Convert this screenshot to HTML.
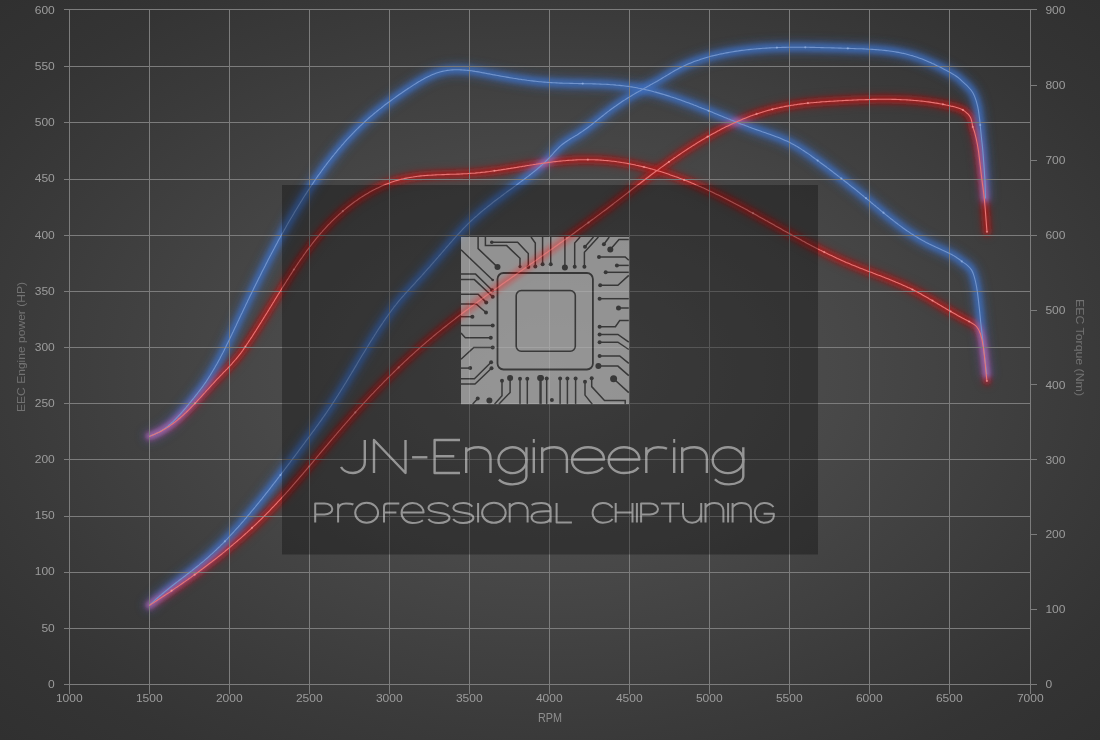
<!DOCTYPE html><html><head><meta charset="utf-8"><title>Dyno chart</title><style>
html,body{margin:0;padding:0;width:1100px;height:740px;overflow:hidden;background:#303030;}
#bg{position:absolute;left:0;top:0;width:1100px;height:740px;background:radial-gradient(ellipse farthest-corner at 50% 50%,#565656 0%,#484848 38%,#3a3a3a 70%,#343434 85%,#303030 100%);}
svg{position:absolute;left:0;top:0;}
text{font-family:"Liberation Sans",sans-serif;}
</style></head><body><div id="bg"></div>
<svg width="1100" height="740" viewBox="0 0 1100 740">
<defs>
<filter id="gbo" x="-20%" y="-20%" width="140%" height="140%"><feGaussianBlur stdDeviation="4.2"/></filter>
<filter id="gro" x="-20%" y="-20%" width="140%" height="140%"><feGaussianBlur stdDeviation="4"/></filter>
<filter id="gbi" x="-20%" y="-20%" width="140%" height="140%"><feGaussianBlur stdDeviation="2"/></filter>
<filter id="gri" x="-20%" y="-20%" width="140%" height="140%"><feGaussianBlur stdDeviation="2"/></filter>
</defs>
<g fill="none" stroke-linejoin="round" stroke-linecap="round" style="isolation:isolate">
<g>
<path d="M149.5,436.2 L151.2,435.6 L152.9,434.9 L154.6,434.2 L156.2,433.5 L157.7,432.7 L159.3,431.9 L160.8,431.0 L162.3,430.1 L163.7,429.1 L165.1,428.2 L166.5,427.1 L167.9,426.1 L169.2,425.0 L170.5,423.9 L171.8,422.7 L173.1,421.6 L174.3,420.4 L175.5,419.2 L176.7,417.9 L177.9,416.7 L179.1,415.4 L180.3,414.1 L181.4,412.8 L182.6,411.5 L183.7,410.2 L184.9,408.8 L186.0,407.5 L187.1,406.1 L188.2,404.8 L189.3,403.4 L190.5,402.1 L191.6,400.7 L192.7,399.3 L193.8,398.0 L194.9,396.6 L196.0,395.2 L197.1,393.9 L198.1,392.5 L199.2,391.1 L200.3,389.7 L201.3,388.3 L202.4,386.9 L203.4,385.5 L204.4,384.0 L205.4,382.6 L206.4,381.2 L207.3,379.7 L208.3,378.2 L209.2,376.8 L210.2,375.3 L211.1,373.8 L212.0,372.3 L212.9,370.8 L213.8,369.3 L214.7,367.8 L215.5,366.3 L216.4,364.8 L217.3,363.3 L218.1,361.7 L218.9,360.2 L219.8,358.7 L220.6,357.1 L221.4,355.6 L222.2,354.0 L223.0,352.5 L223.8,350.9 L224.6,349.3 L225.4,347.8 L226.1,346.2 L226.9,344.6 L227.7,343.1 L228.4,341.5 L229.2,339.9 L230.0,338.3 L230.7,336.7 L231.5,335.2 L232.2,333.6 L233.0,332.0 L233.7,330.4 L234.5,328.8 L235.2,327.2 L236.0,325.7 L236.7,324.1 L237.5,322.5 L238.2,320.9 L239.0,319.3 L239.7,317.7 L240.5,316.1 L241.2,314.6 L242.0,313.0 L242.7,311.4 L243.5,309.8 L244.2,308.2 L245.0,306.7 L245.7,305.1 L246.5,303.5 L247.3,301.9 L248.0,300.3 L248.8,298.8 L249.5,297.2 L250.3,295.6 L251.1,294.0 L251.8,292.5 L252.6,290.9 L253.4,289.3 L254.1,287.8 L254.9,286.2 L255.7,284.6 L256.5,283.0 L257.2,281.5 L258.0,279.9 L258.8,278.3 L259.6,276.8 L260.4,275.2 L261.1,273.7 L261.9,272.1 L262.7,270.5 L263.5,269.0 L264.3,267.4 L265.1,265.9 L265.9,264.3 L266.7,262.7 L267.5,261.2 L268.3,259.6 L269.1,258.1 L269.9,256.5 L270.7,255.0 L271.5,253.4 L272.3,251.9 L273.1,250.4 L274.0,248.8 L274.8,247.3 L275.6,245.7 L276.4,244.2 L277.3,242.7 L278.1,241.1 L278.9,239.6 L279.8,238.0 L280.6,236.5 L281.5,235.0 L282.3,233.5 L283.2,231.9 L284.0,230.4 L284.9,228.9 L285.7,227.4 L286.6,225.8 L287.5,224.3 L288.3,222.8 L289.2,221.3 L290.1,219.8 L291.0,218.3 L291.9,216.8 L292.8,215.2 L293.7,213.7 L294.5,212.2 L295.4,210.7 L296.4,209.2 L297.3,207.7 L298.2,206.2 L299.1,204.7 L300.0,203.3 L300.9,201.8 L301.9,200.3 L302.8,198.8 L303.7,197.3 L304.7,195.8 L305.6,194.4 L306.6,192.9 L307.5,191.4 L308.5,189.9 L309.4,188.5 L310.4,187.0 L311.4,185.5 L312.4,184.1 L313.4,182.6 L314.3,181.2 L315.3,179.7 L316.3,178.3 L317.3,176.9 L318.3,175.4 L319.4,174.0 L320.4,172.6 L321.4,171.2 L322.4,169.7 L323.5,168.3 L324.5,166.9 L325.6,165.5 L326.6,164.1 L327.7,162.7 L328.7,161.3 L329.8,160.0 L330.9,158.6 L332.0,157.2 L333.1,155.8 L334.2,154.5 L335.3,153.1 L336.4,151.8 L337.5,150.4 L338.6,149.1 L339.7,147.8 L340.9,146.5 L342.0,145.1 L343.2,143.8 L344.3,142.5 L345.5,141.2 L346.6,139.9 L347.8,138.7 L349.0,137.4 L350.2,136.1 L351.4,134.9 L352.6,133.6 L353.8,132.4 L355.0,131.1 L356.2,129.9 L357.5,128.7 L358.7,127.5 L360.0,126.2 L361.2,125.1 L362.5,123.9 L363.8,122.7 L365.0,121.5 L366.3,120.3 L367.6,119.2 L368.9,118.0 L370.2,116.9 L371.6,115.8 L372.9,114.6 L374.2,113.5 L375.6,112.4 L376.9,111.3 L378.3,110.2 L379.6,109.1 L381.0,108.1 L382.4,107.0 L383.7,105.9 L385.1,104.8 L386.5,103.8 L387.9,102.7 L389.3,101.7 L390.7,100.7 L392.2,99.6 L393.6,98.6 L395.0,97.6 L396.5,96.5 L397.9,95.5 L399.3,94.5 L400.8,93.5 L402.3,92.5 L403.7,91.5 L405.2,90.5 L406.7,89.5 L408.1,88.5 L409.6,87.6 L411.1,86.6 L412.6,85.6 L414.1,84.6 L415.6,83.7 L417.1,82.7 L418.6,81.8 L420.2,80.9 L421.7,80.0 L423.2,79.2 L424.8,78.3 L426.3,77.5 L427.9,76.7 L429.5,76.0 L431.0,75.3 L432.6,74.6 L434.2,73.9 L435.8,73.3 L437.4,72.8 L439.1,72.3 L440.7,71.8 L442.3,71.4 L444.0,71.0 L445.7,70.7 L447.3,70.4 L449.0,70.2 L450.7,70.0 L452.4,69.9 L454.1,69.8 L455.8,69.8 L457.6,69.8 L459.3,69.8 L461.0,69.9 L462.8,70.0 L464.5,70.1 L466.3,70.2 L468.0,70.4 L469.8,70.6 L471.5,70.8 L473.3,71.1 L475.1,71.4 L476.8,71.6 L478.6,71.9 L480.4,72.2 L482.1,72.6 L483.9,72.9 L485.7,73.2 L487.4,73.6 L489.2,73.9 L490.9,74.2 L492.7,74.6 L494.4,74.9 L496.2,75.2 L497.9,75.5 L499.7,75.9 L501.4,76.2 L503.1,76.5 L504.9,76.8 L506.6,77.1 L508.3,77.4 L510.0,77.7 L511.8,78.0 L513.5,78.3 L515.2,78.5 L516.9,78.8 L518.6,79.1 L520.3,79.3 L522.1,79.6 L523.8,79.8 L525.5,80.0 L527.2,80.3 L528.9,80.5 L530.6,80.7 L532.3,80.9 L534.0,81.1 L535.8,81.3 L537.5,81.5 L539.2,81.7 L540.9,81.8 L542.6,82.0 L544.4,82.1 L546.1,82.3 L547.8,82.4 L549.5,82.5 L551.3,82.6 L553.0,82.7 L554.7,82.8 L556.5,82.9 L558.2,83.0 L560.0,83.1 L561.7,83.1 L563.4,83.2 L565.2,83.2 L566.9,83.3 L568.7,83.3 L570.4,83.4 L572.2,83.4 L574.0,83.5 L575.7,83.5 L577.5,83.5 L579.2,83.6 L581.0,83.6 L582.7,83.6 L584.5,83.7 L586.3,83.7 L588.0,83.7 L589.8,83.8 L591.5,83.8 L593.3,83.9 L595.0,83.9 L596.8,84.0 L598.6,84.0 L600.3,84.1 L602.1,84.2 L603.8,84.3 L605.6,84.3 L607.3,84.4 L609.1,84.5 L610.8,84.7 L612.6,84.8 L614.3,84.9 L616.1,85.1 L617.8,85.2 L619.6,85.4 L621.3,85.6 L623.1,85.8 L624.8,86.0 L626.5,86.2 L628.3,86.4 L630.0,86.7 L631.7,86.9 L633.4,87.2 L635.2,87.5 L636.9,87.8 L638.6,88.2 L640.3,88.5 L642.0,88.9 L643.7,89.2 L645.4,89.6 L647.1,90.0 L648.8,90.4 L650.5,90.8 L652.2,91.2 L653.9,91.7 L655.6,92.1 L657.3,92.6 L659.0,93.1 L660.7,93.6 L662.4,94.1 L664.0,94.6 L665.7,95.1 L667.4,95.6 L669.1,96.1 L670.7,96.7 L672.4,97.2 L674.1,97.8 L675.7,98.3 L677.4,98.9 L679.1,99.5 L680.7,100.1 L682.4,100.7 L684.0,101.3 L685.7,101.9 L687.3,102.5 L689.0,103.1 L690.6,103.7 L692.3,104.3 L693.9,105.0 L695.5,105.6 L697.2,106.2 L698.8,106.9 L700.4,107.5 L702.1,108.2 L703.7,108.8 L705.3,109.5 L706.9,110.1 L708.6,110.8 L710.2,111.4 L711.8,112.1 L713.4,112.8 L715.0,113.4 L716.6,114.1 L718.2,114.7 L719.9,115.4 L721.5,116.1 L723.1,116.7 L724.7,117.4 L726.3,118.0 L727.9,118.7 L729.5,119.3 L731.1,120.0 L732.7,120.6 L734.3,121.3 L736.0,121.9 L737.6,122.6 L739.2,123.2 L740.8,123.9 L742.4,124.5 L744.1,125.1 L745.7,125.7 L747.3,126.3 L749.0,127.0 L750.6,127.6 L752.2,128.2 L753.9,128.8 L755.5,129.4 L757.2,129.9 L758.9,130.5 L760.5,131.1 L762.2,131.7 L763.8,132.2 L765.5,132.8 L767.2,133.4 L768.8,134.0 L770.5,134.6 L772.2,135.2 L773.8,135.8 L775.4,136.4 L777.1,137.0 L778.7,137.6 L780.3,138.3 L782.0,139.0 L783.6,139.7 L785.2,140.4 L786.8,141.1 L788.3,141.8 L789.9,142.6 L791.4,143.4 L793.0,144.2 L794.5,145.1 L796.0,145.9 L797.5,146.8 L799.0,147.7 L800.5,148.6 L801.9,149.6 L803.4,150.5 L804.8,151.5 L806.3,152.5 L807.7,153.4 L809.2,154.4 L810.6,155.4 L812.0,156.5 L813.4,157.5 L814.8,158.5 L816.3,159.5 L817.7,160.6 L819.1,161.6 L820.5,162.7 L821.9,163.7 L823.3,164.7 L824.7,165.8 L826.1,166.8 L827.5,167.9 L828.9,168.9 L830.3,170.0 L831.7,171.0 L833.1,172.1 L834.5,173.2 L835.9,174.2 L837.2,175.3 L838.6,176.4 L840.0,177.4 L841.4,178.5 L842.8,179.6 L844.2,180.7 L845.5,181.7 L846.9,182.8 L848.3,183.9 L849.6,185.0 L851.0,186.1 L852.4,187.2 L853.8,188.3 L855.1,189.3 L856.5,190.4 L857.8,191.5 L859.2,192.6 L860.6,193.8 L861.9,194.9 L863.3,196.0 L864.6,197.1 L866.0,198.2 L867.3,199.3 L868.7,200.4 L870.0,201.5 L871.3,202.7 L872.7,203.8 L874.0,204.9 L875.4,206.0 L876.7,207.1 L878.1,208.2 L879.4,209.4 L880.7,210.5 L882.1,211.6 L883.4,212.7 L884.8,213.8 L886.1,214.9 L887.5,216.0 L888.9,217.1 L890.2,218.2 L891.6,219.3 L893.0,220.3 L894.3,221.4 L895.7,222.5 L897.1,223.5 L898.5,224.6 L899.9,225.6 L901.3,226.6 L902.7,227.7 L904.1,228.7 L905.5,229.7 L906.9,230.7 L908.4,231.6 L909.8,232.6 L911.2,233.6 L912.7,234.5 L914.2,235.5 L915.6,236.4 L917.1,237.3 L918.6,238.2 L920.1,239.1 L921.6,239.9 L923.1,240.8 L924.7,241.6 L926.2,242.5 L927.8,243.3 L929.3,244.1 L930.9,244.8 L932.5,245.6 L934.1,246.3 L935.7,247.1 L937.3,247.8 L938.9,248.5 L940.6,249.2 L942.2,250.0 L943.8,250.7 L945.4,251.4 L947.0,252.2 L948.6,253.0 L950.1,253.8 L951.7,254.6 L953.2,255.4 L954.7,256.3 L956.2,257.2 L957.6,258.2 L959.1,259.2 L960.5,260.3 L961.8,261.4 C964.0,263.0 965.3,263.6 967.4,265.4 C969.2,267.0 970.2,267.9 971.5,269.9 C972.8,272.0 973.1,273.3 973.9,275.6 C974.7,278.1 975.0,279.4 975.6,282.0 C976.4,285.7 976.8,287.6 977.3,291.4 C978.3,298.8 978.7,302.6 979.5,310.0 C980.2,316.0 980.3,319.0 981.0,325.0 C981.7,331.0 982.1,334.0 982.8,340.0 C983.6,346.9 983.9,350.4 984.7,357.3 C985.5,364.0 985.9,367.3 986.7,374.0" stroke="#3868c0" stroke-width="13" stroke-opacity="0.42" filter="url(#gbo)"/>
<path d="M149.6,605.2 L150.9,604.0 L152.1,602.8 L153.4,601.6 L154.7,600.4 L156.0,599.2 L157.4,598.0 L158.7,596.9 L160.0,595.7 L161.4,594.6 L162.7,593.5 L164.1,592.3 L165.4,591.2 L166.8,590.1 L168.2,589.0 L169.6,587.9 L171.0,586.8 L172.3,585.7 L173.7,584.6 L175.1,583.5 L176.5,582.4 L177.9,581.4 L179.3,580.3 L180.7,579.2 L182.1,578.1 L183.6,577.0 L185.0,576.0 L186.4,574.9 L187.8,573.8 L189.2,572.7 L190.6,571.6 L192.0,570.6 L193.3,569.5 L194.7,568.4 L196.1,567.3 L197.5,566.2 L198.9,565.1 L200.2,563.9 L201.6,562.8 L203.0,561.7 L204.3,560.6 L205.6,559.4 L207.0,558.3 L208.3,557.1 L209.6,555.9 L210.9,554.7 L212.2,553.6 L213.5,552.4 L214.8,551.2 L216.1,550.0 L217.4,548.7 L218.6,547.5 L219.9,546.3 L221.1,545.0 L222.4,543.8 L223.6,542.6 L224.9,541.3 L226.1,540.0 L227.3,538.8 L228.5,537.5 L229.7,536.2 L230.9,534.9 L232.1,533.6 L233.3,532.3 L234.5,531.0 L235.7,529.7 L236.9,528.4 L238.1,527.1 L239.2,525.8 L240.4,524.5 L241.5,523.1 L242.7,521.8 L243.9,520.5 L245.0,519.1 L246.2,517.8 L247.3,516.4 L248.4,515.1 L249.6,513.8 L250.7,512.4 L251.8,511.0 L253.0,509.7 L254.1,508.3 L255.2,507.0 L256.3,505.6 L257.5,504.2 L258.6,502.9 L259.7,501.5 L260.8,500.1 L261.9,498.8 L263.0,497.4 L264.1,496.0 L265.2,494.6 L266.3,493.2 L267.4,491.9 L268.5,490.5 L269.6,489.1 L270.7,487.7 L271.7,486.3 L272.8,484.9 L273.9,483.5 L275.0,482.1 L276.1,480.7 L277.1,479.3 L278.2,477.9 L279.3,476.5 L280.4,475.1 L281.4,473.7 L282.5,472.3 L283.6,470.9 L284.6,469.5 L285.7,468.1 L286.8,466.7 L287.8,465.3 L288.9,463.9 L290.0,462.5 L291.0,461.0 L292.1,459.6 L293.1,458.2 L294.2,456.8 L295.3,455.4 L296.3,454.0 L297.4,452.6 L298.4,451.2 L299.5,449.7 L300.5,448.3 L301.6,446.9 L302.6,445.5 L303.7,444.1 L304.7,442.7 L305.8,441.2 L306.8,439.8 L307.9,438.4 L308.9,437.0 L310.0,435.6 L311.0,434.2 L312.1,432.7 L313.1,431.3 L314.2,429.9 L315.2,428.5 L316.2,427.0 L317.3,425.6 L318.3,424.2 L319.3,422.8 L320.4,421.3 L321.4,419.9 L322.4,418.4 L323.4,417.0 L324.4,415.6 L325.4,414.1 L326.4,412.7 L327.4,411.2 L328.4,409.8 L329.4,408.3 L330.4,406.8 L331.4,405.4 L332.3,403.9 L333.3,402.4 L334.3,401.0 L335.2,399.5 L336.2,398.0 L337.1,396.5 L338.1,395.0 L339.0,393.5 L340.0,392.0 L340.9,390.5 L341.8,389.0 L342.8,387.5 L343.7,386.0 L344.6,384.5 L345.6,383.0 L346.5,381.5 L347.4,380.0 L348.3,378.5 L349.2,377.0 L350.1,375.5 L351.0,374.0 L351.9,372.4 L352.9,370.9 L353.8,369.4 L354.7,367.9 L355.6,366.4 L356.5,364.9 L357.4,363.3 L358.3,361.8 L359.2,360.3 L360.1,358.8 L361.0,357.3 L361.9,355.8 L362.8,354.3 L363.8,352.7 L364.7,351.2 L365.6,349.7 L366.5,348.2 L367.4,346.7 L368.4,345.2 L369.3,343.7 L370.2,342.2 L371.1,340.7 L372.1,339.2 L373.0,337.7 L374.0,336.2 L374.9,334.7 L375.9,333.3 L376.8,331.8 L377.8,330.3 L378.7,328.8 L379.7,327.4 L380.7,325.9 L381.7,324.4 L382.7,323.0 L383.6,321.5 L384.6,320.1 L385.6,318.6 L386.7,317.2 L387.7,315.7 L388.7,314.3 L389.7,312.9 L390.8,311.5 L391.8,310.0 L392.9,308.6 L393.9,307.2 L395.0,305.8 L396.1,304.5 L397.2,303.1 L398.3,301.7 L399.4,300.4 L400.6,299.0 L401.7,297.7 L402.9,296.3 L404.1,295.0 L405.2,293.7 L406.4,292.4 L407.6,291.1 L408.8,289.8 L410.0,288.5 L411.2,287.2 L412.4,285.9 L413.6,284.6 L414.8,283.3 L415.9,282.0 L417.1,280.7 L418.3,279.4 L419.5,278.1 L420.7,276.8 L421.9,275.5 L423.1,274.1 L424.2,272.8 L425.4,271.5 L426.6,270.2 L427.7,268.9 L428.9,267.6 L430.1,266.3 L431.2,264.9 L432.4,263.6 L433.5,262.3 L434.7,261.0 L435.9,259.7 L437.0,258.3 L438.2,257.0 L439.3,255.7 L440.5,254.3 L441.6,253.0 L442.8,251.7 L443.9,250.3 L445.1,249.0 L446.2,247.7 L447.4,246.3 L448.6,245.0 L449.7,243.6 L450.9,242.3 L452.1,241.0 L453.2,239.7 L454.4,238.3 L455.6,237.0 L456.8,235.7 L458.0,234.4 L459.2,233.1 L460.4,231.8 L461.6,230.5 L462.8,229.2 L464.0,227.9 L465.3,226.7 L466.5,225.4 L467.7,224.2 L469.0,222.9 L470.3,221.7 L471.5,220.5 L472.8,219.3 L474.1,218.1 L475.4,217.0 L476.8,215.8 L478.1,214.6 L479.4,213.5 L480.7,212.3 L482.1,211.2 L483.4,210.1 L484.8,209.0 L486.2,207.9 L487.5,206.8 L488.9,205.7 L490.3,204.6 L491.7,203.5 L493.0,202.4 L494.4,201.3 L495.8,200.3 L497.2,199.2 L498.6,198.1 L500.1,197.1 L501.5,196.0 L502.9,195.0 L504.3,193.9 L505.7,192.9 L507.1,191.8 L508.5,190.8 L510.0,189.7 L511.4,188.7 L512.8,187.7 L514.2,186.6 L515.7,185.6 L517.1,184.5 L518.5,183.5 L519.9,182.4 L521.3,181.4 L522.7,180.3 L524.2,179.3 L525.6,178.2 L527.0,177.1 L528.4,176.1 L529.8,175.0 L531.2,173.9 L532.6,172.8 L533.9,171.7 L535.3,170.6 L536.7,169.5 L538.0,168.3 L539.4,167.2 L540.7,166.0 L542.0,164.9 L543.3,163.7 L544.6,162.5 L545.9,161.2 L547.1,160.0 L548.4,158.7 L549.6,157.5 L550.8,156.2 L552.0,154.9 L553.2,153.5 L554.3,152.2 L555.5,150.9 L556.7,149.6 L558.0,148.4 L559.2,147.1 L560.5,145.9 L561.8,144.8 L563.2,143.7 L564.6,142.7 L566.0,141.7 L567.5,140.7 L569.0,139.8 L570.5,138.8 L572.0,137.9 L573.5,137.0 L575.0,136.1 L576.6,135.2 L578.1,134.3 L579.5,133.3 L581.0,132.3 L582.5,131.4 L583.9,130.3 L585.4,129.3 L586.8,128.3 L588.2,127.2 L589.6,126.1 L591.0,125.1 L592.4,124.0 L593.8,122.9 L595.2,121.8 L596.6,120.7 L597.9,119.6 L599.3,118.5 L600.7,117.4 L602.1,116.3 L603.5,115.2 L604.8,114.1 L606.2,113.0 L607.6,111.9 L609.0,110.9 L610.4,109.8 L611.8,108.8 L613.2,107.8 L614.6,106.7 L616.1,105.7 L617.5,104.7 L618.9,103.8 L620.4,102.8 L621.8,101.8 L623.3,100.8 L624.8,99.9 L626.2,99.0 L627.7,98.0 L629.2,97.1 L630.7,96.2 L632.2,95.3 L633.7,94.4 L635.2,93.5 L636.8,92.6 L638.3,91.8 L639.8,90.9 L641.4,90.0 L642.9,89.2 L644.4,88.3 L646.0,87.4 L647.5,86.6 L649.1,85.7 L650.6,84.8 L652.1,84.0 L653.7,83.1 L655.2,82.2 L656.7,81.4 L658.3,80.5 L659.8,79.6 L661.3,78.7 L662.8,77.8 L664.3,76.9 L665.8,76.0 L667.3,75.1 L668.8,74.2 L670.3,73.3 L671.8,72.4 L673.3,71.5 L674.9,70.6 L676.4,69.8 L678.0,68.9 L679.5,68.1 L681.1,67.3 L682.7,66.5 L684.3,65.8 L685.9,65.0 L687.5,64.3 L689.2,63.6 L690.8,62.9 L692.4,62.3 L694.1,61.6 L695.7,61.0 L697.4,60.4 L699.0,59.9 L700.7,59.3 L702.4,58.8 L704.1,58.2 L705.7,57.7 L707.4,57.2 L709.1,56.8 L710.8,56.3 L712.5,55.9 L714.2,55.5 L715.9,55.1 L717.6,54.7 L719.3,54.3 L721.1,53.9 L722.8,53.6 L724.5,53.2 L726.2,52.9 L728.0,52.6 L729.7,52.3 L731.4,52.0 L733.1,51.7 L734.9,51.4 L736.6,51.1 L738.4,50.9 L740.1,50.6 L741.8,50.4 L743.6,50.2 L745.3,50.0 L747.1,49.8 L748.8,49.6 L750.6,49.4 L752.3,49.2 L754.1,49.0 L755.8,48.9 L757.6,48.7 L759.3,48.6 L761.1,48.5 L762.8,48.3 L764.6,48.2 L766.4,48.1 L768.1,48.0 L769.9,47.9 L771.7,47.8 L773.4,47.7 L775.2,47.7 L776.9,47.6 L778.7,47.5 L780.5,47.5 L782.3,47.4 L784.0,47.4 L785.8,47.4 L787.6,47.3 L789.3,47.3 L791.1,47.3 L792.9,47.3 L794.6,47.3 L796.4,47.3 L798.2,47.3 L800.0,47.3 L801.7,47.3 L803.5,47.3 L805.3,47.3 L807.1,47.3 L808.8,47.3 L810.6,47.4 L812.4,47.4 L814.2,47.4 L815.9,47.5 L817.7,47.5 L819.5,47.5 L821.2,47.6 L823.0,47.6 L824.8,47.7 L826.6,47.7 L828.3,47.8 L830.1,47.8 L831.9,47.9 L833.6,47.9 L835.4,48.0 L837.2,48.0 L838.9,48.1 L840.7,48.1 L842.5,48.2 L844.2,48.3 L846.0,48.3 L847.8,48.4 L849.5,48.4 L851.3,48.5 L853.1,48.5 L854.8,48.6 L856.6,48.7 L858.3,48.7 L860.1,48.8 L861.8,48.8 L863.6,48.9 L865.3,49.0 L867.1,49.1 L868.8,49.2 L870.6,49.3 L872.3,49.4 L874.1,49.5 L875.8,49.6 L877.6,49.7 L879.3,49.9 L881.1,50.0 L882.8,50.2 L884.5,50.4 L886.3,50.6 L888.0,50.8 L889.7,51.0 L891.5,51.2 L893.2,51.5 L894.9,51.8 L896.6,52.1 L898.4,52.4 L900.1,52.7 L901.8,53.1 L903.5,53.4 L905.2,53.8 L906.9,54.2 L908.6,54.7 L910.4,55.2 L912.1,55.6 L913.8,56.2 L915.5,56.7 L917.2,57.3 L918.9,57.9 L920.6,58.5 L922.2,59.1 L923.9,59.8 L925.6,60.5 L927.3,61.2 L928.9,61.9 L930.6,62.6 L932.2,63.4 L933.9,64.1 L935.5,64.9 L937.1,65.7 L938.8,66.5 L940.4,67.3 L941.9,68.1 L943.5,68.9 L945.1,69.8 L946.6,70.6 L948.2,71.4 L949.7,72.3 L951.2,73.1 L952.7,74.0 L954.2,74.9 L955.6,75.8 L957.0,76.8 L958.4,77.8 L959.7,78.9 L961.0,80.1 L962.3,81.4 C966.1,84.5 967.9,86.2 971.0,90.0 C972.9,92.3 973.6,93.8 974.7,96.6 C976.2,100.3 976.7,102.2 977.6,106.1 C978.7,110.9 978.8,113.5 979.5,118.4 C979.9,121.0 979.9,122.4 980.2,125.0 C980.7,129.9 980.9,132.4 981.4,137.3 C981.9,142.6 982.4,145.2 982.8,150.5 C983.8,162.1 984.2,168.0 984.9,179.6 C985.3,187.0 985.3,190.6 985.5,198.0" stroke="#3868c0" stroke-width="13" stroke-opacity="0.42" filter="url(#gbo)"/>
<path d="M149.5,436.2 L151.2,435.6 L152.9,434.9 L154.6,434.2 L156.2,433.5 L157.7,432.7 L159.3,431.9 L160.8,431.0 L162.3,430.1 L163.7,429.1 L165.1,428.2 L166.5,427.1 L167.9,426.1 L169.2,425.0 L170.5,423.9 L171.8,422.7 L173.1,421.6 L174.3,420.4 L175.5,419.2 L176.7,417.9 L177.9,416.7 L179.1,415.4 L180.3,414.1 L181.4,412.8 L182.6,411.5 L183.7,410.2 L184.9,408.8 L186.0,407.5 L187.1,406.1 L188.2,404.8 L189.3,403.4 L190.5,402.1 L191.6,400.7 L192.7,399.3 L193.8,398.0 L194.9,396.6 L196.0,395.2 L197.1,393.9 L198.1,392.5 L199.2,391.1 L200.3,389.7 L201.3,388.3 L202.4,386.9 L203.4,385.5 L204.4,384.0 L205.4,382.6 L206.4,381.2 L207.3,379.7 L208.3,378.2 L209.2,376.8 L210.2,375.3 L211.1,373.8 L212.0,372.3 L212.9,370.8 L213.8,369.3 L214.7,367.8 L215.5,366.3 L216.4,364.8 L217.3,363.3 L218.1,361.7 L218.9,360.2 L219.8,358.7 L220.6,357.1 L221.4,355.6 L222.2,354.0 L223.0,352.5 L223.8,350.9 L224.6,349.3 L225.4,347.8 L226.1,346.2 L226.9,344.6 L227.7,343.1 L228.4,341.5 L229.2,339.9 L230.0,338.3 L230.7,336.7 L231.5,335.2 L232.2,333.6 L233.0,332.0 L233.7,330.4 L234.5,328.8 L235.2,327.2 L236.0,325.7 L236.7,324.1 L237.5,322.5 L238.2,320.9 L239.0,319.3 L239.7,317.7 L240.5,316.1 L241.2,314.6 L242.0,313.0 L242.7,311.4 L243.5,309.8 L244.2,308.2 L245.0,306.7 L245.7,305.1 L246.5,303.5 L247.3,301.9 L248.0,300.3 L248.8,298.8 L249.5,297.2 L250.3,295.6 L251.1,294.0 L251.8,292.5 L252.6,290.9 L253.4,289.3 L254.1,287.8 L254.9,286.2 L255.7,284.6 L256.5,283.0 L257.2,281.5 L258.0,279.9 L258.8,278.3 L259.6,276.8 L260.4,275.2 L261.1,273.7 L261.9,272.1 L262.7,270.5 L263.5,269.0 L264.3,267.4 L265.1,265.9 L265.9,264.3 L266.7,262.7 L267.5,261.2 L268.3,259.6 L269.1,258.1 L269.9,256.5 L270.7,255.0 L271.5,253.4 L272.3,251.9 L273.1,250.4 L274.0,248.8 L274.8,247.3 L275.6,245.7 L276.4,244.2 L277.3,242.7 L278.1,241.1 L278.9,239.6 L279.8,238.0 L280.6,236.5 L281.5,235.0 L282.3,233.5 L283.2,231.9 L284.0,230.4 L284.9,228.9 L285.7,227.4 L286.6,225.8 L287.5,224.3 L288.3,222.8 L289.2,221.3 L290.1,219.8 L291.0,218.3 L291.9,216.8 L292.8,215.2 L293.7,213.7 L294.5,212.2 L295.4,210.7 L296.4,209.2 L297.3,207.7 L298.2,206.2 L299.1,204.7 L300.0,203.3 L300.9,201.8 L301.9,200.3 L302.8,198.8 L303.7,197.3 L304.7,195.8 L305.6,194.4 L306.6,192.9 L307.5,191.4 L308.5,189.9 L309.4,188.5 L310.4,187.0 L311.4,185.5 L312.4,184.1 L313.4,182.6 L314.3,181.2 L315.3,179.7 L316.3,178.3 L317.3,176.9 L318.3,175.4 L319.4,174.0 L320.4,172.6 L321.4,171.2 L322.4,169.7 L323.5,168.3 L324.5,166.9 L325.6,165.5 L326.6,164.1 L327.7,162.7 L328.7,161.3 L329.8,160.0 L330.9,158.6 L332.0,157.2 L333.1,155.8 L334.2,154.5 L335.3,153.1 L336.4,151.8 L337.5,150.4 L338.6,149.1 L339.7,147.8 L340.9,146.5 L342.0,145.1 L343.2,143.8 L344.3,142.5 L345.5,141.2 L346.6,139.9 L347.8,138.7 L349.0,137.4 L350.2,136.1 L351.4,134.9 L352.6,133.6 L353.8,132.4 L355.0,131.1 L356.2,129.9 L357.5,128.7 L358.7,127.5 L360.0,126.2 L361.2,125.1 L362.5,123.9 L363.8,122.7 L365.0,121.5 L366.3,120.3 L367.6,119.2 L368.9,118.0 L370.2,116.9 L371.6,115.8 L372.9,114.6 L374.2,113.5 L375.6,112.4 L376.9,111.3 L378.3,110.2 L379.6,109.1 L381.0,108.1 L382.4,107.0 L383.7,105.9 L385.1,104.8 L386.5,103.8 L387.9,102.7 L389.3,101.7 L390.7,100.7 L392.2,99.6 L393.6,98.6 L395.0,97.6 L396.5,96.5 L397.9,95.5 L399.3,94.5 L400.8,93.5 L402.3,92.5 L403.7,91.5 L405.2,90.5 L406.7,89.5 L408.1,88.5 L409.6,87.6 L411.1,86.6 L412.6,85.6 L414.1,84.6 L415.6,83.7 L417.1,82.7 L418.6,81.8 L420.2,80.9 L421.7,80.0 L423.2,79.2 L424.8,78.3 L426.3,77.5 L427.9,76.7 L429.5,76.0 L431.0,75.3 L432.6,74.6 L434.2,73.9 L435.8,73.3 L437.4,72.8 L439.1,72.3 L440.7,71.8 L442.3,71.4 L444.0,71.0 L445.7,70.7 L447.3,70.4 L449.0,70.2 L450.7,70.0 L452.4,69.9 L454.1,69.8 L455.8,69.8 L457.6,69.8 L459.3,69.8 L461.0,69.9 L462.8,70.0 L464.5,70.1 L466.3,70.2 L468.0,70.4 L469.8,70.6 L471.5,70.8 L473.3,71.1 L475.1,71.4 L476.8,71.6 L478.6,71.9 L480.4,72.2 L482.1,72.6 L483.9,72.9 L485.7,73.2 L487.4,73.6 L489.2,73.9 L490.9,74.2 L492.7,74.6 L494.4,74.9 L496.2,75.2 L497.9,75.5 L499.7,75.9 L501.4,76.2 L503.1,76.5 L504.9,76.8 L506.6,77.1 L508.3,77.4 L510.0,77.7 L511.8,78.0 L513.5,78.3 L515.2,78.5 L516.9,78.8 L518.6,79.1 L520.3,79.3 L522.1,79.6 L523.8,79.8 L525.5,80.0 L527.2,80.3 L528.9,80.5 L530.6,80.7 L532.3,80.9 L534.0,81.1 L535.8,81.3 L537.5,81.5 L539.2,81.7 L540.9,81.8 L542.6,82.0 L544.4,82.1 L546.1,82.3 L547.8,82.4 L549.5,82.5 L551.3,82.6 L553.0,82.7 L554.7,82.8 L556.5,82.9 L558.2,83.0 L560.0,83.1 L561.7,83.1 L563.4,83.2 L565.2,83.2 L566.9,83.3 L568.7,83.3 L570.4,83.4 L572.2,83.4 L574.0,83.5 L575.7,83.5 L577.5,83.5 L579.2,83.6 L581.0,83.6 L582.7,83.6 L584.5,83.7 L586.3,83.7 L588.0,83.7 L589.8,83.8 L591.5,83.8 L593.3,83.9 L595.0,83.9 L596.8,84.0 L598.6,84.0 L600.3,84.1 L602.1,84.2 L603.8,84.3 L605.6,84.3 L607.3,84.4 L609.1,84.5 L610.8,84.7 L612.6,84.8 L614.3,84.9 L616.1,85.1 L617.8,85.2 L619.6,85.4 L621.3,85.6 L623.1,85.8 L624.8,86.0 L626.5,86.2 L628.3,86.4 L630.0,86.7 L631.7,86.9 L633.4,87.2 L635.2,87.5 L636.9,87.8 L638.6,88.2 L640.3,88.5 L642.0,88.9 L643.7,89.2 L645.4,89.6 L647.1,90.0 L648.8,90.4 L650.5,90.8 L652.2,91.2 L653.9,91.7 L655.6,92.1 L657.3,92.6 L659.0,93.1 L660.7,93.6 L662.4,94.1 L664.0,94.6 L665.7,95.1 L667.4,95.6 L669.1,96.1 L670.7,96.7 L672.4,97.2 L674.1,97.8 L675.7,98.3 L677.4,98.9 L679.1,99.5 L680.7,100.1 L682.4,100.7 L684.0,101.3 L685.7,101.9 L687.3,102.5 L689.0,103.1 L690.6,103.7 L692.3,104.3 L693.9,105.0 L695.5,105.6 L697.2,106.2 L698.8,106.9 L700.4,107.5 L702.1,108.2 L703.7,108.8 L705.3,109.5 L706.9,110.1 L708.6,110.8 L710.2,111.4 L711.8,112.1 L713.4,112.8 L715.0,113.4 L716.6,114.1 L718.2,114.7 L719.9,115.4 L721.5,116.1 L723.1,116.7 L724.7,117.4 L726.3,118.0 L727.9,118.7 L729.5,119.3 L731.1,120.0 L732.7,120.6 L734.3,121.3 L736.0,121.9 L737.6,122.6 L739.2,123.2 L740.8,123.9 L742.4,124.5 L744.1,125.1 L745.7,125.7 L747.3,126.3 L749.0,127.0 L750.6,127.6 L752.2,128.2 L753.9,128.8 L755.5,129.4 L757.2,129.9 L758.9,130.5 L760.5,131.1 L762.2,131.7 L763.8,132.2 L765.5,132.8 L767.2,133.4 L768.8,134.0 L770.5,134.6 L772.2,135.2 L773.8,135.8 L775.4,136.4 L777.1,137.0 L778.7,137.6 L780.3,138.3 L782.0,139.0 L783.6,139.7 L785.2,140.4 L786.8,141.1 L788.3,141.8 L789.9,142.6 L791.4,143.4 L793.0,144.2 L794.5,145.1 L796.0,145.9 L797.5,146.8 L799.0,147.7 L800.5,148.6 L801.9,149.6 L803.4,150.5 L804.8,151.5 L806.3,152.5 L807.7,153.4 L809.2,154.4 L810.6,155.4 L812.0,156.5 L813.4,157.5 L814.8,158.5 L816.3,159.5 L817.7,160.6 L819.1,161.6 L820.5,162.7 L821.9,163.7 L823.3,164.7 L824.7,165.8 L826.1,166.8 L827.5,167.9 L828.9,168.9 L830.3,170.0 L831.7,171.0 L833.1,172.1 L834.5,173.2 L835.9,174.2 L837.2,175.3 L838.6,176.4 L840.0,177.4 L841.4,178.5 L842.8,179.6 L844.2,180.7 L845.5,181.7 L846.9,182.8 L848.3,183.9 L849.6,185.0 L851.0,186.1 L852.4,187.2 L853.8,188.3 L855.1,189.3 L856.5,190.4 L857.8,191.5 L859.2,192.6 L860.6,193.8 L861.9,194.9 L863.3,196.0 L864.6,197.1 L866.0,198.2 L867.3,199.3 L868.7,200.4 L870.0,201.5 L871.3,202.7 L872.7,203.8 L874.0,204.9 L875.4,206.0 L876.7,207.1 L878.1,208.2 L879.4,209.4 L880.7,210.5 L882.1,211.6 L883.4,212.7 L884.8,213.8 L886.1,214.9 L887.5,216.0 L888.9,217.1 L890.2,218.2 L891.6,219.3 L893.0,220.3 L894.3,221.4 L895.7,222.5 L897.1,223.5 L898.5,224.6 L899.9,225.6 L901.3,226.6 L902.7,227.7 L904.1,228.7 L905.5,229.7 L906.9,230.7 L908.4,231.6 L909.8,232.6 L911.2,233.6 L912.7,234.5 L914.2,235.5 L915.6,236.4 L917.1,237.3 L918.6,238.2 L920.1,239.1 L921.6,239.9 L923.1,240.8 L924.7,241.6 L926.2,242.5 L927.8,243.3 L929.3,244.1 L930.9,244.8 L932.5,245.6 L934.1,246.3 L935.7,247.1 L937.3,247.8 L938.9,248.5 L940.6,249.2 L942.2,250.0 L943.8,250.7 L945.4,251.4 L947.0,252.2 L948.6,253.0 L950.1,253.8 L951.7,254.6 L953.2,255.4 L954.7,256.3 L956.2,257.2 L957.6,258.2 L959.1,259.2 L960.5,260.3 L961.8,261.4 C964.0,263.0 965.3,263.6 967.4,265.4 C969.2,267.0 970.2,267.9 971.5,269.9 C972.8,272.0 973.1,273.3 973.9,275.6 C974.7,278.1 975.0,279.4 975.6,282.0 C976.4,285.7 976.8,287.6 977.3,291.4 C978.3,298.8 978.7,302.6 979.5,310.0 C980.2,316.0 980.3,319.0 981.0,325.0 C981.7,331.0 982.1,334.0 982.8,340.0 C983.6,346.9 983.9,350.4 984.7,357.3 C985.5,364.0 985.9,367.3 986.7,374.0" stroke="#406fbc" stroke-width="8" stroke-opacity="0.72" filter="url(#gbi)"/>
<path d="M149.6,605.2 L150.9,604.0 L152.1,602.8 L153.4,601.6 L154.7,600.4 L156.0,599.2 L157.4,598.0 L158.7,596.9 L160.0,595.7 L161.4,594.6 L162.7,593.5 L164.1,592.3 L165.4,591.2 L166.8,590.1 L168.2,589.0 L169.6,587.9 L171.0,586.8 L172.3,585.7 L173.7,584.6 L175.1,583.5 L176.5,582.4 L177.9,581.4 L179.3,580.3 L180.7,579.2 L182.1,578.1 L183.6,577.0 L185.0,576.0 L186.4,574.9 L187.8,573.8 L189.2,572.7 L190.6,571.6 L192.0,570.6 L193.3,569.5 L194.7,568.4 L196.1,567.3 L197.5,566.2 L198.9,565.1 L200.2,563.9 L201.6,562.8 L203.0,561.7 L204.3,560.6 L205.6,559.4 L207.0,558.3 L208.3,557.1 L209.6,555.9 L210.9,554.7 L212.2,553.6 L213.5,552.4 L214.8,551.2 L216.1,550.0 L217.4,548.7 L218.6,547.5 L219.9,546.3 L221.1,545.0 L222.4,543.8 L223.6,542.6 L224.9,541.3 L226.1,540.0 L227.3,538.8 L228.5,537.5 L229.7,536.2 L230.9,534.9 L232.1,533.6 L233.3,532.3 L234.5,531.0 L235.7,529.7 L236.9,528.4 L238.1,527.1 L239.2,525.8 L240.4,524.5 L241.5,523.1 L242.7,521.8 L243.9,520.5 L245.0,519.1 L246.2,517.8 L247.3,516.4 L248.4,515.1 L249.6,513.8 L250.7,512.4 L251.8,511.0 L253.0,509.7 L254.1,508.3 L255.2,507.0 L256.3,505.6 L257.5,504.2 L258.6,502.9 L259.7,501.5 L260.8,500.1 L261.9,498.8 L263.0,497.4 L264.1,496.0 L265.2,494.6 L266.3,493.2 L267.4,491.9 L268.5,490.5 L269.6,489.1 L270.7,487.7 L271.7,486.3 L272.8,484.9 L273.9,483.5 L275.0,482.1 L276.1,480.7 L277.1,479.3 L278.2,477.9 L279.3,476.5 L280.4,475.1 L281.4,473.7 L282.5,472.3 L283.6,470.9 L284.6,469.5 L285.7,468.1 L286.8,466.7 L287.8,465.3 L288.9,463.9 L290.0,462.5 L291.0,461.0 L292.1,459.6 L293.1,458.2 L294.2,456.8 L295.3,455.4 L296.3,454.0 L297.4,452.6 L298.4,451.2 L299.5,449.7 L300.5,448.3 L301.6,446.9 L302.6,445.5 L303.7,444.1 L304.7,442.7 L305.8,441.2 L306.8,439.8 L307.9,438.4 L308.9,437.0 L310.0,435.6 L311.0,434.2 L312.1,432.7 L313.1,431.3 L314.2,429.9 L315.2,428.5 L316.2,427.0 L317.3,425.6 L318.3,424.2 L319.3,422.8 L320.4,421.3 L321.4,419.9 L322.4,418.4 L323.4,417.0 L324.4,415.6 L325.4,414.1 L326.4,412.7 L327.4,411.2 L328.4,409.8 L329.4,408.3 L330.4,406.8 L331.4,405.4 L332.3,403.9 L333.3,402.4 L334.3,401.0 L335.2,399.5 L336.2,398.0 L337.1,396.5 L338.1,395.0 L339.0,393.5 L340.0,392.0 L340.9,390.5 L341.8,389.0 L342.8,387.5 L343.7,386.0 L344.6,384.5 L345.6,383.0 L346.5,381.5 L347.4,380.0 L348.3,378.5 L349.2,377.0 L350.1,375.5 L351.0,374.0 L351.9,372.4 L352.9,370.9 L353.8,369.4 L354.7,367.9 L355.6,366.4 L356.5,364.9 L357.4,363.3 L358.3,361.8 L359.2,360.3 L360.1,358.8 L361.0,357.3 L361.9,355.8 L362.8,354.3 L363.8,352.7 L364.7,351.2 L365.6,349.7 L366.5,348.2 L367.4,346.7 L368.4,345.2 L369.3,343.7 L370.2,342.2 L371.1,340.7 L372.1,339.2 L373.0,337.7 L374.0,336.2 L374.9,334.7 L375.9,333.3 L376.8,331.8 L377.8,330.3 L378.7,328.8 L379.7,327.4 L380.7,325.9 L381.7,324.4 L382.7,323.0 L383.6,321.5 L384.6,320.1 L385.6,318.6 L386.7,317.2 L387.7,315.7 L388.7,314.3 L389.7,312.9 L390.8,311.5 L391.8,310.0 L392.9,308.6 L393.9,307.2 L395.0,305.8 L396.1,304.5 L397.2,303.1 L398.3,301.7 L399.4,300.4 L400.6,299.0 L401.7,297.7 L402.9,296.3 L404.1,295.0 L405.2,293.7 L406.4,292.4 L407.6,291.1 L408.8,289.8 L410.0,288.5 L411.2,287.2 L412.4,285.9 L413.6,284.6 L414.8,283.3 L415.9,282.0 L417.1,280.7 L418.3,279.4 L419.5,278.1 L420.7,276.8 L421.9,275.5 L423.1,274.1 L424.2,272.8 L425.4,271.5 L426.6,270.2 L427.7,268.9 L428.9,267.6 L430.1,266.3 L431.2,264.9 L432.4,263.6 L433.5,262.3 L434.7,261.0 L435.9,259.7 L437.0,258.3 L438.2,257.0 L439.3,255.7 L440.5,254.3 L441.6,253.0 L442.8,251.7 L443.9,250.3 L445.1,249.0 L446.2,247.7 L447.4,246.3 L448.6,245.0 L449.7,243.6 L450.9,242.3 L452.1,241.0 L453.2,239.7 L454.4,238.3 L455.6,237.0 L456.8,235.7 L458.0,234.4 L459.2,233.1 L460.4,231.8 L461.6,230.5 L462.8,229.2 L464.0,227.9 L465.3,226.7 L466.5,225.4 L467.7,224.2 L469.0,222.9 L470.3,221.7 L471.5,220.5 L472.8,219.3 L474.1,218.1 L475.4,217.0 L476.8,215.8 L478.1,214.6 L479.4,213.5 L480.7,212.3 L482.1,211.2 L483.4,210.1 L484.8,209.0 L486.2,207.9 L487.5,206.8 L488.9,205.7 L490.3,204.6 L491.7,203.5 L493.0,202.4 L494.4,201.3 L495.8,200.3 L497.2,199.2 L498.6,198.1 L500.1,197.1 L501.5,196.0 L502.9,195.0 L504.3,193.9 L505.7,192.9 L507.1,191.8 L508.5,190.8 L510.0,189.7 L511.4,188.7 L512.8,187.7 L514.2,186.6 L515.7,185.6 L517.1,184.5 L518.5,183.5 L519.9,182.4 L521.3,181.4 L522.7,180.3 L524.2,179.3 L525.6,178.2 L527.0,177.1 L528.4,176.1 L529.8,175.0 L531.2,173.9 L532.6,172.8 L533.9,171.7 L535.3,170.6 L536.7,169.5 L538.0,168.3 L539.4,167.2 L540.7,166.0 L542.0,164.9 L543.3,163.7 L544.6,162.5 L545.9,161.2 L547.1,160.0 L548.4,158.7 L549.6,157.5 L550.8,156.2 L552.0,154.9 L553.2,153.5 L554.3,152.2 L555.5,150.9 L556.7,149.6 L558.0,148.4 L559.2,147.1 L560.5,145.9 L561.8,144.8 L563.2,143.7 L564.6,142.7 L566.0,141.7 L567.5,140.7 L569.0,139.8 L570.5,138.8 L572.0,137.9 L573.5,137.0 L575.0,136.1 L576.6,135.2 L578.1,134.3 L579.5,133.3 L581.0,132.3 L582.5,131.4 L583.9,130.3 L585.4,129.3 L586.8,128.3 L588.2,127.2 L589.6,126.1 L591.0,125.1 L592.4,124.0 L593.8,122.9 L595.2,121.8 L596.6,120.7 L597.9,119.6 L599.3,118.5 L600.7,117.4 L602.1,116.3 L603.5,115.2 L604.8,114.1 L606.2,113.0 L607.6,111.9 L609.0,110.9 L610.4,109.8 L611.8,108.8 L613.2,107.8 L614.6,106.7 L616.1,105.7 L617.5,104.7 L618.9,103.8 L620.4,102.8 L621.8,101.8 L623.3,100.8 L624.8,99.9 L626.2,99.0 L627.7,98.0 L629.2,97.1 L630.7,96.2 L632.2,95.3 L633.7,94.4 L635.2,93.5 L636.8,92.6 L638.3,91.8 L639.8,90.9 L641.4,90.0 L642.9,89.2 L644.4,88.3 L646.0,87.4 L647.5,86.6 L649.1,85.7 L650.6,84.8 L652.1,84.0 L653.7,83.1 L655.2,82.2 L656.7,81.4 L658.3,80.5 L659.8,79.6 L661.3,78.7 L662.8,77.8 L664.3,76.9 L665.8,76.0 L667.3,75.1 L668.8,74.2 L670.3,73.3 L671.8,72.4 L673.3,71.5 L674.9,70.6 L676.4,69.8 L678.0,68.9 L679.5,68.1 L681.1,67.3 L682.7,66.5 L684.3,65.8 L685.9,65.0 L687.5,64.3 L689.2,63.6 L690.8,62.9 L692.4,62.3 L694.1,61.6 L695.7,61.0 L697.4,60.4 L699.0,59.9 L700.7,59.3 L702.4,58.8 L704.1,58.2 L705.7,57.7 L707.4,57.2 L709.1,56.8 L710.8,56.3 L712.5,55.9 L714.2,55.5 L715.9,55.1 L717.6,54.7 L719.3,54.3 L721.1,53.9 L722.8,53.6 L724.5,53.2 L726.2,52.9 L728.0,52.6 L729.7,52.3 L731.4,52.0 L733.1,51.7 L734.9,51.4 L736.6,51.1 L738.4,50.9 L740.1,50.6 L741.8,50.4 L743.6,50.2 L745.3,50.0 L747.1,49.8 L748.8,49.6 L750.6,49.4 L752.3,49.2 L754.1,49.0 L755.8,48.9 L757.6,48.7 L759.3,48.6 L761.1,48.5 L762.8,48.3 L764.6,48.2 L766.4,48.1 L768.1,48.0 L769.9,47.9 L771.7,47.8 L773.4,47.7 L775.2,47.7 L776.9,47.6 L778.7,47.5 L780.5,47.5 L782.3,47.4 L784.0,47.4 L785.8,47.4 L787.6,47.3 L789.3,47.3 L791.1,47.3 L792.9,47.3 L794.6,47.3 L796.4,47.3 L798.2,47.3 L800.0,47.3 L801.7,47.3 L803.5,47.3 L805.3,47.3 L807.1,47.3 L808.8,47.3 L810.6,47.4 L812.4,47.4 L814.2,47.4 L815.9,47.5 L817.7,47.5 L819.5,47.5 L821.2,47.6 L823.0,47.6 L824.8,47.7 L826.6,47.7 L828.3,47.8 L830.1,47.8 L831.9,47.9 L833.6,47.9 L835.4,48.0 L837.2,48.0 L838.9,48.1 L840.7,48.1 L842.5,48.2 L844.2,48.3 L846.0,48.3 L847.8,48.4 L849.5,48.4 L851.3,48.5 L853.1,48.5 L854.8,48.6 L856.6,48.7 L858.3,48.7 L860.1,48.8 L861.8,48.8 L863.6,48.9 L865.3,49.0 L867.1,49.1 L868.8,49.2 L870.6,49.3 L872.3,49.4 L874.1,49.5 L875.8,49.6 L877.6,49.7 L879.3,49.9 L881.1,50.0 L882.8,50.2 L884.5,50.4 L886.3,50.6 L888.0,50.8 L889.7,51.0 L891.5,51.2 L893.2,51.5 L894.9,51.8 L896.6,52.1 L898.4,52.4 L900.1,52.7 L901.8,53.1 L903.5,53.4 L905.2,53.8 L906.9,54.2 L908.6,54.7 L910.4,55.2 L912.1,55.6 L913.8,56.2 L915.5,56.7 L917.2,57.3 L918.9,57.9 L920.6,58.5 L922.2,59.1 L923.9,59.8 L925.6,60.5 L927.3,61.2 L928.9,61.9 L930.6,62.6 L932.2,63.4 L933.9,64.1 L935.5,64.9 L937.1,65.7 L938.8,66.5 L940.4,67.3 L941.9,68.1 L943.5,68.9 L945.1,69.8 L946.6,70.6 L948.2,71.4 L949.7,72.3 L951.2,73.1 L952.7,74.0 L954.2,74.9 L955.6,75.8 L957.0,76.8 L958.4,77.8 L959.7,78.9 L961.0,80.1 L962.3,81.4 C966.1,84.5 967.9,86.2 971.0,90.0 C972.9,92.3 973.6,93.8 974.7,96.6 C976.2,100.3 976.7,102.2 977.6,106.1 C978.7,110.9 978.8,113.5 979.5,118.4 C979.9,121.0 979.9,122.4 980.2,125.0 C980.7,129.9 980.9,132.4 981.4,137.3 C981.9,142.6 982.4,145.2 982.8,150.5 C983.8,162.1 984.2,168.0 984.9,179.6 C985.3,187.0 985.3,190.6 985.5,198.0" stroke="#406fbc" stroke-width="8" stroke-opacity="0.72" filter="url(#gbi)"/>
</g>
<g style="mix-blend-mode:lighten">
<path d="M149.5,436.2 L151.1,435.7 L152.6,435.1 L154.1,434.4 L155.6,433.8 L157.1,433.1 L158.6,432.4 L160.0,431.7 L161.5,430.9 L162.9,430.1 L164.3,429.3 L165.6,428.5 L167.0,427.6 L168.3,426.7 L169.7,425.9 L171.0,424.9 L172.3,424.0 L173.6,423.0 L174.9,422.1 L176.1,421.1 L177.4,420.1 L178.6,419.0 L179.9,418.0 L181.1,416.9 L182.3,415.9 L183.5,414.8 L184.7,413.7 L185.9,412.6 L187.0,411.5 L188.2,410.3 L189.4,409.2 L190.5,408.0 L191.6,406.9 L192.8,405.7 L193.9,404.5 L195.0,403.3 L196.2,402.1 L197.3,400.9 L198.4,399.7 L199.5,398.5 L200.6,397.3 L201.7,396.1 L202.8,394.9 L203.9,393.7 L205.0,392.5 L206.1,391.2 L207.2,390.0 L208.3,388.8 L209.4,387.6 L210.5,386.4 L211.6,385.2 L212.7,384.0 L213.8,382.8 L214.9,381.6 L216.0,380.4 L217.1,379.2 L218.2,378.1 L219.4,376.9 L220.5,375.7 L221.6,374.6 L222.7,373.4 L223.8,372.2 L225.0,371.1 L226.1,369.9 L227.2,368.8 L228.3,367.6 L229.4,366.4 L230.5,365.3 L231.6,364.1 L232.6,362.9 L233.7,361.7 L234.7,360.5 L235.8,359.3 L236.8,358.1 L237.8,356.9 L238.8,355.6 L239.8,354.3 L240.8,353.1 L241.7,351.8 L242.7,350.5 L243.6,349.1 L244.5,347.8 L245.4,346.5 L246.3,345.2 L247.2,343.8 L248.1,342.5 L249.0,341.1 L249.9,339.8 L250.8,338.4 L251.7,337.1 L252.6,335.7 L253.4,334.4 L254.3,333.0 L255.2,331.6 L256.1,330.3 L256.9,328.9 L257.8,327.5 L258.7,326.1 L259.5,324.8 L260.4,323.4 L261.3,322.0 L262.1,320.6 L263.0,319.2 L263.8,317.9 L264.7,316.5 L265.5,315.1 L266.4,313.7 L267.3,312.3 L268.1,310.9 L269.0,309.5 L269.8,308.1 L270.7,306.8 L271.5,305.4 L272.4,304.0 L273.2,302.6 L274.1,301.2 L274.9,299.8 L275.8,298.4 L276.6,297.0 L277.5,295.6 L278.3,294.2 L279.2,292.9 L280.0,291.5 L280.9,290.1 L281.7,288.7 L282.6,287.3 L283.5,285.9 L284.3,284.6 L285.2,283.2 L286.1,281.8 L286.9,280.4 L287.8,279.1 L288.7,277.7 L289.5,276.3 L290.4,275.0 L291.3,273.6 L292.2,272.2 L293.0,270.9 L293.9,269.5 L294.8,268.2 L295.7,266.8 L296.6,265.5 L297.5,264.1 L298.4,262.8 L299.3,261.5 L300.2,260.1 L301.1,258.8 L302.1,257.5 L303.0,256.2 L303.9,254.8 L304.9,253.5 L305.8,252.2 L306.7,250.9 L307.7,249.6 L308.7,248.3 L309.6,247.0 L310.6,245.8 L311.6,244.5 L312.6,243.2 L313.6,241.9 L314.6,240.7 L315.6,239.4 L316.6,238.1 L317.7,236.9 L318.7,235.7 L319.8,234.4 L320.8,233.2 L321.9,232.0 L323.0,230.7 L324.1,229.5 L325.2,228.3 L326.3,227.1 L327.4,225.9 L328.5,224.7 L329.7,223.6 L330.8,222.4 L332.0,221.2 L333.1,220.1 L334.3,218.9 L335.5,217.8 L336.7,216.7 L337.9,215.6 L339.1,214.4 L340.3,213.4 L341.6,212.3 L342.8,211.2 L344.0,210.1 L345.3,209.1 L346.6,208.0 L347.8,207.0 L349.1,206.0 L350.4,205.0 L351.7,204.0 L353.0,203.0 L354.3,202.0 L355.6,201.1 L357.0,200.2 L358.3,199.2 L359.6,198.3 L361.0,197.4 L362.4,196.5 L363.7,195.7 L365.1,194.8 L366.5,194.0 L367.9,193.2 L369.3,192.3 L370.7,191.6 L372.1,190.8 L373.5,190.0 L375.0,189.3 L376.4,188.6 L377.8,187.9 L379.3,187.2 L380.7,186.5 L382.2,185.8 L383.7,185.2 L385.2,184.6 L386.6,184.0 L388.1,183.4 L389.6,182.9 L391.2,182.3 L392.7,181.8 L394.2,181.3 L395.7,180.8 L397.3,180.4 L398.8,179.9 L400.3,179.5 L401.9,179.1 L403.5,178.8 L405.0,178.4 L406.6,178.1 L408.2,177.8 L409.8,177.5 L411.4,177.2 L412.9,177.0 L414.5,176.7 L416.2,176.5 L417.8,176.3 L419.4,176.1 L421.0,175.9 L422.6,175.8 L424.2,175.6 L425.9,175.5 L427.5,175.4 L429.1,175.3 L430.8,175.2 L432.4,175.1 L434.1,175.0 L435.7,174.9 L437.3,174.8 L439.0,174.7 L440.6,174.7 L442.3,174.6 L443.9,174.6 L445.6,174.5 L447.2,174.4 L448.9,174.4 L450.5,174.3 L452.2,174.3 L453.8,174.2 L455.5,174.2 L457.1,174.1 L458.8,174.1 L460.4,174.0 L462.1,173.9 L463.7,173.8 L465.3,173.7 L467.0,173.7 L468.6,173.5 L470.2,173.4 L471.9,173.3 L473.5,173.2 L475.1,173.1 L476.7,172.9 L478.4,172.7 L480.0,172.6 L481.6,172.4 L483.2,172.2 L484.8,172.1 L486.4,171.9 L488.0,171.7 L489.6,171.5 L491.2,171.2 L492.8,171.0 L494.4,170.8 L496.0,170.6 L497.6,170.4 L499.2,170.1 L500.8,169.9 L502.4,169.6 L504.0,169.4 L505.6,169.2 L507.1,168.9 L508.7,168.6 L510.3,168.4 L511.9,168.1 L513.5,167.9 L515.1,167.6 L516.7,167.4 L518.3,167.1 L519.9,166.8 L521.5,166.6 L523.1,166.3 L524.6,166.1 L526.2,165.8 L527.8,165.5 L529.4,165.3 L531.0,165.0 L532.6,164.8 L534.2,164.5 L535.8,164.3 L537.5,164.0 L539.1,163.8 L540.7,163.6 L542.3,163.3 L543.9,163.1 L545.5,162.9 L547.1,162.7 L548.7,162.4 L550.4,162.2 L552.0,162.0 L553.6,161.8 L555.2,161.6 L556.8,161.5 L558.5,161.3 L560.1,161.1 L561.7,161.0 L563.3,160.8 L565.0,160.7 L566.6,160.5 L568.2,160.4 L569.9,160.3 L571.5,160.2 L573.1,160.1 L574.7,160.0 L576.4,159.9 L578.0,159.8 L579.6,159.8 L581.3,159.7 L582.9,159.7 L584.5,159.7 L586.1,159.7 L587.8,159.7 L589.4,159.7 L591.0,159.7 L592.7,159.7 L594.3,159.8 L595.9,159.9 L597.5,159.9 L599.2,160.0 L600.8,160.1 L602.4,160.2 L604.0,160.4 L605.7,160.5 L607.3,160.6 L608.9,160.8 L610.5,161.0 L612.1,161.2 L613.7,161.3 L615.4,161.5 L617.0,161.8 L618.6,162.0 L620.2,162.2 L621.8,162.5 L623.4,162.7 L625.0,163.0 L626.6,163.3 L628.2,163.6 L629.8,163.9 L631.4,164.2 L633.0,164.5 L634.6,164.8 L636.1,165.2 L637.7,165.5 L639.3,165.9 L640.9,166.2 L642.5,166.6 L644.0,167.0 L645.6,167.4 L647.2,167.8 L648.7,168.2 L650.3,168.6 L651.9,169.0 L653.4,169.5 L655.0,169.9 L656.5,170.4 L658.1,170.9 L659.6,171.3 L661.2,171.8 L662.7,172.3 L664.3,172.8 L665.8,173.3 L667.4,173.8 L668.9,174.3 L670.4,174.9 L672.0,175.4 L673.5,175.9 L675.0,176.5 L676.6,177.0 L678.1,177.6 L679.6,178.2 L681.1,178.7 L682.6,179.3 L684.1,179.9 L685.7,180.5 L687.2,181.1 L688.7,181.7 L690.2,182.3 L691.7,183.0 L693.2,183.6 L694.7,184.2 L696.2,184.9 L697.7,185.5 L699.2,186.2 L700.7,186.8 L702.2,187.5 L703.6,188.1 L705.1,188.8 L706.6,189.5 L708.1,190.2 L709.6,190.9 L711.0,191.6 L712.5,192.3 L714.0,193.0 L715.4,193.7 L716.9,194.4 L718.4,195.1 L719.8,195.8 L721.3,196.5 L722.8,197.3 L724.2,198.0 L725.7,198.7 L727.1,199.5 L728.6,200.2 L730.0,200.9 L731.5,201.7 L732.9,202.4 L734.3,203.2 L735.8,204.0 L737.2,204.7 L738.7,205.5 L740.1,206.2 L741.5,207.0 L743.0,207.8 L744.4,208.6 L745.8,209.3 L747.3,210.1 L748.7,210.9 L750.1,211.7 L751.5,212.5 L753.0,213.2 L754.4,214.0 L755.8,214.8 L757.2,215.6 L758.6,216.4 L760.1,217.2 L761.5,218.0 L762.9,218.8 L764.3,219.6 L765.7,220.4 L767.2,221.1 L768.6,221.9 L770.0,222.7 L771.4,223.5 L772.8,224.3 L774.2,225.1 L775.6,225.9 L777.1,226.7 L778.5,227.5 L779.9,228.3 L781.3,229.1 L782.7,229.9 L784.1,230.7 L785.6,231.5 L787.0,232.3 L788.4,233.1 L789.8,233.8 L791.2,234.6 L792.7,235.4 L794.1,236.2 L795.5,237.0 L796.9,237.8 L798.3,238.5 L799.8,239.3 L801.2,240.1 L802.6,240.9 L804.0,241.6 L805.5,242.4 L806.9,243.2 L808.3,243.9 L809.8,244.7 L811.2,245.4 L812.6,246.2 L814.1,246.9 L815.5,247.7 L816.9,248.4 L818.4,249.2 L819.8,249.9 L821.3,250.6 L822.7,251.4 L824.2,252.1 L825.6,252.8 L827.1,253.5 L828.5,254.2 L830.0,254.9 L831.5,255.6 L832.9,256.3 L834.4,257.0 L835.9,257.7 L837.3,258.4 L838.8,259.1 L840.3,259.7 L841.8,260.4 L843.2,261.1 L844.7,261.7 L846.2,262.4 L847.7,263.0 L849.2,263.6 L850.7,264.3 L852.2,264.9 L853.7,265.5 L855.2,266.1 L856.7,266.7 L858.2,267.3 L859.7,267.9 L861.2,268.5 L862.8,269.1 L864.3,269.7 L865.8,270.3 L867.3,270.9 L868.8,271.5 L870.4,272.1 L871.9,272.6 L873.4,273.2 L874.9,273.8 L876.4,274.4 L878.0,275.0 L879.5,275.5 L881.0,276.1 L882.5,276.7 L884.1,277.3 L885.6,277.9 L887.1,278.5 L888.6,279.1 L890.1,279.7 L891.6,280.3 L893.1,280.9 L894.6,281.5 L896.1,282.2 L897.6,282.8 L899.1,283.4 L900.6,284.1 L902.1,284.7 L903.6,285.4 L905.1,286.1 L906.6,286.7 L908.0,287.4 L909.5,288.1 L911.0,288.8 L912.4,289.6 L913.9,290.3 L915.3,291.0 L916.8,291.8 L918.2,292.5 L919.6,293.3 L921.1,294.1 L922.5,294.9 L923.9,295.7 L925.3,296.5 L926.7,297.3 L928.1,298.1 L929.5,298.9 L931.0,299.7 L932.4,300.6 L933.8,301.4 L935.2,302.2 L936.6,303.1 L938.0,303.9 L939.4,304.7 L940.8,305.6 L942.2,306.4 L943.6,307.2 L945.0,308.1 L946.4,308.9 L947.8,309.7 L949.2,310.6 L950.6,311.4 L952.0,312.2 L953.4,313.0 L954.8,313.8 L956.2,314.6 L957.6,315.4 L959.1,316.2 L960.5,317.0 L961.9,317.8 L963.3,318.5 L964.8,319.3 L966.2,320.0 L967.7,320.8 L969.1,321.5 C972.2,323.3 974.2,323.9 976.5,326.5 C978.7,328.9 979.4,330.8 980.5,334.0 C982.2,339.0 982.6,341.7 983.3,347.0 C985.1,360.5 985.5,367.4 986.9,381.0" stroke="#c01212" stroke-width="9" stroke-opacity="0.35" filter="url(#gro)"/>
<path d="M149.6,605.2 L151.0,604.3 L152.4,603.4 L153.8,602.5 L155.1,601.6 L156.5,600.7 L157.9,599.8 L159.3,598.9 L160.7,598.0 L162.0,597.1 L163.4,596.2 L164.8,595.3 L166.1,594.4 L167.5,593.5 L168.9,592.6 L170.3,591.7 L171.6,590.7 L173.0,589.8 L174.3,588.9 L175.7,587.9 L177.1,587.0 L178.4,586.1 L179.8,585.1 L181.1,584.2 L182.5,583.3 L183.8,582.3 L185.2,581.4 L186.5,580.4 L187.9,579.5 L189.2,578.5 L190.6,577.6 L191.9,576.6 L193.2,575.6 L194.6,574.7 L195.9,573.7 L197.3,572.7 L198.6,571.7 L199.9,570.8 L201.2,569.8 L202.6,568.8 L203.9,567.8 L205.2,566.8 L206.5,565.8 L207.8,564.8 L209.1,563.8 L210.4,562.8 L211.8,561.8 L213.1,560.8 L214.4,559.8 L215.7,558.8 L217.0,557.8 L218.2,556.7 L219.5,555.7 L220.8,554.7 L222.1,553.7 L223.4,552.6 L224.7,551.6 L225.9,550.5 L227.2,549.5 L228.5,548.4 L229.8,547.4 L231.0,546.3 L232.3,545.3 L233.5,544.2 L234.8,543.1 L236.0,542.1 L237.3,541.0 L238.5,539.9 L239.8,538.8 L241.0,537.8 L242.3,536.7 L243.5,535.6 L244.7,534.5 L245.9,533.4 L247.2,532.3 L248.4,531.2 L249.6,530.1 L250.8,529.0 L252.0,527.8 L253.2,526.7 L254.4,525.6 L255.6,524.5 L256.8,523.3 L258.0,522.2 L259.2,521.0 L260.4,519.9 L261.5,518.8 L262.7,517.6 L263.9,516.4 L265.0,515.3 L266.2,514.1 L267.4,512.9 L268.5,511.8 L269.7,510.6 L270.8,509.4 L271.9,508.2 L273.1,507.0 L274.2,505.8 L275.3,504.7 L276.5,503.5 L277.6,502.2 L278.7,501.0 L279.8,499.8 L281.0,498.6 L282.1,497.4 L283.2,496.2 L284.3,495.0 L285.4,493.8 L286.5,492.5 L287.6,491.3 L288.7,490.1 L289.8,488.8 L290.9,487.6 L292.0,486.4 L293.0,485.1 L294.1,483.9 L295.2,482.6 L296.3,481.4 L297.4,480.2 L298.5,478.9 L299.5,477.7 L300.6,476.4 L301.7,475.1 L302.8,473.9 L303.8,472.6 L304.9,471.4 L306.0,470.1 L307.0,468.9 L308.1,467.6 L309.2,466.3 L310.2,465.1 L311.3,463.8 L312.4,462.6 L313.4,461.3 L314.5,460.0 L315.6,458.8 L316.6,457.5 L317.7,456.2 L318.7,455.0 L319.8,453.7 L320.9,452.4 L321.9,451.2 L323.0,449.9 L324.1,448.6 L325.1,447.4 L326.2,446.1 L327.3,444.9 L328.3,443.6 L329.4,442.3 L330.4,441.1 L331.5,439.8 L332.6,438.5 L333.7,437.3 L334.7,436.0 L335.8,434.8 L336.9,433.5 L337.9,432.3 L339.0,431.0 L340.1,429.8 L341.2,428.5 L342.2,427.3 L343.3,426.0 L344.4,424.8 L345.5,423.5 L346.6,422.3 L347.7,421.0 L348.8,419.8 L349.8,418.6 L350.9,417.3 L352.0,416.1 L353.1,414.9 L354.2,413.6 L355.3,412.4 L356.4,411.2 L357.5,410.0 L358.6,408.7 L359.7,407.5 L360.9,406.3 L362.0,405.1 L363.1,403.9 L364.2,402.7 L365.3,401.5 L366.4,400.3 L367.6,399.0 L368.7,397.8 L369.8,396.6 L370.9,395.4 L372.1,394.2 L373.2,393.1 L374.3,391.9 L375.5,390.7 L376.6,389.5 L377.7,388.3 L378.9,387.1 L380.0,385.9 L381.2,384.8 L382.3,383.6 L383.5,382.4 L384.6,381.2 L385.8,380.1 L386.9,378.9 L388.1,377.7 L389.3,376.6 L390.4,375.4 L391.6,374.3 L392.8,373.1 L393.9,372.0 L395.1,370.8 L396.3,369.7 L397.5,368.5 L398.7,367.4 L399.9,366.2 L401.0,365.1 L402.2,364.0 L403.4,362.8 L404.6,361.7 L405.8,360.6 L407.0,359.5 L408.2,358.3 L409.4,357.2 L410.6,356.1 L411.9,355.0 L413.1,353.9 L414.3,352.8 L415.5,351.7 L416.7,350.6 L418.0,349.5 L419.2,348.4 L420.4,347.3 L421.7,346.2 L422.9,345.1 L424.1,344.1 L425.4,343.0 L426.6,341.9 L427.9,340.8 L429.1,339.8 L430.4,338.7 L431.7,337.7 L432.9,336.6 L434.2,335.5 L435.5,334.5 L436.7,333.4 L438.0,332.4 L439.3,331.4 L440.6,330.3 L441.8,329.3 L443.1,328.2 L444.4,327.2 L445.7,326.2 L447.0,325.2 L448.3,324.1 L449.6,323.1 L450.9,322.1 L452.2,321.1 L453.5,320.1 L454.8,319.1 L456.1,318.0 L457.4,317.0 L458.7,316.0 L460.0,315.0 L461.4,314.0 L462.7,313.0 L464.0,312.0 L465.3,311.0 L466.6,310.1 L468.0,309.1 L469.3,308.1 L470.6,307.1 L471.9,306.1 L473.3,305.1 L474.6,304.1 L475.9,303.2 L477.3,302.2 L478.6,301.2 L479.9,300.2 L481.3,299.3 L482.6,298.3 L484.0,297.3 L485.3,296.3 L486.6,295.4 L488.0,294.4 L489.3,293.4 L490.7,292.5 L492.0,291.5 L493.4,290.5 L494.7,289.6 L496.0,288.6 L497.4,287.7 L498.7,286.7 L500.1,285.7 L501.4,284.8 L502.8,283.8 L504.1,282.9 L505.5,281.9 L506.8,281.0 L508.2,280.0 L509.5,279.1 L510.9,278.1 L512.2,277.1 L513.6,276.2 L514.9,275.2 L516.2,274.3 L517.6,273.3 L518.9,272.4 L520.3,271.4 L521.6,270.5 L523.0,269.5 L524.3,268.6 L525.7,267.6 L527.0,266.7 L528.4,265.7 L529.7,264.8 L531.0,263.8 L532.4,262.9 L533.7,261.9 L535.1,261.0 L536.4,260.0 L537.8,259.1 L539.1,258.1 L540.4,257.1 L541.8,256.2 L543.1,255.2 L544.5,254.3 L545.8,253.3 L547.2,252.4 L548.5,251.4 L549.8,250.5 L551.2,249.5 L552.5,248.6 L553.9,247.6 L555.2,246.6 L556.5,245.7 L557.9,244.7 L559.2,243.8 L560.5,242.8 L561.9,241.9 L563.2,240.9 L564.5,239.9 L565.9,239.0 L567.2,238.0 L568.5,237.0 L569.9,236.1 L571.2,235.1 L572.5,234.2 L573.9,233.2 L575.2,232.2 L576.5,231.3 L577.9,230.3 L579.2,229.3 L580.5,228.3 L581.9,227.4 L583.2,226.4 L584.5,225.4 L585.8,224.4 L587.2,223.5 L588.5,222.5 L589.8,221.5 L591.1,220.5 L592.5,219.5 L593.8,218.6 L595.1,217.6 L596.4,216.6 L597.7,215.6 L599.1,214.6 L600.4,213.6 L601.7,212.6 L603.0,211.6 L604.3,210.7 L605.7,209.7 L607.0,208.7 L608.3,207.7 L609.6,206.7 L610.9,205.7 L612.2,204.7 L613.5,203.7 L614.8,202.6 L616.2,201.6 L617.5,200.6 L618.8,199.6 L620.1,198.6 L621.4,197.6 L622.7,196.6 L624.0,195.6 L625.3,194.6 L626.6,193.6 L627.9,192.6 L629.3,191.6 L630.6,190.5 L631.9,189.5 L633.2,188.5 L634.5,187.5 L635.8,186.5 L637.1,185.5 L638.4,184.5 L639.8,183.5 L641.1,182.5 L642.4,181.5 L643.7,180.5 L645.0,179.5 L646.3,178.5 L647.7,177.5 L649.0,176.5 L650.3,175.5 L651.6,174.5 L652.9,173.5 L654.3,172.5 L655.6,171.5 L656.9,170.6 L658.3,169.6 L659.6,168.6 L660.9,167.6 L662.3,166.6 L663.6,165.7 L664.9,164.7 L666.3,163.7 L667.6,162.8 L669.0,161.8 L670.3,160.9 L671.6,159.9 L673.0,159.0 L674.3,158.0 L675.7,157.1 L677.1,156.1 L678.4,155.2 L679.8,154.3 L681.1,153.4 L682.5,152.4 L683.9,151.5 L685.2,150.6 L686.6,149.7 L688.0,148.8 L689.4,147.9 L690.8,147.0 L692.1,146.1 L693.5,145.2 L694.9,144.4 L696.3,143.5 L697.7,142.6 L699.1,141.8 L700.5,140.9 L701.9,140.1 L703.3,139.2 L704.8,138.4 L706.2,137.5 L707.6,136.7 L709.0,135.9 L710.5,135.1 L711.9,134.3 L713.3,133.5 L714.8,132.7 L716.2,131.9 L717.7,131.1 L719.1,130.4 L720.6,129.6 L722.0,128.8 L723.5,128.1 L725.0,127.3 L726.4,126.6 L727.9,125.9 L729.4,125.2 L730.9,124.5 L732.4,123.8 L733.8,123.1 L735.3,122.4 L736.8,121.7 L738.3,121.1 L739.8,120.4 L741.4,119.8 L742.9,119.1 L744.4,118.5 L745.9,117.9 L747.4,117.3 L748.9,116.7 L750.5,116.1 L752.0,115.6 L753.6,115.0 L755.1,114.5 L756.6,113.9 L758.2,113.4 L759.7,112.9 L761.3,112.4 L762.9,111.9 L764.4,111.5 L766.0,111.0 L767.6,110.5 L769.1,110.1 L770.7,109.7 L772.3,109.3 L773.9,108.9 L775.5,108.5 L777.1,108.1 L778.7,107.8 L780.3,107.4 L781.9,107.1 L783.5,106.8 L785.1,106.4 L786.7,106.1 L788.3,105.9 L790.0,105.6 L791.6,105.3 L793.2,105.1 L794.8,104.8 L796.5,104.6 L798.1,104.3 L799.7,104.1 L801.4,103.9 L803.0,103.7 L804.6,103.5 L806.3,103.3 L807.9,103.1 L809.6,103.0 L811.2,102.8 L812.9,102.7 L814.5,102.5 L816.2,102.4 L817.8,102.2 L819.5,102.1 L821.1,101.9 L822.8,101.8 L824.5,101.7 L826.1,101.6 L827.8,101.5 L829.4,101.4 L831.1,101.3 L832.8,101.2 L834.4,101.1 L836.1,101.0 L837.7,100.9 L839.4,100.8 L841.1,100.7 L842.7,100.6 L844.4,100.5 L846.0,100.4 L847.7,100.4 L849.3,100.3 L851.0,100.2 L852.7,100.1 L854.3,100.0 L856.0,100.0 L857.6,99.9 L859.3,99.8 L860.9,99.8 L862.6,99.7 L864.2,99.7 L865.9,99.6 L867.5,99.6 L869.2,99.5 L870.8,99.5 L872.5,99.4 L874.1,99.4 L875.8,99.4 L877.4,99.3 L879.1,99.3 L880.7,99.3 L882.4,99.3 L884.0,99.3 L885.7,99.3 L887.3,99.3 L889.0,99.3 L890.6,99.3 L892.2,99.4 L893.9,99.4 L895.5,99.4 L897.2,99.5 L898.8,99.5 L900.5,99.6 L902.1,99.7 L903.7,99.7 L905.4,99.8 L907.0,99.9 L908.6,100.0 L910.3,100.1 L911.9,100.2 L913.5,100.4 L915.2,100.5 L916.8,100.6 L918.4,100.8 L920.1,101.0 L921.7,101.1 L923.3,101.3 L925.0,101.5 L926.6,101.7 L928.2,101.9 L929.9,102.1 L931.5,102.4 L933.1,102.6 L934.7,102.9 L936.4,103.1 L938.0,103.4 L939.6,103.7 L941.2,104.0 L942.9,104.3 L944.5,104.6 L946.1,105.0 L947.7,105.3 L949.3,105.7 L950.9,106.1 L952.6,106.4 L954.2,106.8 L955.8,107.3 C958.7,108.2 960.3,108.5 962.9,109.9 C965.0,111.0 965.9,112.0 967.6,113.7 C968.9,115.0 969.7,115.8 970.5,117.4 C971.4,119.2 971.4,120.3 971.9,122.2 C972.3,124.1 972.3,125.1 972.8,126.9 C973.4,129.2 974.1,130.3 974.7,132.6 C975.8,136.7 976.3,138.8 977.1,143.0 C977.8,146.6 978.1,148.4 978.6,152.0 C980.0,163.0 980.6,168.6 981.9,179.6 C982.8,187.2 983.6,191.0 984.3,198.7 C985.6,211.9 985.9,218.6 987.0,231.8" stroke="#c01212" stroke-width="9" stroke-opacity="0.35" filter="url(#gro)"/>
<path d="M149.5,436.2 L151.1,435.7 L152.6,435.1 L154.1,434.4 L155.6,433.8 L157.1,433.1 L158.6,432.4 L160.0,431.7 L161.5,430.9 L162.9,430.1 L164.3,429.3 L165.6,428.5 L167.0,427.6 L168.3,426.7 L169.7,425.9 L171.0,424.9 L172.3,424.0 L173.6,423.0 L174.9,422.1 L176.1,421.1 L177.4,420.1 L178.6,419.0 L179.9,418.0 L181.1,416.9 L182.3,415.9 L183.5,414.8 L184.7,413.7 L185.9,412.6 L187.0,411.5 L188.2,410.3 L189.4,409.2 L190.5,408.0 L191.6,406.9 L192.8,405.7 L193.9,404.5 L195.0,403.3 L196.2,402.1 L197.3,400.9 L198.4,399.7 L199.5,398.5 L200.6,397.3 L201.7,396.1 L202.8,394.9 L203.9,393.7 L205.0,392.5 L206.1,391.2 L207.2,390.0 L208.3,388.8 L209.4,387.6 L210.5,386.4 L211.6,385.2 L212.7,384.0 L213.8,382.8 L214.9,381.6 L216.0,380.4 L217.1,379.2 L218.2,378.1 L219.4,376.9 L220.5,375.7 L221.6,374.6 L222.7,373.4 L223.8,372.2 L225.0,371.1 L226.1,369.9 L227.2,368.8 L228.3,367.6 L229.4,366.4 L230.5,365.3 L231.6,364.1 L232.6,362.9 L233.7,361.7 L234.7,360.5 L235.8,359.3 L236.8,358.1 L237.8,356.9 L238.8,355.6 L239.8,354.3 L240.8,353.1 L241.7,351.8 L242.7,350.5 L243.6,349.1 L244.5,347.8 L245.4,346.5 L246.3,345.2 L247.2,343.8 L248.1,342.5 L249.0,341.1 L249.9,339.8 L250.8,338.4 L251.7,337.1 L252.6,335.7 L253.4,334.4 L254.3,333.0 L255.2,331.6 L256.1,330.3 L256.9,328.9 L257.8,327.5 L258.7,326.1 L259.5,324.8 L260.4,323.4 L261.3,322.0 L262.1,320.6 L263.0,319.2 L263.8,317.9 L264.7,316.5 L265.5,315.1 L266.4,313.7 L267.3,312.3 L268.1,310.9 L269.0,309.5 L269.8,308.1 L270.7,306.8 L271.5,305.4 L272.4,304.0 L273.2,302.6 L274.1,301.2 L274.9,299.8 L275.8,298.4 L276.6,297.0 L277.5,295.6 L278.3,294.2 L279.2,292.9 L280.0,291.5 L280.9,290.1 L281.7,288.7 L282.6,287.3 L283.5,285.9 L284.3,284.6 L285.2,283.2 L286.1,281.8 L286.9,280.4 L287.8,279.1 L288.7,277.7 L289.5,276.3 L290.4,275.0 L291.3,273.6 L292.2,272.2 L293.0,270.9 L293.9,269.5 L294.8,268.2 L295.7,266.8 L296.6,265.5 L297.5,264.1 L298.4,262.8 L299.3,261.5 L300.2,260.1 L301.1,258.8 L302.1,257.5 L303.0,256.2 L303.9,254.8 L304.9,253.5 L305.8,252.2 L306.7,250.9 L307.7,249.6 L308.7,248.3 L309.6,247.0 L310.6,245.8 L311.6,244.5 L312.6,243.2 L313.6,241.9 L314.6,240.7 L315.6,239.4 L316.6,238.1 L317.7,236.9 L318.7,235.7 L319.8,234.4 L320.8,233.2 L321.9,232.0 L323.0,230.7 L324.1,229.5 L325.2,228.3 L326.3,227.1 L327.4,225.9 L328.5,224.7 L329.7,223.6 L330.8,222.4 L332.0,221.2 L333.1,220.1 L334.3,218.9 L335.5,217.8 L336.7,216.7 L337.9,215.6 L339.1,214.4 L340.3,213.4 L341.6,212.3 L342.8,211.2 L344.0,210.1 L345.3,209.1 L346.6,208.0 L347.8,207.0 L349.1,206.0 L350.4,205.0 L351.7,204.0 L353.0,203.0 L354.3,202.0 L355.6,201.1 L357.0,200.2 L358.3,199.2 L359.6,198.3 L361.0,197.4 L362.4,196.5 L363.7,195.7 L365.1,194.8 L366.5,194.0 L367.9,193.2 L369.3,192.3 L370.7,191.6 L372.1,190.8 L373.5,190.0 L375.0,189.3 L376.4,188.6 L377.8,187.9 L379.3,187.2 L380.7,186.5 L382.2,185.8 L383.7,185.2 L385.2,184.6 L386.6,184.0 L388.1,183.4 L389.6,182.9 L391.2,182.3 L392.7,181.8 L394.2,181.3 L395.7,180.8 L397.3,180.4 L398.8,179.9 L400.3,179.5 L401.9,179.1 L403.5,178.8 L405.0,178.4 L406.6,178.1 L408.2,177.8 L409.8,177.5 L411.4,177.2 L412.9,177.0 L414.5,176.7 L416.2,176.5 L417.8,176.3 L419.4,176.1 L421.0,175.9 L422.6,175.8 L424.2,175.6 L425.9,175.5 L427.5,175.4 L429.1,175.3 L430.8,175.2 L432.4,175.1 L434.1,175.0 L435.7,174.9 L437.3,174.8 L439.0,174.7 L440.6,174.7 L442.3,174.6 L443.9,174.6 L445.6,174.5 L447.2,174.4 L448.9,174.4 L450.5,174.3 L452.2,174.3 L453.8,174.2 L455.5,174.2 L457.1,174.1 L458.8,174.1 L460.4,174.0 L462.1,173.9 L463.7,173.8 L465.3,173.7 L467.0,173.7 L468.6,173.5 L470.2,173.4 L471.9,173.3 L473.5,173.2 L475.1,173.1 L476.7,172.9 L478.4,172.7 L480.0,172.6 L481.6,172.4 L483.2,172.2 L484.8,172.1 L486.4,171.9 L488.0,171.7 L489.6,171.5 L491.2,171.2 L492.8,171.0 L494.4,170.8 L496.0,170.6 L497.6,170.4 L499.2,170.1 L500.8,169.9 L502.4,169.6 L504.0,169.4 L505.6,169.2 L507.1,168.9 L508.7,168.6 L510.3,168.4 L511.9,168.1 L513.5,167.9 L515.1,167.6 L516.7,167.4 L518.3,167.1 L519.9,166.8 L521.5,166.6 L523.1,166.3 L524.6,166.1 L526.2,165.8 L527.8,165.5 L529.4,165.3 L531.0,165.0 L532.6,164.8 L534.2,164.5 L535.8,164.3 L537.5,164.0 L539.1,163.8 L540.7,163.6 L542.3,163.3 L543.9,163.1 L545.5,162.9 L547.1,162.7 L548.7,162.4 L550.4,162.2 L552.0,162.0 L553.6,161.8 L555.2,161.6 L556.8,161.5 L558.5,161.3 L560.1,161.1 L561.7,161.0 L563.3,160.8 L565.0,160.7 L566.6,160.5 L568.2,160.4 L569.9,160.3 L571.5,160.2 L573.1,160.1 L574.7,160.0 L576.4,159.9 L578.0,159.8 L579.6,159.8 L581.3,159.7 L582.9,159.7 L584.5,159.7 L586.1,159.7 L587.8,159.7 L589.4,159.7 L591.0,159.7 L592.7,159.7 L594.3,159.8 L595.9,159.9 L597.5,159.9 L599.2,160.0 L600.8,160.1 L602.4,160.2 L604.0,160.4 L605.7,160.5 L607.3,160.6 L608.9,160.8 L610.5,161.0 L612.1,161.2 L613.7,161.3 L615.4,161.5 L617.0,161.8 L618.6,162.0 L620.2,162.2 L621.8,162.5 L623.4,162.7 L625.0,163.0 L626.6,163.3 L628.2,163.6 L629.8,163.9 L631.4,164.2 L633.0,164.5 L634.6,164.8 L636.1,165.2 L637.7,165.5 L639.3,165.9 L640.9,166.2 L642.5,166.6 L644.0,167.0 L645.6,167.4 L647.2,167.8 L648.7,168.2 L650.3,168.6 L651.9,169.0 L653.4,169.5 L655.0,169.9 L656.5,170.4 L658.1,170.9 L659.6,171.3 L661.2,171.8 L662.7,172.3 L664.3,172.8 L665.8,173.3 L667.4,173.8 L668.9,174.3 L670.4,174.9 L672.0,175.4 L673.5,175.9 L675.0,176.5 L676.6,177.0 L678.1,177.6 L679.6,178.2 L681.1,178.7 L682.6,179.3 L684.1,179.9 L685.7,180.5 L687.2,181.1 L688.7,181.7 L690.2,182.3 L691.7,183.0 L693.2,183.6 L694.7,184.2 L696.2,184.9 L697.7,185.5 L699.2,186.2 L700.7,186.8 L702.2,187.5 L703.6,188.1 L705.1,188.8 L706.6,189.5 L708.1,190.2 L709.6,190.9 L711.0,191.6 L712.5,192.3 L714.0,193.0 L715.4,193.7 L716.9,194.4 L718.4,195.1 L719.8,195.8 L721.3,196.5 L722.8,197.3 L724.2,198.0 L725.7,198.7 L727.1,199.5 L728.6,200.2 L730.0,200.9 L731.5,201.7 L732.9,202.4 L734.3,203.2 L735.8,204.0 L737.2,204.7 L738.7,205.5 L740.1,206.2 L741.5,207.0 L743.0,207.8 L744.4,208.6 L745.8,209.3 L747.3,210.1 L748.7,210.9 L750.1,211.7 L751.5,212.5 L753.0,213.2 L754.4,214.0 L755.8,214.8 L757.2,215.6 L758.6,216.4 L760.1,217.2 L761.5,218.0 L762.9,218.8 L764.3,219.6 L765.7,220.4 L767.2,221.1 L768.6,221.9 L770.0,222.7 L771.4,223.5 L772.8,224.3 L774.2,225.1 L775.6,225.9 L777.1,226.7 L778.5,227.5 L779.9,228.3 L781.3,229.1 L782.7,229.9 L784.1,230.7 L785.6,231.5 L787.0,232.3 L788.4,233.1 L789.8,233.8 L791.2,234.6 L792.7,235.4 L794.1,236.2 L795.5,237.0 L796.9,237.8 L798.3,238.5 L799.8,239.3 L801.2,240.1 L802.6,240.9 L804.0,241.6 L805.5,242.4 L806.9,243.2 L808.3,243.9 L809.8,244.7 L811.2,245.4 L812.6,246.2 L814.1,246.9 L815.5,247.7 L816.9,248.4 L818.4,249.2 L819.8,249.9 L821.3,250.6 L822.7,251.4 L824.2,252.1 L825.6,252.8 L827.1,253.5 L828.5,254.2 L830.0,254.9 L831.5,255.6 L832.9,256.3 L834.4,257.0 L835.9,257.7 L837.3,258.4 L838.8,259.1 L840.3,259.7 L841.8,260.4 L843.2,261.1 L844.7,261.7 L846.2,262.4 L847.7,263.0 L849.2,263.6 L850.7,264.3 L852.2,264.9 L853.7,265.5 L855.2,266.1 L856.7,266.7 L858.2,267.3 L859.7,267.9 L861.2,268.5 L862.8,269.1 L864.3,269.7 L865.8,270.3 L867.3,270.9 L868.8,271.5 L870.4,272.1 L871.9,272.6 L873.4,273.2 L874.9,273.8 L876.4,274.4 L878.0,275.0 L879.5,275.5 L881.0,276.1 L882.5,276.7 L884.1,277.3 L885.6,277.9 L887.1,278.5 L888.6,279.1 L890.1,279.7 L891.6,280.3 L893.1,280.9 L894.6,281.5 L896.1,282.2 L897.6,282.8 L899.1,283.4 L900.6,284.1 L902.1,284.7 L903.6,285.4 L905.1,286.1 L906.6,286.7 L908.0,287.4 L909.5,288.1 L911.0,288.8 L912.4,289.6 L913.9,290.3 L915.3,291.0 L916.8,291.8 L918.2,292.5 L919.6,293.3 L921.1,294.1 L922.5,294.9 L923.9,295.7 L925.3,296.5 L926.7,297.3 L928.1,298.1 L929.5,298.9 L931.0,299.7 L932.4,300.6 L933.8,301.4 L935.2,302.2 L936.6,303.1 L938.0,303.9 L939.4,304.7 L940.8,305.6 L942.2,306.4 L943.6,307.2 L945.0,308.1 L946.4,308.9 L947.8,309.7 L949.2,310.6 L950.6,311.4 L952.0,312.2 L953.4,313.0 L954.8,313.8 L956.2,314.6 L957.6,315.4 L959.1,316.2 L960.5,317.0 L961.9,317.8 L963.3,318.5 L964.8,319.3 L966.2,320.0 L967.7,320.8 L969.1,321.5 C972.2,323.3 974.2,323.9 976.5,326.5 C978.7,328.9 979.4,330.8 980.5,334.0 C982.2,339.0 982.6,341.7 983.3,347.0 C985.1,360.5 985.5,367.4 986.9,381.0" stroke="#ac1818" stroke-width="7" stroke-opacity="0.78" filter="url(#gri)"/>
<path d="M149.6,605.2 L151.0,604.3 L152.4,603.4 L153.8,602.5 L155.1,601.6 L156.5,600.7 L157.9,599.8 L159.3,598.9 L160.7,598.0 L162.0,597.1 L163.4,596.2 L164.8,595.3 L166.1,594.4 L167.5,593.5 L168.9,592.6 L170.3,591.7 L171.6,590.7 L173.0,589.8 L174.3,588.9 L175.7,587.9 L177.1,587.0 L178.4,586.1 L179.8,585.1 L181.1,584.2 L182.5,583.3 L183.8,582.3 L185.2,581.4 L186.5,580.4 L187.9,579.5 L189.2,578.5 L190.6,577.6 L191.9,576.6 L193.2,575.6 L194.6,574.7 L195.9,573.7 L197.3,572.7 L198.6,571.7 L199.9,570.8 L201.2,569.8 L202.6,568.8 L203.9,567.8 L205.2,566.8 L206.5,565.8 L207.8,564.8 L209.1,563.8 L210.4,562.8 L211.8,561.8 L213.1,560.8 L214.4,559.8 L215.7,558.8 L217.0,557.8 L218.2,556.7 L219.5,555.7 L220.8,554.7 L222.1,553.7 L223.4,552.6 L224.7,551.6 L225.9,550.5 L227.2,549.5 L228.5,548.4 L229.8,547.4 L231.0,546.3 L232.3,545.3 L233.5,544.2 L234.8,543.1 L236.0,542.1 L237.3,541.0 L238.5,539.9 L239.8,538.8 L241.0,537.8 L242.3,536.7 L243.5,535.6 L244.7,534.5 L245.9,533.4 L247.2,532.3 L248.4,531.2 L249.6,530.1 L250.8,529.0 L252.0,527.8 L253.2,526.7 L254.4,525.6 L255.6,524.5 L256.8,523.3 L258.0,522.2 L259.2,521.0 L260.4,519.9 L261.5,518.8 L262.7,517.6 L263.9,516.4 L265.0,515.3 L266.2,514.1 L267.4,512.9 L268.5,511.8 L269.7,510.6 L270.8,509.4 L271.9,508.2 L273.1,507.0 L274.2,505.8 L275.3,504.7 L276.5,503.5 L277.6,502.2 L278.7,501.0 L279.8,499.8 L281.0,498.6 L282.1,497.4 L283.2,496.2 L284.3,495.0 L285.4,493.8 L286.5,492.5 L287.6,491.3 L288.7,490.1 L289.8,488.8 L290.9,487.6 L292.0,486.4 L293.0,485.1 L294.1,483.9 L295.2,482.6 L296.3,481.4 L297.4,480.2 L298.5,478.9 L299.5,477.7 L300.6,476.4 L301.7,475.1 L302.8,473.9 L303.8,472.6 L304.9,471.4 L306.0,470.1 L307.0,468.9 L308.1,467.6 L309.2,466.3 L310.2,465.1 L311.3,463.8 L312.4,462.6 L313.4,461.3 L314.5,460.0 L315.6,458.8 L316.6,457.5 L317.7,456.2 L318.7,455.0 L319.8,453.7 L320.9,452.4 L321.9,451.2 L323.0,449.9 L324.1,448.6 L325.1,447.4 L326.2,446.1 L327.3,444.9 L328.3,443.6 L329.4,442.3 L330.4,441.1 L331.5,439.8 L332.6,438.5 L333.7,437.3 L334.7,436.0 L335.8,434.8 L336.9,433.5 L337.9,432.3 L339.0,431.0 L340.1,429.8 L341.2,428.5 L342.2,427.3 L343.3,426.0 L344.4,424.8 L345.5,423.5 L346.6,422.3 L347.7,421.0 L348.8,419.8 L349.8,418.6 L350.9,417.3 L352.0,416.1 L353.1,414.9 L354.2,413.6 L355.3,412.4 L356.4,411.2 L357.5,410.0 L358.6,408.7 L359.7,407.5 L360.9,406.3 L362.0,405.1 L363.1,403.9 L364.2,402.7 L365.3,401.5 L366.4,400.3 L367.6,399.0 L368.7,397.8 L369.8,396.6 L370.9,395.4 L372.1,394.2 L373.2,393.1 L374.3,391.9 L375.5,390.7 L376.6,389.5 L377.7,388.3 L378.9,387.1 L380.0,385.9 L381.2,384.8 L382.3,383.6 L383.5,382.4 L384.6,381.2 L385.8,380.1 L386.9,378.9 L388.1,377.7 L389.3,376.6 L390.4,375.4 L391.6,374.3 L392.8,373.1 L393.9,372.0 L395.1,370.8 L396.3,369.7 L397.5,368.5 L398.7,367.4 L399.9,366.2 L401.0,365.1 L402.2,364.0 L403.4,362.8 L404.6,361.7 L405.8,360.6 L407.0,359.5 L408.2,358.3 L409.4,357.2 L410.6,356.1 L411.9,355.0 L413.1,353.9 L414.3,352.8 L415.5,351.7 L416.7,350.6 L418.0,349.5 L419.2,348.4 L420.4,347.3 L421.7,346.2 L422.9,345.1 L424.1,344.1 L425.4,343.0 L426.6,341.9 L427.9,340.8 L429.1,339.8 L430.4,338.7 L431.7,337.7 L432.9,336.6 L434.2,335.5 L435.5,334.5 L436.7,333.4 L438.0,332.4 L439.3,331.4 L440.6,330.3 L441.8,329.3 L443.1,328.2 L444.4,327.2 L445.7,326.2 L447.0,325.2 L448.3,324.1 L449.6,323.1 L450.9,322.1 L452.2,321.1 L453.5,320.1 L454.8,319.1 L456.1,318.0 L457.4,317.0 L458.7,316.0 L460.0,315.0 L461.4,314.0 L462.7,313.0 L464.0,312.0 L465.3,311.0 L466.6,310.1 L468.0,309.1 L469.3,308.1 L470.6,307.1 L471.9,306.1 L473.3,305.1 L474.6,304.1 L475.9,303.2 L477.3,302.2 L478.6,301.2 L479.9,300.2 L481.3,299.3 L482.6,298.3 L484.0,297.3 L485.3,296.3 L486.6,295.4 L488.0,294.4 L489.3,293.4 L490.7,292.5 L492.0,291.5 L493.4,290.5 L494.7,289.6 L496.0,288.6 L497.4,287.7 L498.7,286.7 L500.1,285.7 L501.4,284.8 L502.8,283.8 L504.1,282.9 L505.5,281.9 L506.8,281.0 L508.2,280.0 L509.5,279.1 L510.9,278.1 L512.2,277.1 L513.6,276.2 L514.9,275.2 L516.2,274.3 L517.6,273.3 L518.9,272.4 L520.3,271.4 L521.6,270.5 L523.0,269.5 L524.3,268.6 L525.7,267.6 L527.0,266.7 L528.4,265.7 L529.7,264.8 L531.0,263.8 L532.4,262.9 L533.7,261.9 L535.1,261.0 L536.4,260.0 L537.8,259.1 L539.1,258.1 L540.4,257.1 L541.8,256.2 L543.1,255.2 L544.5,254.3 L545.8,253.3 L547.2,252.4 L548.5,251.4 L549.8,250.5 L551.2,249.5 L552.5,248.6 L553.9,247.6 L555.2,246.6 L556.5,245.7 L557.9,244.7 L559.2,243.8 L560.5,242.8 L561.9,241.9 L563.2,240.9 L564.5,239.9 L565.9,239.0 L567.2,238.0 L568.5,237.0 L569.9,236.1 L571.2,235.1 L572.5,234.2 L573.9,233.2 L575.2,232.2 L576.5,231.3 L577.9,230.3 L579.2,229.3 L580.5,228.3 L581.9,227.4 L583.2,226.4 L584.5,225.4 L585.8,224.4 L587.2,223.5 L588.5,222.5 L589.8,221.5 L591.1,220.5 L592.5,219.5 L593.8,218.6 L595.1,217.6 L596.4,216.6 L597.7,215.6 L599.1,214.6 L600.4,213.6 L601.7,212.6 L603.0,211.6 L604.3,210.7 L605.7,209.7 L607.0,208.7 L608.3,207.7 L609.6,206.7 L610.9,205.7 L612.2,204.7 L613.5,203.7 L614.8,202.6 L616.2,201.6 L617.5,200.6 L618.8,199.6 L620.1,198.6 L621.4,197.6 L622.7,196.6 L624.0,195.6 L625.3,194.6 L626.6,193.6 L627.9,192.6 L629.3,191.6 L630.6,190.5 L631.9,189.5 L633.2,188.5 L634.5,187.5 L635.8,186.5 L637.1,185.5 L638.4,184.5 L639.8,183.5 L641.1,182.5 L642.4,181.5 L643.7,180.5 L645.0,179.5 L646.3,178.5 L647.7,177.5 L649.0,176.5 L650.3,175.5 L651.6,174.5 L652.9,173.5 L654.3,172.5 L655.6,171.5 L656.9,170.6 L658.3,169.6 L659.6,168.6 L660.9,167.6 L662.3,166.6 L663.6,165.7 L664.9,164.7 L666.3,163.7 L667.6,162.8 L669.0,161.8 L670.3,160.9 L671.6,159.9 L673.0,159.0 L674.3,158.0 L675.7,157.1 L677.1,156.1 L678.4,155.2 L679.8,154.3 L681.1,153.4 L682.5,152.4 L683.9,151.5 L685.2,150.6 L686.6,149.7 L688.0,148.8 L689.4,147.9 L690.8,147.0 L692.1,146.1 L693.5,145.2 L694.9,144.4 L696.3,143.5 L697.7,142.6 L699.1,141.8 L700.5,140.9 L701.9,140.1 L703.3,139.2 L704.8,138.4 L706.2,137.5 L707.6,136.7 L709.0,135.9 L710.5,135.1 L711.9,134.3 L713.3,133.5 L714.8,132.7 L716.2,131.9 L717.7,131.1 L719.1,130.4 L720.6,129.6 L722.0,128.8 L723.5,128.1 L725.0,127.3 L726.4,126.6 L727.9,125.9 L729.4,125.2 L730.9,124.5 L732.4,123.8 L733.8,123.1 L735.3,122.4 L736.8,121.7 L738.3,121.1 L739.8,120.4 L741.4,119.8 L742.9,119.1 L744.4,118.5 L745.9,117.9 L747.4,117.3 L748.9,116.7 L750.5,116.1 L752.0,115.6 L753.6,115.0 L755.1,114.5 L756.6,113.9 L758.2,113.4 L759.7,112.9 L761.3,112.4 L762.9,111.9 L764.4,111.5 L766.0,111.0 L767.6,110.5 L769.1,110.1 L770.7,109.7 L772.3,109.3 L773.9,108.9 L775.5,108.5 L777.1,108.1 L778.7,107.8 L780.3,107.4 L781.9,107.1 L783.5,106.8 L785.1,106.4 L786.7,106.1 L788.3,105.9 L790.0,105.6 L791.6,105.3 L793.2,105.1 L794.8,104.8 L796.5,104.6 L798.1,104.3 L799.7,104.1 L801.4,103.9 L803.0,103.7 L804.6,103.5 L806.3,103.3 L807.9,103.1 L809.6,103.0 L811.2,102.8 L812.9,102.7 L814.5,102.5 L816.2,102.4 L817.8,102.2 L819.5,102.1 L821.1,101.9 L822.8,101.8 L824.5,101.7 L826.1,101.6 L827.8,101.5 L829.4,101.4 L831.1,101.3 L832.8,101.2 L834.4,101.1 L836.1,101.0 L837.7,100.9 L839.4,100.8 L841.1,100.7 L842.7,100.6 L844.4,100.5 L846.0,100.4 L847.7,100.4 L849.3,100.3 L851.0,100.2 L852.7,100.1 L854.3,100.0 L856.0,100.0 L857.6,99.9 L859.3,99.8 L860.9,99.8 L862.6,99.7 L864.2,99.7 L865.9,99.6 L867.5,99.6 L869.2,99.5 L870.8,99.5 L872.5,99.4 L874.1,99.4 L875.8,99.4 L877.4,99.3 L879.1,99.3 L880.7,99.3 L882.4,99.3 L884.0,99.3 L885.7,99.3 L887.3,99.3 L889.0,99.3 L890.6,99.3 L892.2,99.4 L893.9,99.4 L895.5,99.4 L897.2,99.5 L898.8,99.5 L900.5,99.6 L902.1,99.7 L903.7,99.7 L905.4,99.8 L907.0,99.9 L908.6,100.0 L910.3,100.1 L911.9,100.2 L913.5,100.4 L915.2,100.5 L916.8,100.6 L918.4,100.8 L920.1,101.0 L921.7,101.1 L923.3,101.3 L925.0,101.5 L926.6,101.7 L928.2,101.9 L929.9,102.1 L931.5,102.4 L933.1,102.6 L934.7,102.9 L936.4,103.1 L938.0,103.4 L939.6,103.7 L941.2,104.0 L942.9,104.3 L944.5,104.6 L946.1,105.0 L947.7,105.3 L949.3,105.7 L950.9,106.1 L952.6,106.4 L954.2,106.8 L955.8,107.3 C958.7,108.2 960.3,108.5 962.9,109.9 C965.0,111.0 965.9,112.0 967.6,113.7 C968.9,115.0 969.7,115.8 970.5,117.4 C971.4,119.2 971.4,120.3 971.9,122.2 C972.3,124.1 972.3,125.1 972.8,126.9 C973.4,129.2 974.1,130.3 974.7,132.6 C975.8,136.7 976.3,138.8 977.1,143.0 C977.8,146.6 978.1,148.4 978.6,152.0 C980.0,163.0 980.6,168.6 981.9,179.6 C982.8,187.2 983.6,191.0 984.3,198.7 C985.6,211.9 985.9,218.6 987.0,231.8" stroke="#ac1818" stroke-width="7" stroke-opacity="0.78" filter="url(#gri)"/>
</g>
</g>
<g stroke="#7c7c7c" stroke-width="1" shape-rendering="crispEdges">
<line x1="64" y1="9.5" x2="1030" y2="9.5"/>
<line x1="64" y1="66.5" x2="1030" y2="66.5"/>
<line x1="64" y1="122.5" x2="1030" y2="122.5"/>
<line x1="64" y1="179.5" x2="1030" y2="179.5"/>
<line x1="64" y1="235.5" x2="1030" y2="235.5"/>
<line x1="64" y1="291.5" x2="1030" y2="291.5"/>
<line x1="64" y1="347.5" x2="1030" y2="347.5"/>
<line x1="64" y1="403.5" x2="1030" y2="403.5"/>
<line x1="64" y1="459.5" x2="1030" y2="459.5"/>
<line x1="64" y1="516.5" x2="1030" y2="516.5"/>
<line x1="64" y1="572.5" x2="1030" y2="572.5"/>
<line x1="64" y1="628.5" x2="1030" y2="628.5"/>
<line x1="64" y1="684.5" x2="1030" y2="684.5"/>
<line x1="69.5" y1="9" x2="69.5" y2="694"/>
<line x1="149.5" y1="9" x2="149.5" y2="694"/>
<line x1="229.5" y1="9" x2="229.5" y2="694"/>
<line x1="309.5" y1="9" x2="309.5" y2="694"/>
<line x1="389.5" y1="9" x2="389.5" y2="694"/>
<line x1="469.5" y1="9" x2="469.5" y2="694"/>
<line x1="549.5" y1="9" x2="549.5" y2="694"/>
<line x1="629.5" y1="9" x2="629.5" y2="694"/>
<line x1="709.5" y1="9" x2="709.5" y2="694"/>
<line x1="789.5" y1="9" x2="789.5" y2="694"/>
<line x1="869.5" y1="9" x2="869.5" y2="694"/>
<line x1="949.5" y1="9" x2="949.5" y2="694"/>
<line x1="1030.5" y1="9" x2="1030.5" y2="694"/>
<line x1="1030" y1="9.5" x2="1037" y2="9.5"/>
<line x1="1030" y1="85.5" x2="1037" y2="85.5"/>
<line x1="1030" y1="160.5" x2="1037" y2="160.5"/>
<line x1="1030" y1="235.5" x2="1037" y2="235.5"/>
<line x1="1030" y1="310.5" x2="1037" y2="310.5"/>
<line x1="1030" y1="384.5" x2="1037" y2="384.5"/>
<line x1="1030" y1="459.5" x2="1037" y2="459.5"/>
<line x1="1030" y1="534.5" x2="1037" y2="534.5"/>
<line x1="1030" y1="609.5" x2="1037" y2="609.5"/>
<line x1="1030" y1="684.5" x2="1037" y2="684.5"/>
</g>
<g fill="none" stroke-linejoin="round" stroke-linecap="round">
<path d="M149.5,436.2 L151.2,435.6 L152.9,434.9 L154.6,434.2 L156.2,433.5 L157.7,432.7 L159.3,431.9 L160.8,431.0 L162.3,430.1 L163.7,429.1 L165.1,428.2 L166.5,427.1 L167.9,426.1 L169.2,425.0 L170.5,423.9 L171.8,422.7 L173.1,421.6 L174.3,420.4 L175.5,419.2 L176.7,417.9 L177.9,416.7 L179.1,415.4 L180.3,414.1 L181.4,412.8 L182.6,411.5 L183.7,410.2 L184.9,408.8 L186.0,407.5 L187.1,406.1 L188.2,404.8 L189.3,403.4 L190.5,402.1 L191.6,400.7 L192.7,399.3 L193.8,398.0 L194.9,396.6 L196.0,395.2 L197.1,393.9 L198.1,392.5 L199.2,391.1 L200.3,389.7 L201.3,388.3 L202.4,386.9 L203.4,385.5 L204.4,384.0 L205.4,382.6 L206.4,381.2 L207.3,379.7 L208.3,378.2 L209.2,376.8 L210.2,375.3 L211.1,373.8 L212.0,372.3 L212.9,370.8 L213.8,369.3 L214.7,367.8 L215.5,366.3 L216.4,364.8 L217.3,363.3 L218.1,361.7 L218.9,360.2 L219.8,358.7 L220.6,357.1 L221.4,355.6 L222.2,354.0 L223.0,352.5 L223.8,350.9 L224.6,349.3 L225.4,347.8 L226.1,346.2 L226.9,344.6 L227.7,343.1 L228.4,341.5 L229.2,339.9 L230.0,338.3 L230.7,336.7 L231.5,335.2 L232.2,333.6 L233.0,332.0 L233.7,330.4 L234.5,328.8 L235.2,327.2 L236.0,325.7 L236.7,324.1 L237.5,322.5 L238.2,320.9 L239.0,319.3 L239.7,317.7 L240.5,316.1 L241.2,314.6 L242.0,313.0 L242.7,311.4 L243.5,309.8 L244.2,308.2 L245.0,306.7 L245.7,305.1 L246.5,303.5 L247.3,301.9 L248.0,300.3 L248.8,298.8 L249.5,297.2 L250.3,295.6 L251.1,294.0 L251.8,292.5 L252.6,290.9 L253.4,289.3 L254.1,287.8 L254.9,286.2 L255.7,284.6 L256.5,283.0 L257.2,281.5 L258.0,279.9 L258.8,278.3 L259.6,276.8 L260.4,275.2 L261.1,273.7 L261.9,272.1 L262.7,270.5 L263.5,269.0 L264.3,267.4 L265.1,265.9 L265.9,264.3 L266.7,262.7 L267.5,261.2 L268.3,259.6 L269.1,258.1 L269.9,256.5 L270.7,255.0 L271.5,253.4 L272.3,251.9 L273.1,250.4 L274.0,248.8 L274.8,247.3 L275.6,245.7 L276.4,244.2 L277.3,242.7 L278.1,241.1 L278.9,239.6 L279.8,238.0 L280.6,236.5 L281.5,235.0 L282.3,233.5 L283.2,231.9 L284.0,230.4 L284.9,228.9 L285.7,227.4 L286.6,225.8 L287.5,224.3 L288.3,222.8 L289.2,221.3 L290.1,219.8 L291.0,218.3 L291.9,216.8 L292.8,215.2 L293.7,213.7 L294.5,212.2 L295.4,210.7 L296.4,209.2 L297.3,207.7 L298.2,206.2 L299.1,204.7 L300.0,203.3 L300.9,201.8 L301.9,200.3 L302.8,198.8 L303.7,197.3 L304.7,195.8 L305.6,194.4 L306.6,192.9 L307.5,191.4 L308.5,189.9 L309.4,188.5 L310.4,187.0 L311.4,185.5 L312.4,184.1 L313.4,182.6 L314.3,181.2 L315.3,179.7 L316.3,178.3 L317.3,176.9 L318.3,175.4 L319.4,174.0 L320.4,172.6 L321.4,171.2 L322.4,169.7 L323.5,168.3 L324.5,166.9 L325.6,165.5 L326.6,164.1 L327.7,162.7 L328.7,161.3 L329.8,160.0 L330.9,158.6 L332.0,157.2 L333.1,155.8 L334.2,154.5 L335.3,153.1 L336.4,151.8 L337.5,150.4 L338.6,149.1 L339.7,147.8 L340.9,146.5 L342.0,145.1 L343.2,143.8 L344.3,142.5 L345.5,141.2 L346.6,139.9 L347.8,138.7 L349.0,137.4 L350.2,136.1 L351.4,134.9 L352.6,133.6 L353.8,132.4 L355.0,131.1 L356.2,129.9 L357.5,128.7 L358.7,127.5 L360.0,126.2 L361.2,125.1 L362.5,123.9 L363.8,122.7 L365.0,121.5 L366.3,120.3 L367.6,119.2 L368.9,118.0 L370.2,116.9 L371.6,115.8 L372.9,114.6 L374.2,113.5 L375.6,112.4 L376.9,111.3 L378.3,110.2 L379.6,109.1 L381.0,108.1 L382.4,107.0 L383.7,105.9 L385.1,104.8 L386.5,103.8 L387.9,102.7 L389.3,101.7 L390.7,100.7 L392.2,99.6 L393.6,98.6 L395.0,97.6 L396.5,96.5 L397.9,95.5 L399.3,94.5 L400.8,93.5 L402.3,92.5 L403.7,91.5 L405.2,90.5 L406.7,89.5 L408.1,88.5 L409.6,87.6 L411.1,86.6 L412.6,85.6 L414.1,84.6 L415.6,83.7 L417.1,82.7 L418.6,81.8 L420.2,80.9 L421.7,80.0 L423.2,79.2 L424.8,78.3 L426.3,77.5 L427.9,76.7 L429.5,76.0 L431.0,75.3 L432.6,74.6 L434.2,73.9 L435.8,73.3 L437.4,72.8 L439.1,72.3 L440.7,71.8 L442.3,71.4 L444.0,71.0 L445.7,70.7 L447.3,70.4 L449.0,70.2 L450.7,70.0 L452.4,69.9 L454.1,69.8 L455.8,69.8 L457.6,69.8 L459.3,69.8 L461.0,69.9 L462.8,70.0 L464.5,70.1 L466.3,70.2 L468.0,70.4 L469.8,70.6 L471.5,70.8 L473.3,71.1 L475.1,71.4 L476.8,71.6 L478.6,71.9 L480.4,72.2 L482.1,72.6 L483.9,72.9 L485.7,73.2 L487.4,73.6 L489.2,73.9 L490.9,74.2 L492.7,74.6 L494.4,74.9 L496.2,75.2 L497.9,75.5 L499.7,75.9 L501.4,76.2 L503.1,76.5 L504.9,76.8 L506.6,77.1 L508.3,77.4 L510.0,77.7 L511.8,78.0 L513.5,78.3 L515.2,78.5 L516.9,78.8 L518.6,79.1 L520.3,79.3 L522.1,79.6 L523.8,79.8 L525.5,80.0 L527.2,80.3 L528.9,80.5 L530.6,80.7 L532.3,80.9 L534.0,81.1 L535.8,81.3 L537.5,81.5 L539.2,81.7 L540.9,81.8 L542.6,82.0 L544.4,82.1 L546.1,82.3 L547.8,82.4 L549.5,82.5 L551.3,82.6 L553.0,82.7 L554.7,82.8 L556.5,82.9 L558.2,83.0 L560.0,83.1 L561.7,83.1 L563.4,83.2 L565.2,83.2 L566.9,83.3 L568.7,83.3 L570.4,83.4 L572.2,83.4 L574.0,83.5 L575.7,83.5 L577.5,83.5 L579.2,83.6 L581.0,83.6 L582.7,83.6 L584.5,83.7 L586.3,83.7 L588.0,83.7 L589.8,83.8 L591.5,83.8 L593.3,83.9 L595.0,83.9 L596.8,84.0 L598.6,84.0 L600.3,84.1 L602.1,84.2 L603.8,84.3 L605.6,84.3 L607.3,84.4 L609.1,84.5 L610.8,84.7 L612.6,84.8 L614.3,84.9 L616.1,85.1 L617.8,85.2 L619.6,85.4 L621.3,85.6 L623.1,85.8 L624.8,86.0 L626.5,86.2 L628.3,86.4 L630.0,86.7 L631.7,86.9 L633.4,87.2 L635.2,87.5 L636.9,87.8 L638.6,88.2 L640.3,88.5 L642.0,88.9 L643.7,89.2 L645.4,89.6 L647.1,90.0 L648.8,90.4 L650.5,90.8 L652.2,91.2 L653.9,91.7 L655.6,92.1 L657.3,92.6 L659.0,93.1 L660.7,93.6 L662.4,94.1 L664.0,94.6 L665.7,95.1 L667.4,95.6 L669.1,96.1 L670.7,96.7 L672.4,97.2 L674.1,97.8 L675.7,98.3 L677.4,98.9 L679.1,99.5 L680.7,100.1 L682.4,100.7 L684.0,101.3 L685.7,101.9 L687.3,102.5 L689.0,103.1 L690.6,103.7 L692.3,104.3 L693.9,105.0 L695.5,105.6 L697.2,106.2 L698.8,106.9 L700.4,107.5 L702.1,108.2 L703.7,108.8 L705.3,109.5 L706.9,110.1 L708.6,110.8 L710.2,111.4 L711.8,112.1 L713.4,112.8 L715.0,113.4 L716.6,114.1 L718.2,114.7 L719.9,115.4 L721.5,116.1 L723.1,116.7 L724.7,117.4 L726.3,118.0 L727.9,118.7 L729.5,119.3 L731.1,120.0 L732.7,120.6 L734.3,121.3 L736.0,121.9 L737.6,122.6 L739.2,123.2 L740.8,123.9 L742.4,124.5 L744.1,125.1 L745.7,125.7 L747.3,126.3 L749.0,127.0 L750.6,127.6 L752.2,128.2 L753.9,128.8 L755.5,129.4 L757.2,129.9 L758.9,130.5 L760.5,131.1 L762.2,131.7 L763.8,132.2 L765.5,132.8 L767.2,133.4 L768.8,134.0 L770.5,134.6 L772.2,135.2 L773.8,135.8 L775.4,136.4 L777.1,137.0 L778.7,137.6 L780.3,138.3 L782.0,139.0 L783.6,139.7 L785.2,140.4 L786.8,141.1 L788.3,141.8 L789.9,142.6 L791.4,143.4 L793.0,144.2 L794.5,145.1 L796.0,145.9 L797.5,146.8 L799.0,147.7 L800.5,148.6 L801.9,149.6 L803.4,150.5 L804.8,151.5 L806.3,152.5 L807.7,153.4 L809.2,154.4 L810.6,155.4 L812.0,156.5 L813.4,157.5 L814.8,158.5 L816.3,159.5 L817.7,160.6 L819.1,161.6 L820.5,162.7 L821.9,163.7 L823.3,164.7 L824.7,165.8 L826.1,166.8 L827.5,167.9 L828.9,168.9 L830.3,170.0 L831.7,171.0 L833.1,172.1 L834.5,173.2 L835.9,174.2 L837.2,175.3 L838.6,176.4 L840.0,177.4 L841.4,178.5 L842.8,179.6 L844.2,180.7 L845.5,181.7 L846.9,182.8 L848.3,183.9 L849.6,185.0 L851.0,186.1 L852.4,187.2 L853.8,188.3 L855.1,189.3 L856.5,190.4 L857.8,191.5 L859.2,192.6 L860.6,193.8 L861.9,194.9 L863.3,196.0 L864.6,197.1 L866.0,198.2 L867.3,199.3 L868.7,200.4 L870.0,201.5 L871.3,202.7 L872.7,203.8 L874.0,204.9 L875.4,206.0 L876.7,207.1 L878.1,208.2 L879.4,209.4 L880.7,210.5 L882.1,211.6 L883.4,212.7 L884.8,213.8 L886.1,214.9 L887.5,216.0 L888.9,217.1 L890.2,218.2 L891.6,219.3 L893.0,220.3 L894.3,221.4 L895.7,222.5 L897.1,223.5 L898.5,224.6 L899.9,225.6 L901.3,226.6 L902.7,227.7 L904.1,228.7 L905.5,229.7 L906.9,230.7 L908.4,231.6 L909.8,232.6 L911.2,233.6 L912.7,234.5 L914.2,235.5 L915.6,236.4 L917.1,237.3 L918.6,238.2 L920.1,239.1 L921.6,239.9 L923.1,240.8 L924.7,241.6 L926.2,242.5 L927.8,243.3 L929.3,244.1 L930.9,244.8 L932.5,245.6 L934.1,246.3 L935.7,247.1 L937.3,247.8 L938.9,248.5 L940.6,249.2 L942.2,250.0 L943.8,250.7 L945.4,251.4 L947.0,252.2 L948.6,253.0 L950.1,253.8 L951.7,254.6 L953.2,255.4 L954.7,256.3 L956.2,257.2 L957.6,258.2 L959.1,259.2 L960.5,260.3 L961.8,261.4 C964.0,263.0 965.3,263.6 967.4,265.4 C969.2,267.0 970.2,267.9 971.5,269.9 C972.8,272.0 973.1,273.3 973.9,275.6 C974.7,278.1 975.0,279.4 975.6,282.0 C976.4,285.7 976.8,287.6 977.3,291.4 C978.3,298.8 978.7,302.6 979.5,310.0 C980.2,316.0 980.3,319.0 981.0,325.0 C981.7,331.0 982.1,334.0 982.8,340.0 C983.6,346.9 983.9,350.4 984.7,357.3 C985.5,364.0 985.9,367.3 986.7,374.0" stroke="#7294cc" stroke-width="1.1"/>
<path d="M149.6,605.2 L150.9,604.0 L152.1,602.8 L153.4,601.6 L154.7,600.4 L156.0,599.2 L157.4,598.0 L158.7,596.9 L160.0,595.7 L161.4,594.6 L162.7,593.5 L164.1,592.3 L165.4,591.2 L166.8,590.1 L168.2,589.0 L169.6,587.9 L171.0,586.8 L172.3,585.7 L173.7,584.6 L175.1,583.5 L176.5,582.4 L177.9,581.4 L179.3,580.3 L180.7,579.2 L182.1,578.1 L183.6,577.0 L185.0,576.0 L186.4,574.9 L187.8,573.8 L189.2,572.7 L190.6,571.6 L192.0,570.6 L193.3,569.5 L194.7,568.4 L196.1,567.3 L197.5,566.2 L198.9,565.1 L200.2,563.9 L201.6,562.8 L203.0,561.7 L204.3,560.6 L205.6,559.4 L207.0,558.3 L208.3,557.1 L209.6,555.9 L210.9,554.7 L212.2,553.6 L213.5,552.4 L214.8,551.2 L216.1,550.0 L217.4,548.7 L218.6,547.5 L219.9,546.3 L221.1,545.0 L222.4,543.8 L223.6,542.6 L224.9,541.3 L226.1,540.0 L227.3,538.8 L228.5,537.5 L229.7,536.2 L230.9,534.9 L232.1,533.6 L233.3,532.3 L234.5,531.0 L235.7,529.7 L236.9,528.4 L238.1,527.1 L239.2,525.8 L240.4,524.5 L241.5,523.1 L242.7,521.8 L243.9,520.5 L245.0,519.1 L246.2,517.8 L247.3,516.4 L248.4,515.1 L249.6,513.8 L250.7,512.4 L251.8,511.0 L253.0,509.7 L254.1,508.3 L255.2,507.0 L256.3,505.6 L257.5,504.2 L258.6,502.9 L259.7,501.5 L260.8,500.1 L261.9,498.8 L263.0,497.4 L264.1,496.0 L265.2,494.6 L266.3,493.2 L267.4,491.9 L268.5,490.5 L269.6,489.1 L270.7,487.7 L271.7,486.3 L272.8,484.9 L273.9,483.5 L275.0,482.1 L276.1,480.7 L277.1,479.3 L278.2,477.9 L279.3,476.5 L280.4,475.1 L281.4,473.7 L282.5,472.3 L283.6,470.9 L284.6,469.5 L285.7,468.1 L286.8,466.7 L287.8,465.3 L288.9,463.9 L290.0,462.5 L291.0,461.0 L292.1,459.6 L293.1,458.2 L294.2,456.8 L295.3,455.4 L296.3,454.0 L297.4,452.6 L298.4,451.2 L299.5,449.7 L300.5,448.3 L301.6,446.9 L302.6,445.5 L303.7,444.1 L304.7,442.7 L305.8,441.2 L306.8,439.8 L307.9,438.4 L308.9,437.0 L310.0,435.6 L311.0,434.2 L312.1,432.7 L313.1,431.3 L314.2,429.9 L315.2,428.5 L316.2,427.0 L317.3,425.6 L318.3,424.2 L319.3,422.8 L320.4,421.3 L321.4,419.9 L322.4,418.4 L323.4,417.0 L324.4,415.6 L325.4,414.1 L326.4,412.7 L327.4,411.2 L328.4,409.8 L329.4,408.3 L330.4,406.8 L331.4,405.4 L332.3,403.9 L333.3,402.4 L334.3,401.0 L335.2,399.5 L336.2,398.0 L337.1,396.5 L338.1,395.0 L339.0,393.5 L340.0,392.0 L340.9,390.5 L341.8,389.0 L342.8,387.5 L343.7,386.0 L344.6,384.5 L345.6,383.0 L346.5,381.5 L347.4,380.0 L348.3,378.5 L349.2,377.0 L350.1,375.5 L351.0,374.0 L351.9,372.4 L352.9,370.9 L353.8,369.4 L354.7,367.9 L355.6,366.4 L356.5,364.9 L357.4,363.3 L358.3,361.8 L359.2,360.3 L360.1,358.8 L361.0,357.3 L361.9,355.8 L362.8,354.3 L363.8,352.7 L364.7,351.2 L365.6,349.7 L366.5,348.2 L367.4,346.7 L368.4,345.2 L369.3,343.7 L370.2,342.2 L371.1,340.7 L372.1,339.2 L373.0,337.7 L374.0,336.2 L374.9,334.7 L375.9,333.3 L376.8,331.8 L377.8,330.3 L378.7,328.8 L379.7,327.4 L380.7,325.9 L381.7,324.4 L382.7,323.0 L383.6,321.5 L384.6,320.1 L385.6,318.6 L386.7,317.2 L387.7,315.7 L388.7,314.3 L389.7,312.9 L390.8,311.5 L391.8,310.0 L392.9,308.6 L393.9,307.2 L395.0,305.8 L396.1,304.5 L397.2,303.1 L398.3,301.7 L399.4,300.4 L400.6,299.0 L401.7,297.7 L402.9,296.3 L404.1,295.0 L405.2,293.7 L406.4,292.4 L407.6,291.1 L408.8,289.8 L410.0,288.5 L411.2,287.2 L412.4,285.9 L413.6,284.6 L414.8,283.3 L415.9,282.0 L417.1,280.7 L418.3,279.4 L419.5,278.1 L420.7,276.8 L421.9,275.5 L423.1,274.1 L424.2,272.8 L425.4,271.5 L426.6,270.2 L427.7,268.9 L428.9,267.6 L430.1,266.3 L431.2,264.9 L432.4,263.6 L433.5,262.3 L434.7,261.0 L435.9,259.7 L437.0,258.3 L438.2,257.0 L439.3,255.7 L440.5,254.3 L441.6,253.0 L442.8,251.7 L443.9,250.3 L445.1,249.0 L446.2,247.7 L447.4,246.3 L448.6,245.0 L449.7,243.6 L450.9,242.3 L452.1,241.0 L453.2,239.7 L454.4,238.3 L455.6,237.0 L456.8,235.7 L458.0,234.4 L459.2,233.1 L460.4,231.8 L461.6,230.5 L462.8,229.2 L464.0,227.9 L465.3,226.7 L466.5,225.4 L467.7,224.2 L469.0,222.9 L470.3,221.7 L471.5,220.5 L472.8,219.3 L474.1,218.1 L475.4,217.0 L476.8,215.8 L478.1,214.6 L479.4,213.5 L480.7,212.3 L482.1,211.2 L483.4,210.1 L484.8,209.0 L486.2,207.9 L487.5,206.8 L488.9,205.7 L490.3,204.6 L491.7,203.5 L493.0,202.4 L494.4,201.3 L495.8,200.3 L497.2,199.2 L498.6,198.1 L500.1,197.1 L501.5,196.0 L502.9,195.0 L504.3,193.9 L505.7,192.9 L507.1,191.8 L508.5,190.8 L510.0,189.7 L511.4,188.7 L512.8,187.7 L514.2,186.6 L515.7,185.6 L517.1,184.5 L518.5,183.5 L519.9,182.4 L521.3,181.4 L522.7,180.3 L524.2,179.3 L525.6,178.2 L527.0,177.1 L528.4,176.1 L529.8,175.0 L531.2,173.9 L532.6,172.8 L533.9,171.7 L535.3,170.6 L536.7,169.5 L538.0,168.3 L539.4,167.2 L540.7,166.0 L542.0,164.9 L543.3,163.7 L544.6,162.5 L545.9,161.2 L547.1,160.0 L548.4,158.7 L549.6,157.5 L550.8,156.2 L552.0,154.9 L553.2,153.5 L554.3,152.2 L555.5,150.9 L556.7,149.6 L558.0,148.4 L559.2,147.1 L560.5,145.9 L561.8,144.8 L563.2,143.7 L564.6,142.7 L566.0,141.7 L567.5,140.7 L569.0,139.8 L570.5,138.8 L572.0,137.9 L573.5,137.0 L575.0,136.1 L576.6,135.2 L578.1,134.3 L579.5,133.3 L581.0,132.3 L582.5,131.4 L583.9,130.3 L585.4,129.3 L586.8,128.3 L588.2,127.2 L589.6,126.1 L591.0,125.1 L592.4,124.0 L593.8,122.9 L595.2,121.8 L596.6,120.7 L597.9,119.6 L599.3,118.5 L600.7,117.4 L602.1,116.3 L603.5,115.2 L604.8,114.1 L606.2,113.0 L607.6,111.9 L609.0,110.9 L610.4,109.8 L611.8,108.8 L613.2,107.8 L614.6,106.7 L616.1,105.7 L617.5,104.7 L618.9,103.8 L620.4,102.8 L621.8,101.8 L623.3,100.8 L624.8,99.9 L626.2,99.0 L627.7,98.0 L629.2,97.1 L630.7,96.2 L632.2,95.3 L633.7,94.4 L635.2,93.5 L636.8,92.6 L638.3,91.8 L639.8,90.9 L641.4,90.0 L642.9,89.2 L644.4,88.3 L646.0,87.4 L647.5,86.6 L649.1,85.7 L650.6,84.8 L652.1,84.0 L653.7,83.1 L655.2,82.2 L656.7,81.4 L658.3,80.5 L659.8,79.6 L661.3,78.7 L662.8,77.8 L664.3,76.9 L665.8,76.0 L667.3,75.1 L668.8,74.2 L670.3,73.3 L671.8,72.4 L673.3,71.5 L674.9,70.6 L676.4,69.8 L678.0,68.9 L679.5,68.1 L681.1,67.3 L682.7,66.5 L684.3,65.8 L685.9,65.0 L687.5,64.3 L689.2,63.6 L690.8,62.9 L692.4,62.3 L694.1,61.6 L695.7,61.0 L697.4,60.4 L699.0,59.9 L700.7,59.3 L702.4,58.8 L704.1,58.2 L705.7,57.7 L707.4,57.2 L709.1,56.8 L710.8,56.3 L712.5,55.9 L714.2,55.5 L715.9,55.1 L717.6,54.7 L719.3,54.3 L721.1,53.9 L722.8,53.6 L724.5,53.2 L726.2,52.9 L728.0,52.6 L729.7,52.3 L731.4,52.0 L733.1,51.7 L734.9,51.4 L736.6,51.1 L738.4,50.9 L740.1,50.6 L741.8,50.4 L743.6,50.2 L745.3,50.0 L747.1,49.8 L748.8,49.6 L750.6,49.4 L752.3,49.2 L754.1,49.0 L755.8,48.9 L757.6,48.7 L759.3,48.6 L761.1,48.5 L762.8,48.3 L764.6,48.2 L766.4,48.1 L768.1,48.0 L769.9,47.9 L771.7,47.8 L773.4,47.7 L775.2,47.7 L776.9,47.6 L778.7,47.5 L780.5,47.5 L782.3,47.4 L784.0,47.4 L785.8,47.4 L787.6,47.3 L789.3,47.3 L791.1,47.3 L792.9,47.3 L794.6,47.3 L796.4,47.3 L798.2,47.3 L800.0,47.3 L801.7,47.3 L803.5,47.3 L805.3,47.3 L807.1,47.3 L808.8,47.3 L810.6,47.4 L812.4,47.4 L814.2,47.4 L815.9,47.5 L817.7,47.5 L819.5,47.5 L821.2,47.6 L823.0,47.6 L824.8,47.7 L826.6,47.7 L828.3,47.8 L830.1,47.8 L831.9,47.9 L833.6,47.9 L835.4,48.0 L837.2,48.0 L838.9,48.1 L840.7,48.1 L842.5,48.2 L844.2,48.3 L846.0,48.3 L847.8,48.4 L849.5,48.4 L851.3,48.5 L853.1,48.5 L854.8,48.6 L856.6,48.7 L858.3,48.7 L860.1,48.8 L861.8,48.8 L863.6,48.9 L865.3,49.0 L867.1,49.1 L868.8,49.2 L870.6,49.3 L872.3,49.4 L874.1,49.5 L875.8,49.6 L877.6,49.7 L879.3,49.9 L881.1,50.0 L882.8,50.2 L884.5,50.4 L886.3,50.6 L888.0,50.8 L889.7,51.0 L891.5,51.2 L893.2,51.5 L894.9,51.8 L896.6,52.1 L898.4,52.4 L900.1,52.7 L901.8,53.1 L903.5,53.4 L905.2,53.8 L906.9,54.2 L908.6,54.7 L910.4,55.2 L912.1,55.6 L913.8,56.2 L915.5,56.7 L917.2,57.3 L918.9,57.9 L920.6,58.5 L922.2,59.1 L923.9,59.8 L925.6,60.5 L927.3,61.2 L928.9,61.9 L930.6,62.6 L932.2,63.4 L933.9,64.1 L935.5,64.9 L937.1,65.7 L938.8,66.5 L940.4,67.3 L941.9,68.1 L943.5,68.9 L945.1,69.8 L946.6,70.6 L948.2,71.4 L949.7,72.3 L951.2,73.1 L952.7,74.0 L954.2,74.9 L955.6,75.8 L957.0,76.8 L958.4,77.8 L959.7,78.9 L961.0,80.1 L962.3,81.4 C966.1,84.5 967.9,86.2 971.0,90.0 C972.9,92.3 973.6,93.8 974.7,96.6 C976.2,100.3 976.7,102.2 977.6,106.1 C978.7,110.9 978.8,113.5 979.5,118.4 C979.9,121.0 979.9,122.4 980.2,125.0 C980.7,129.9 980.9,132.4 981.4,137.3 C981.9,142.6 982.4,145.2 982.8,150.5 C983.8,162.1 984.2,168.0 984.9,179.6 C985.3,187.0 985.3,190.6 985.5,198.0" stroke="#7294cc" stroke-width="1.1"/>
<path d="M149.5,436.2 L151.1,435.7 L152.6,435.1 L154.1,434.4 L155.6,433.8 L157.1,433.1 L158.6,432.4 L160.0,431.7 L161.5,430.9 L162.9,430.1 L164.3,429.3 L165.6,428.5 L167.0,427.6 L168.3,426.7 L169.7,425.9 L171.0,424.9 L172.3,424.0 L173.6,423.0 L174.9,422.1 L176.1,421.1 L177.4,420.1 L178.6,419.0 L179.9,418.0 L181.1,416.9 L182.3,415.9 L183.5,414.8 L184.7,413.7 L185.9,412.6 L187.0,411.5 L188.2,410.3 L189.4,409.2 L190.5,408.0 L191.6,406.9 L192.8,405.7 L193.9,404.5 L195.0,403.3 L196.2,402.1 L197.3,400.9 L198.4,399.7 L199.5,398.5 L200.6,397.3 L201.7,396.1 L202.8,394.9 L203.9,393.7 L205.0,392.5 L206.1,391.2 L207.2,390.0 L208.3,388.8 L209.4,387.6 L210.5,386.4 L211.6,385.2 L212.7,384.0 L213.8,382.8 L214.9,381.6 L216.0,380.4 L217.1,379.2 L218.2,378.1 L219.4,376.9 L220.5,375.7 L221.6,374.6 L222.7,373.4 L223.8,372.2 L225.0,371.1 L226.1,369.9 L227.2,368.8 L228.3,367.6 L229.4,366.4 L230.5,365.3 L231.6,364.1 L232.6,362.9 L233.7,361.7 L234.7,360.5 L235.8,359.3 L236.8,358.1 L237.8,356.9 L238.8,355.6 L239.8,354.3 L240.8,353.1 L241.7,351.8 L242.7,350.5 L243.6,349.1 L244.5,347.8 L245.4,346.5 L246.3,345.2 L247.2,343.8 L248.1,342.5 L249.0,341.1 L249.9,339.8 L250.8,338.4 L251.7,337.1 L252.6,335.7 L253.4,334.4 L254.3,333.0 L255.2,331.6 L256.1,330.3 L256.9,328.9 L257.8,327.5 L258.7,326.1 L259.5,324.8 L260.4,323.4 L261.3,322.0 L262.1,320.6 L263.0,319.2 L263.8,317.9 L264.7,316.5 L265.5,315.1 L266.4,313.7 L267.3,312.3 L268.1,310.9 L269.0,309.5 L269.8,308.1 L270.7,306.8 L271.5,305.4 L272.4,304.0 L273.2,302.6 L274.1,301.2 L274.9,299.8 L275.8,298.4 L276.6,297.0 L277.5,295.6 L278.3,294.2 L279.2,292.9 L280.0,291.5 L280.9,290.1 L281.7,288.7 L282.6,287.3 L283.5,285.9 L284.3,284.6 L285.2,283.2 L286.1,281.8 L286.9,280.4 L287.8,279.1 L288.7,277.7 L289.5,276.3 L290.4,275.0 L291.3,273.6 L292.2,272.2 L293.0,270.9 L293.9,269.5 L294.8,268.2 L295.7,266.8 L296.6,265.5 L297.5,264.1 L298.4,262.8 L299.3,261.5 L300.2,260.1 L301.1,258.8 L302.1,257.5 L303.0,256.2 L303.9,254.8 L304.9,253.5 L305.8,252.2 L306.7,250.9 L307.7,249.6 L308.7,248.3 L309.6,247.0 L310.6,245.8 L311.6,244.5 L312.6,243.2 L313.6,241.9 L314.6,240.7 L315.6,239.4 L316.6,238.1 L317.7,236.9 L318.7,235.7 L319.8,234.4 L320.8,233.2 L321.9,232.0 L323.0,230.7 L324.1,229.5 L325.2,228.3 L326.3,227.1 L327.4,225.9 L328.5,224.7 L329.7,223.6 L330.8,222.4 L332.0,221.2 L333.1,220.1 L334.3,218.9 L335.5,217.8 L336.7,216.7 L337.9,215.6 L339.1,214.4 L340.3,213.4 L341.6,212.3 L342.8,211.2 L344.0,210.1 L345.3,209.1 L346.6,208.0 L347.8,207.0 L349.1,206.0 L350.4,205.0 L351.7,204.0 L353.0,203.0 L354.3,202.0 L355.6,201.1 L357.0,200.2 L358.3,199.2 L359.6,198.3 L361.0,197.4 L362.4,196.5 L363.7,195.7 L365.1,194.8 L366.5,194.0 L367.9,193.2 L369.3,192.3 L370.7,191.6 L372.1,190.8 L373.5,190.0 L375.0,189.3 L376.4,188.6 L377.8,187.9 L379.3,187.2 L380.7,186.5 L382.2,185.8 L383.7,185.2 L385.2,184.6 L386.6,184.0 L388.1,183.4 L389.6,182.9 L391.2,182.3 L392.7,181.8 L394.2,181.3 L395.7,180.8 L397.3,180.4 L398.8,179.9 L400.3,179.5 L401.9,179.1 L403.5,178.8 L405.0,178.4 L406.6,178.1 L408.2,177.8 L409.8,177.5 L411.4,177.2 L412.9,177.0 L414.5,176.7 L416.2,176.5 L417.8,176.3 L419.4,176.1 L421.0,175.9 L422.6,175.8 L424.2,175.6 L425.9,175.5 L427.5,175.4 L429.1,175.3 L430.8,175.2 L432.4,175.1 L434.1,175.0 L435.7,174.9 L437.3,174.8 L439.0,174.7 L440.6,174.7 L442.3,174.6 L443.9,174.6 L445.6,174.5 L447.2,174.4 L448.9,174.4 L450.5,174.3 L452.2,174.3 L453.8,174.2 L455.5,174.2 L457.1,174.1 L458.8,174.1 L460.4,174.0 L462.1,173.9 L463.7,173.8 L465.3,173.7 L467.0,173.7 L468.6,173.5 L470.2,173.4 L471.9,173.3 L473.5,173.2 L475.1,173.1 L476.7,172.9 L478.4,172.7 L480.0,172.6 L481.6,172.4 L483.2,172.2 L484.8,172.1 L486.4,171.9 L488.0,171.7 L489.6,171.5 L491.2,171.2 L492.8,171.0 L494.4,170.8 L496.0,170.6 L497.6,170.4 L499.2,170.1 L500.8,169.9 L502.4,169.6 L504.0,169.4 L505.6,169.2 L507.1,168.9 L508.7,168.6 L510.3,168.4 L511.9,168.1 L513.5,167.9 L515.1,167.6 L516.7,167.4 L518.3,167.1 L519.9,166.8 L521.5,166.6 L523.1,166.3 L524.6,166.1 L526.2,165.8 L527.8,165.5 L529.4,165.3 L531.0,165.0 L532.6,164.8 L534.2,164.5 L535.8,164.3 L537.5,164.0 L539.1,163.8 L540.7,163.6 L542.3,163.3 L543.9,163.1 L545.5,162.9 L547.1,162.7 L548.7,162.4 L550.4,162.2 L552.0,162.0 L553.6,161.8 L555.2,161.6 L556.8,161.5 L558.5,161.3 L560.1,161.1 L561.7,161.0 L563.3,160.8 L565.0,160.7 L566.6,160.5 L568.2,160.4 L569.9,160.3 L571.5,160.2 L573.1,160.1 L574.7,160.0 L576.4,159.9 L578.0,159.8 L579.6,159.8 L581.3,159.7 L582.9,159.7 L584.5,159.7 L586.1,159.7 L587.8,159.7 L589.4,159.7 L591.0,159.7 L592.7,159.7 L594.3,159.8 L595.9,159.9 L597.5,159.9 L599.2,160.0 L600.8,160.1 L602.4,160.2 L604.0,160.4 L605.7,160.5 L607.3,160.6 L608.9,160.8 L610.5,161.0 L612.1,161.2 L613.7,161.3 L615.4,161.5 L617.0,161.8 L618.6,162.0 L620.2,162.2 L621.8,162.5 L623.4,162.7 L625.0,163.0 L626.6,163.3 L628.2,163.6 L629.8,163.9 L631.4,164.2 L633.0,164.5 L634.6,164.8 L636.1,165.2 L637.7,165.5 L639.3,165.9 L640.9,166.2 L642.5,166.6 L644.0,167.0 L645.6,167.4 L647.2,167.8 L648.7,168.2 L650.3,168.6 L651.9,169.0 L653.4,169.5 L655.0,169.9 L656.5,170.4 L658.1,170.9 L659.6,171.3 L661.2,171.8 L662.7,172.3 L664.3,172.8 L665.8,173.3 L667.4,173.8 L668.9,174.3 L670.4,174.9 L672.0,175.4 L673.5,175.9 L675.0,176.5 L676.6,177.0 L678.1,177.6 L679.6,178.2 L681.1,178.7 L682.6,179.3 L684.1,179.9 L685.7,180.5 L687.2,181.1 L688.7,181.7 L690.2,182.3 L691.7,183.0 L693.2,183.6 L694.7,184.2 L696.2,184.9 L697.7,185.5 L699.2,186.2 L700.7,186.8 L702.2,187.5 L703.6,188.1 L705.1,188.8 L706.6,189.5 L708.1,190.2 L709.6,190.9 L711.0,191.6 L712.5,192.3 L714.0,193.0 L715.4,193.7 L716.9,194.4 L718.4,195.1 L719.8,195.8 L721.3,196.5 L722.8,197.3 L724.2,198.0 L725.7,198.7 L727.1,199.5 L728.6,200.2 L730.0,200.9 L731.5,201.7 L732.9,202.4 L734.3,203.2 L735.8,204.0 L737.2,204.7 L738.7,205.5 L740.1,206.2 L741.5,207.0 L743.0,207.8 L744.4,208.6 L745.8,209.3 L747.3,210.1 L748.7,210.9 L750.1,211.7 L751.5,212.5 L753.0,213.2 L754.4,214.0 L755.8,214.8 L757.2,215.6 L758.6,216.4 L760.1,217.2 L761.5,218.0 L762.9,218.8 L764.3,219.6 L765.7,220.4 L767.2,221.1 L768.6,221.9 L770.0,222.7 L771.4,223.5 L772.8,224.3 L774.2,225.1 L775.6,225.9 L777.1,226.7 L778.5,227.5 L779.9,228.3 L781.3,229.1 L782.7,229.9 L784.1,230.7 L785.6,231.5 L787.0,232.3 L788.4,233.1 L789.8,233.8 L791.2,234.6 L792.7,235.4 L794.1,236.2 L795.5,237.0 L796.9,237.8 L798.3,238.5 L799.8,239.3 L801.2,240.1 L802.6,240.9 L804.0,241.6 L805.5,242.4 L806.9,243.2 L808.3,243.9 L809.8,244.7 L811.2,245.4 L812.6,246.2 L814.1,246.9 L815.5,247.7 L816.9,248.4 L818.4,249.2 L819.8,249.9 L821.3,250.6 L822.7,251.4 L824.2,252.1 L825.6,252.8 L827.1,253.5 L828.5,254.2 L830.0,254.9 L831.5,255.6 L832.9,256.3 L834.4,257.0 L835.9,257.7 L837.3,258.4 L838.8,259.1 L840.3,259.7 L841.8,260.4 L843.2,261.1 L844.7,261.7 L846.2,262.4 L847.7,263.0 L849.2,263.6 L850.7,264.3 L852.2,264.9 L853.7,265.5 L855.2,266.1 L856.7,266.7 L858.2,267.3 L859.7,267.9 L861.2,268.5 L862.8,269.1 L864.3,269.7 L865.8,270.3 L867.3,270.9 L868.8,271.5 L870.4,272.1 L871.9,272.6 L873.4,273.2 L874.9,273.8 L876.4,274.4 L878.0,275.0 L879.5,275.5 L881.0,276.1 L882.5,276.7 L884.1,277.3 L885.6,277.9 L887.1,278.5 L888.6,279.1 L890.1,279.7 L891.6,280.3 L893.1,280.9 L894.6,281.5 L896.1,282.2 L897.6,282.8 L899.1,283.4 L900.6,284.1 L902.1,284.7 L903.6,285.4 L905.1,286.1 L906.6,286.7 L908.0,287.4 L909.5,288.1 L911.0,288.8 L912.4,289.6 L913.9,290.3 L915.3,291.0 L916.8,291.8 L918.2,292.5 L919.6,293.3 L921.1,294.1 L922.5,294.9 L923.9,295.7 L925.3,296.5 L926.7,297.3 L928.1,298.1 L929.5,298.9 L931.0,299.7 L932.4,300.6 L933.8,301.4 L935.2,302.2 L936.6,303.1 L938.0,303.9 L939.4,304.7 L940.8,305.6 L942.2,306.4 L943.6,307.2 L945.0,308.1 L946.4,308.9 L947.8,309.7 L949.2,310.6 L950.6,311.4 L952.0,312.2 L953.4,313.0 L954.8,313.8 L956.2,314.6 L957.6,315.4 L959.1,316.2 L960.5,317.0 L961.9,317.8 L963.3,318.5 L964.8,319.3 L966.2,320.0 L967.7,320.8 L969.1,321.5 C972.2,323.3 974.2,323.9 976.5,326.5 C978.7,328.9 979.4,330.8 980.5,334.0 C982.2,339.0 982.6,341.7 983.3,347.0 C985.1,360.5 985.5,367.4 986.9,381.0" stroke="#e87474" stroke-width="1.1"/>
<path d="M149.6,605.2 L151.0,604.3 L152.4,603.4 L153.8,602.5 L155.1,601.6 L156.5,600.7 L157.9,599.8 L159.3,598.9 L160.7,598.0 L162.0,597.1 L163.4,596.2 L164.8,595.3 L166.1,594.4 L167.5,593.5 L168.9,592.6 L170.3,591.7 L171.6,590.7 L173.0,589.8 L174.3,588.9 L175.7,587.9 L177.1,587.0 L178.4,586.1 L179.8,585.1 L181.1,584.2 L182.5,583.3 L183.8,582.3 L185.2,581.4 L186.5,580.4 L187.9,579.5 L189.2,578.5 L190.6,577.6 L191.9,576.6 L193.2,575.6 L194.6,574.7 L195.9,573.7 L197.3,572.7 L198.6,571.7 L199.9,570.8 L201.2,569.8 L202.6,568.8 L203.9,567.8 L205.2,566.8 L206.5,565.8 L207.8,564.8 L209.1,563.8 L210.4,562.8 L211.8,561.8 L213.1,560.8 L214.4,559.8 L215.7,558.8 L217.0,557.8 L218.2,556.7 L219.5,555.7 L220.8,554.7 L222.1,553.7 L223.4,552.6 L224.7,551.6 L225.9,550.5 L227.2,549.5 L228.5,548.4 L229.8,547.4 L231.0,546.3 L232.3,545.3 L233.5,544.2 L234.8,543.1 L236.0,542.1 L237.3,541.0 L238.5,539.9 L239.8,538.8 L241.0,537.8 L242.3,536.7 L243.5,535.6 L244.7,534.5 L245.9,533.4 L247.2,532.3 L248.4,531.2 L249.6,530.1 L250.8,529.0 L252.0,527.8 L253.2,526.7 L254.4,525.6 L255.6,524.5 L256.8,523.3 L258.0,522.2 L259.2,521.0 L260.4,519.9 L261.5,518.8 L262.7,517.6 L263.9,516.4 L265.0,515.3 L266.2,514.1 L267.4,512.9 L268.5,511.8 L269.7,510.6 L270.8,509.4 L271.9,508.2 L273.1,507.0 L274.2,505.8 L275.3,504.7 L276.5,503.5 L277.6,502.2 L278.7,501.0 L279.8,499.8 L281.0,498.6 L282.1,497.4 L283.2,496.2 L284.3,495.0 L285.4,493.8 L286.5,492.5 L287.6,491.3 L288.7,490.1 L289.8,488.8 L290.9,487.6 L292.0,486.4 L293.0,485.1 L294.1,483.9 L295.2,482.6 L296.3,481.4 L297.4,480.2 L298.5,478.9 L299.5,477.7 L300.6,476.4 L301.7,475.1 L302.8,473.9 L303.8,472.6 L304.9,471.4 L306.0,470.1 L307.0,468.9 L308.1,467.6 L309.2,466.3 L310.2,465.1 L311.3,463.8 L312.4,462.6 L313.4,461.3 L314.5,460.0 L315.6,458.8 L316.6,457.5 L317.7,456.2 L318.7,455.0 L319.8,453.7 L320.9,452.4 L321.9,451.2 L323.0,449.9 L324.1,448.6 L325.1,447.4 L326.2,446.1 L327.3,444.9 L328.3,443.6 L329.4,442.3 L330.4,441.1 L331.5,439.8 L332.6,438.5 L333.7,437.3 L334.7,436.0 L335.8,434.8 L336.9,433.5 L337.9,432.3 L339.0,431.0 L340.1,429.8 L341.2,428.5 L342.2,427.3 L343.3,426.0 L344.4,424.8 L345.5,423.5 L346.6,422.3 L347.7,421.0 L348.8,419.8 L349.8,418.6 L350.9,417.3 L352.0,416.1 L353.1,414.9 L354.2,413.6 L355.3,412.4 L356.4,411.2 L357.5,410.0 L358.6,408.7 L359.7,407.5 L360.9,406.3 L362.0,405.1 L363.1,403.9 L364.2,402.7 L365.3,401.5 L366.4,400.3 L367.6,399.0 L368.7,397.8 L369.8,396.6 L370.9,395.4 L372.1,394.2 L373.2,393.1 L374.3,391.9 L375.5,390.7 L376.6,389.5 L377.7,388.3 L378.9,387.1 L380.0,385.9 L381.2,384.8 L382.3,383.6 L383.5,382.4 L384.6,381.2 L385.8,380.1 L386.9,378.9 L388.1,377.7 L389.3,376.6 L390.4,375.4 L391.6,374.3 L392.8,373.1 L393.9,372.0 L395.1,370.8 L396.3,369.7 L397.5,368.5 L398.7,367.4 L399.9,366.2 L401.0,365.1 L402.2,364.0 L403.4,362.8 L404.6,361.7 L405.8,360.6 L407.0,359.5 L408.2,358.3 L409.4,357.2 L410.6,356.1 L411.9,355.0 L413.1,353.9 L414.3,352.8 L415.5,351.7 L416.7,350.6 L418.0,349.5 L419.2,348.4 L420.4,347.3 L421.7,346.2 L422.9,345.1 L424.1,344.1 L425.4,343.0 L426.6,341.9 L427.9,340.8 L429.1,339.8 L430.4,338.7 L431.7,337.7 L432.9,336.6 L434.2,335.5 L435.5,334.5 L436.7,333.4 L438.0,332.4 L439.3,331.4 L440.6,330.3 L441.8,329.3 L443.1,328.2 L444.4,327.2 L445.7,326.2 L447.0,325.2 L448.3,324.1 L449.6,323.1 L450.9,322.1 L452.2,321.1 L453.5,320.1 L454.8,319.1 L456.1,318.0 L457.4,317.0 L458.7,316.0 L460.0,315.0 L461.4,314.0 L462.7,313.0 L464.0,312.0 L465.3,311.0 L466.6,310.1 L468.0,309.1 L469.3,308.1 L470.6,307.1 L471.9,306.1 L473.3,305.1 L474.6,304.1 L475.9,303.2 L477.3,302.2 L478.6,301.2 L479.9,300.2 L481.3,299.3 L482.6,298.3 L484.0,297.3 L485.3,296.3 L486.6,295.4 L488.0,294.4 L489.3,293.4 L490.7,292.5 L492.0,291.5 L493.4,290.5 L494.7,289.6 L496.0,288.6 L497.4,287.7 L498.7,286.7 L500.1,285.7 L501.4,284.8 L502.8,283.8 L504.1,282.9 L505.5,281.9 L506.8,281.0 L508.2,280.0 L509.5,279.1 L510.9,278.1 L512.2,277.1 L513.6,276.2 L514.9,275.2 L516.2,274.3 L517.6,273.3 L518.9,272.4 L520.3,271.4 L521.6,270.5 L523.0,269.5 L524.3,268.6 L525.7,267.6 L527.0,266.7 L528.4,265.7 L529.7,264.8 L531.0,263.8 L532.4,262.9 L533.7,261.9 L535.1,261.0 L536.4,260.0 L537.8,259.1 L539.1,258.1 L540.4,257.1 L541.8,256.2 L543.1,255.2 L544.5,254.3 L545.8,253.3 L547.2,252.4 L548.5,251.4 L549.8,250.5 L551.2,249.5 L552.5,248.6 L553.9,247.6 L555.2,246.6 L556.5,245.7 L557.9,244.7 L559.2,243.8 L560.5,242.8 L561.9,241.9 L563.2,240.9 L564.5,239.9 L565.9,239.0 L567.2,238.0 L568.5,237.0 L569.9,236.1 L571.2,235.1 L572.5,234.2 L573.9,233.2 L575.2,232.2 L576.5,231.3 L577.9,230.3 L579.2,229.3 L580.5,228.3 L581.9,227.4 L583.2,226.4 L584.5,225.4 L585.8,224.4 L587.2,223.5 L588.5,222.5 L589.8,221.5 L591.1,220.5 L592.5,219.5 L593.8,218.6 L595.1,217.6 L596.4,216.6 L597.7,215.6 L599.1,214.6 L600.4,213.6 L601.7,212.6 L603.0,211.6 L604.3,210.7 L605.7,209.7 L607.0,208.7 L608.3,207.7 L609.6,206.7 L610.9,205.7 L612.2,204.7 L613.5,203.7 L614.8,202.6 L616.2,201.6 L617.5,200.6 L618.8,199.6 L620.1,198.6 L621.4,197.6 L622.7,196.6 L624.0,195.6 L625.3,194.6 L626.6,193.6 L627.9,192.6 L629.3,191.6 L630.6,190.5 L631.9,189.5 L633.2,188.5 L634.5,187.5 L635.8,186.5 L637.1,185.5 L638.4,184.5 L639.8,183.5 L641.1,182.5 L642.4,181.5 L643.7,180.5 L645.0,179.5 L646.3,178.5 L647.7,177.5 L649.0,176.5 L650.3,175.5 L651.6,174.5 L652.9,173.5 L654.3,172.5 L655.6,171.5 L656.9,170.6 L658.3,169.6 L659.6,168.6 L660.9,167.6 L662.3,166.6 L663.6,165.7 L664.9,164.7 L666.3,163.7 L667.6,162.8 L669.0,161.8 L670.3,160.9 L671.6,159.9 L673.0,159.0 L674.3,158.0 L675.7,157.1 L677.1,156.1 L678.4,155.2 L679.8,154.3 L681.1,153.4 L682.5,152.4 L683.9,151.5 L685.2,150.6 L686.6,149.7 L688.0,148.8 L689.4,147.9 L690.8,147.0 L692.1,146.1 L693.5,145.2 L694.9,144.4 L696.3,143.5 L697.7,142.6 L699.1,141.8 L700.5,140.9 L701.9,140.1 L703.3,139.2 L704.8,138.4 L706.2,137.5 L707.6,136.7 L709.0,135.9 L710.5,135.1 L711.9,134.3 L713.3,133.5 L714.8,132.7 L716.2,131.9 L717.7,131.1 L719.1,130.4 L720.6,129.6 L722.0,128.8 L723.5,128.1 L725.0,127.3 L726.4,126.6 L727.9,125.9 L729.4,125.2 L730.9,124.5 L732.4,123.8 L733.8,123.1 L735.3,122.4 L736.8,121.7 L738.3,121.1 L739.8,120.4 L741.4,119.8 L742.9,119.1 L744.4,118.5 L745.9,117.9 L747.4,117.3 L748.9,116.7 L750.5,116.1 L752.0,115.6 L753.6,115.0 L755.1,114.5 L756.6,113.9 L758.2,113.4 L759.7,112.9 L761.3,112.4 L762.9,111.9 L764.4,111.5 L766.0,111.0 L767.6,110.5 L769.1,110.1 L770.7,109.7 L772.3,109.3 L773.9,108.9 L775.5,108.5 L777.1,108.1 L778.7,107.8 L780.3,107.4 L781.9,107.1 L783.5,106.8 L785.1,106.4 L786.7,106.1 L788.3,105.9 L790.0,105.6 L791.6,105.3 L793.2,105.1 L794.8,104.8 L796.5,104.6 L798.1,104.3 L799.7,104.1 L801.4,103.9 L803.0,103.7 L804.6,103.5 L806.3,103.3 L807.9,103.1 L809.6,103.0 L811.2,102.8 L812.9,102.7 L814.5,102.5 L816.2,102.4 L817.8,102.2 L819.5,102.1 L821.1,101.9 L822.8,101.8 L824.5,101.7 L826.1,101.6 L827.8,101.5 L829.4,101.4 L831.1,101.3 L832.8,101.2 L834.4,101.1 L836.1,101.0 L837.7,100.9 L839.4,100.8 L841.1,100.7 L842.7,100.6 L844.4,100.5 L846.0,100.4 L847.7,100.4 L849.3,100.3 L851.0,100.2 L852.7,100.1 L854.3,100.0 L856.0,100.0 L857.6,99.9 L859.3,99.8 L860.9,99.8 L862.6,99.7 L864.2,99.7 L865.9,99.6 L867.5,99.6 L869.2,99.5 L870.8,99.5 L872.5,99.4 L874.1,99.4 L875.8,99.4 L877.4,99.3 L879.1,99.3 L880.7,99.3 L882.4,99.3 L884.0,99.3 L885.7,99.3 L887.3,99.3 L889.0,99.3 L890.6,99.3 L892.2,99.4 L893.9,99.4 L895.5,99.4 L897.2,99.5 L898.8,99.5 L900.5,99.6 L902.1,99.7 L903.7,99.7 L905.4,99.8 L907.0,99.9 L908.6,100.0 L910.3,100.1 L911.9,100.2 L913.5,100.4 L915.2,100.5 L916.8,100.6 L918.4,100.8 L920.1,101.0 L921.7,101.1 L923.3,101.3 L925.0,101.5 L926.6,101.7 L928.2,101.9 L929.9,102.1 L931.5,102.4 L933.1,102.6 L934.7,102.9 L936.4,103.1 L938.0,103.4 L939.6,103.7 L941.2,104.0 L942.9,104.3 L944.5,104.6 L946.1,105.0 L947.7,105.3 L949.3,105.7 L950.9,106.1 L952.6,106.4 L954.2,106.8 L955.8,107.3 C958.7,108.2 960.3,108.5 962.9,109.9 C965.0,111.0 965.9,112.0 967.6,113.7 C968.9,115.0 969.7,115.8 970.5,117.4 C971.4,119.2 971.4,120.3 971.9,122.2 C972.3,124.1 972.3,125.1 972.8,126.9 C973.4,129.2 974.1,130.3 974.7,132.6 C975.8,136.7 976.3,138.8 977.1,143.0 C977.8,146.6 978.1,148.4 978.6,152.0 C980.0,163.0 980.6,168.6 981.9,179.6 C982.8,187.2 983.6,191.0 984.3,198.7 C985.6,211.9 985.9,218.6 987.0,231.8" stroke="#e87474" stroke-width="1.1"/>
</g>
<circle cx="582.7" cy="83.6" r="1.1" fill="#a8c4ee" fill-opacity="0.5"/>
<circle cx="708.6" cy="110.8" r="1.1" fill="#a8c4ee" fill-opacity="0.5"/>
<circle cx="817.7" cy="160.6" r="1.1" fill="#a8c4ee" fill-opacity="0.5"/>
<circle cx="841.4" cy="178.5" r="1.1" fill="#a8c4ee" fill-opacity="0.5"/>
<circle cx="866.0" cy="198.2" r="1.1" fill="#a8c4ee" fill-opacity="0.5"/>
<circle cx="883.4" cy="212.7" r="1.1" fill="#a8c4ee" fill-opacity="0.5"/>
<circle cx="961.8" cy="261.4" r="1.1" fill="#a8c4ee" fill-opacity="0.5"/>
<circle cx="224.9" cy="541.3" r="1.1" fill="#a8c4ee" fill-opacity="0.5"/>
<circle cx="280.4" cy="475.1" r="1.1" fill="#a8c4ee" fill-opacity="0.5"/>
<circle cx="776.9" cy="47.6" r="1.1" fill="#a8c4ee" fill-opacity="0.5"/>
<circle cx="805.3" cy="47.3" r="1.1" fill="#a8c4ee" fill-opacity="0.5"/>
<circle cx="847.8" cy="48.4" r="1.1" fill="#a8c4ee" fill-opacity="0.5"/>
<circle cx="980.2" cy="125.0" r="1.1" fill="#a8c4ee" fill-opacity="0.5"/>
<circle cx="195.0" cy="403.3" r="1.1" fill="#ffb0b0" fill-opacity="0.5"/>
<circle cx="245.4" cy="346.5" r="1.1" fill="#ffb0b0" fill-opacity="0.5"/>
<circle cx="293.9" cy="269.5" r="1.1" fill="#ffb0b0" fill-opacity="0.5"/>
<circle cx="342.8" cy="211.2" r="1.1" fill="#ffb0b0" fill-opacity="0.5"/>
<circle cx="494.4" cy="170.8" r="1.1" fill="#ffb0b0" fill-opacity="0.5"/>
<circle cx="587.8" cy="159.7" r="1.1" fill="#ffb0b0" fill-opacity="0.5"/>
<circle cx="644.0" cy="167.0" r="1.1" fill="#ffb0b0" fill-opacity="0.5"/>
<circle cx="684.1" cy="179.9" r="1.1" fill="#ffb0b0" fill-opacity="0.5"/>
<circle cx="753.0" cy="213.2" r="1.1" fill="#ffb0b0" fill-opacity="0.5"/>
<circle cx="824.2" cy="252.1" r="1.1" fill="#ffb0b0" fill-opacity="0.5"/>
<circle cx="912.4" cy="289.6" r="1.1" fill="#ffb0b0" fill-opacity="0.5"/>
<circle cx="932.4" cy="300.6" r="1.1" fill="#ffb0b0" fill-opacity="0.5"/>
<circle cx="950.6" cy="311.4" r="1.1" fill="#ffb0b0" fill-opacity="0.5"/>
<circle cx="969.1" cy="321.5" r="1.1" fill="#ffb0b0" fill-opacity="0.5"/>
<circle cx="986.9" cy="381.0" r="1.1" fill="#ffb0b0" fill-opacity="0.5"/>
<circle cx="171.6" cy="590.7" r="1.1" fill="#ffb0b0" fill-opacity="0.5"/>
<circle cx="194.6" cy="574.7" r="1.1" fill="#ffb0b0" fill-opacity="0.5"/>
<circle cx="252.0" cy="527.8" r="1.1" fill="#ffb0b0" fill-opacity="0.5"/>
<circle cx="309.2" cy="466.3" r="1.1" fill="#ffb0b0" fill-opacity="0.5"/>
<circle cx="355.3" cy="412.4" r="1.1" fill="#ffb0b0" fill-opacity="0.5"/>
<circle cx="398.7" cy="367.4" r="1.1" fill="#ffb0b0" fill-opacity="0.5"/>
<circle cx="588.5" cy="222.5" r="1.1" fill="#ffb0b0" fill-opacity="0.5"/>
<circle cx="629.3" cy="191.6" r="1.1" fill="#ffb0b0" fill-opacity="0.5"/>
<circle cx="669.0" cy="161.8" r="1.1" fill="#ffb0b0" fill-opacity="0.5"/>
<circle cx="707.6" cy="136.7" r="1.1" fill="#ffb0b0" fill-opacity="0.5"/>
<circle cx="756.6" cy="113.9" r="1.1" fill="#ffb0b0" fill-opacity="0.5"/>
<circle cx="772.3" cy="109.3" r="1.1" fill="#ffb0b0" fill-opacity="0.5"/>
<circle cx="807.9" cy="103.1" r="1.1" fill="#ffb0b0" fill-opacity="0.5"/>
<circle cx="942.9" cy="104.3" r="1.1" fill="#ffb0b0" fill-opacity="0.5"/>
<circle cx="962.9" cy="109.9" r="1.1" fill="#ffb0b0" fill-opacity="0.5"/>
<circle cx="972.8" cy="126.9" r="1.1" fill="#ffb0b0" fill-opacity="0.5"/>
<circle cx="987.0" cy="231.8" r="1.1" fill="#ffb0b0" fill-opacity="0.5"/>
</svg><svg width="1100" height="740" viewBox="0 0 1100 740" style="will-change:transform">
<g font-size="11" fill="#9c9c9c" lengthAdjust="spacingAndGlyphs">
<text x="54.8" y="13.9" text-anchor="end" textLength="20.1" lengthAdjust="spacingAndGlyphs">600</text>
<text x="54.8" y="70.0" text-anchor="end" textLength="20.1" lengthAdjust="spacingAndGlyphs">550</text>
<text x="54.8" y="126.2" text-anchor="end" textLength="20.1" lengthAdjust="spacingAndGlyphs">500</text>
<text x="54.8" y="182.3" text-anchor="end" textLength="20.1" lengthAdjust="spacingAndGlyphs">450</text>
<text x="54.8" y="238.5" text-anchor="end" textLength="20.1" lengthAdjust="spacingAndGlyphs">400</text>
<text x="54.8" y="294.6" text-anchor="end" textLength="20.1" lengthAdjust="spacingAndGlyphs">350</text>
<text x="54.8" y="350.8" text-anchor="end" textLength="20.1" lengthAdjust="spacingAndGlyphs">300</text>
<text x="54.8" y="406.9" text-anchor="end" textLength="20.1" lengthAdjust="spacingAndGlyphs">250</text>
<text x="54.8" y="463.1" text-anchor="end" textLength="20.1" lengthAdjust="spacingAndGlyphs">200</text>
<text x="54.8" y="519.2" text-anchor="end" textLength="20.1" lengthAdjust="spacingAndGlyphs">150</text>
<text x="54.8" y="575.4" text-anchor="end" textLength="20.1" lengthAdjust="spacingAndGlyphs">100</text>
<text x="54.8" y="631.5" text-anchor="end" textLength="13.4" lengthAdjust="spacingAndGlyphs">50</text>
<text x="54.8" y="687.7" text-anchor="end" textLength="6.7" lengthAdjust="spacingAndGlyphs">0</text>
<text x="69.3" y="702" text-anchor="middle" textLength="26.8" lengthAdjust="spacingAndGlyphs">1000</text>
<text x="149.3" y="702" text-anchor="middle" textLength="26.8" lengthAdjust="spacingAndGlyphs">1500</text>
<text x="229.3" y="702" text-anchor="middle" textLength="26.8" lengthAdjust="spacingAndGlyphs">2000</text>
<text x="309.3" y="702" text-anchor="middle" textLength="26.8" lengthAdjust="spacingAndGlyphs">2500</text>
<text x="389.3" y="702" text-anchor="middle" textLength="26.8" lengthAdjust="spacingAndGlyphs">3000</text>
<text x="469.3" y="702" text-anchor="middle" textLength="26.8" lengthAdjust="spacingAndGlyphs">3500</text>
<text x="549.3" y="702" text-anchor="middle" textLength="26.8" lengthAdjust="spacingAndGlyphs">4000</text>
<text x="629.3" y="702" text-anchor="middle" textLength="26.8" lengthAdjust="spacingAndGlyphs">4500</text>
<text x="709.3" y="702" text-anchor="middle" textLength="26.8" lengthAdjust="spacingAndGlyphs">5000</text>
<text x="789.3" y="702" text-anchor="middle" textLength="26.8" lengthAdjust="spacingAndGlyphs">5500</text>
<text x="869.3" y="702" text-anchor="middle" textLength="26.8" lengthAdjust="spacingAndGlyphs">6000</text>
<text x="949.3" y="702" text-anchor="middle" textLength="26.8" lengthAdjust="spacingAndGlyphs">6500</text>
<text x="1030.3" y="702" text-anchor="middle" textLength="26.8" lengthAdjust="spacingAndGlyphs">7000</text>
<text x="1045.4" y="14.1" textLength="20.1" lengthAdjust="spacingAndGlyphs">900</text>
<text x="1045.4" y="89.0" textLength="20.1" lengthAdjust="spacingAndGlyphs">800</text>
<text x="1045.4" y="163.9" textLength="20.1" lengthAdjust="spacingAndGlyphs">700</text>
<text x="1045.4" y="238.8" textLength="20.1" lengthAdjust="spacingAndGlyphs">600</text>
<text x="1045.4" y="313.7" textLength="20.1" lengthAdjust="spacingAndGlyphs">500</text>
<text x="1045.4" y="388.6" textLength="20.1" lengthAdjust="spacingAndGlyphs">400</text>
<text x="1045.4" y="463.5" textLength="20.1" lengthAdjust="spacingAndGlyphs">300</text>
<text x="1045.4" y="538.4" textLength="20.1" lengthAdjust="spacingAndGlyphs">200</text>
<text x="1045.4" y="613.3" textLength="20.1" lengthAdjust="spacingAndGlyphs">100</text>
<text x="1045.4" y="688.2" textLength="6.7" lengthAdjust="spacingAndGlyphs">0</text>
</g>
<text x="0" y="0" font-size="11" fill="#727272" text-anchor="middle" textLength="130" lengthAdjust="spacingAndGlyphs" transform="translate(25,347) rotate(-90)">EEC Engine power (HP)</text>
<text x="0" y="0" font-size="11" fill="#727272" text-anchor="middle" textLength="97" lengthAdjust="spacingAndGlyphs" transform="translate(1075.5,347.5) rotate(90)">EEC Torque (Nm)</text>
<text x="550" y="721.9" font-size="12.4" fill="#8e8e8e" text-anchor="middle" textLength="24" lengthAdjust="spacingAndGlyphs">RPM</text>
</svg><svg width="1100" height="740" viewBox="0 0 1100 740">
<rect x="282" y="185" width="536" height="369.5" fill="#000" fill-opacity="0.3"/>
<g opacity="0.5">
<rect x="461" y="237" width="168" height="167.2" fill="#eeeeee"/>
<g fill="none" stroke="#383838" stroke-width="1.5" stroke-linejoin="miter">
<polyline points="478.1,237 478.1,248.6 497.5,267.1"/>
<polyline points="485.4,237 485.4,245.6 506.7,245.6 520,258.3 520,266.6"/>
<polyline points="491.8,242.3 517.6,242.3 528.3,253.5 528.3,267.1"/>
<polyline points="531,237 535.3,243.1 535.3,266.6"/>
<polyline points="542.6,237 542.6,264.2"/>
<polyline points="550.7,237 550.7,264.2"/>
<polyline points="564.9,237 564.9,267.5"/>
<polyline points="580.1,237 574.7,243.1 574.7,266.8"/>
<polyline points="598.4,237 584.4,252.2 584.4,266.8"/>
<polyline points="593.5,237 585,246.8"/>
<polyline points="609.3,237 603.9,244.3"/>
<polyline points="628.8,239.5 619,239.5 610.3,249.6"/>
<polyline points="599,256.9 625.2,256.9 628.8,260.2"/>
<polyline points="616.9,265.4 628.8,265.4"/>
<polyline points="605.7,272.3 628.8,272.3"/>
<polyline points="600.2,285.3 617.9,285.3 628.8,275.4"/>
<polyline points="599.6,298.7 628.8,298.7"/>
<polyline points="618.5,308 628.8,308"/>
<polyline points="599.6,326.7 615.4,326.7 619.7,320.6 628.8,320.6"/>
<polyline points="599.6,334.5 617.9,334.5 628.8,342.2"/>
<polyline points="599.6,342.2 617.9,342.2 628.8,349.5"/>
<polyline points="599.6,355.9 619.7,355.9 628.8,363.4"/>
<polyline points="598.4,366.1 617.9,366.1 628.8,375.6"/>
<polyline points="613.6,378.7 628.8,392.6"/>
<polyline points="591.7,378.3 591.7,386.6 604.5,400.6 625.2,400.6 625.2,404.2"/>
<polyline points="585,381.7 585,395.1 592.3,404.2"/>
<polyline points="575.6,378.4 575.6,404.2"/>
<polyline points="567.4,378.4 567.4,404.2"/>
<polyline points="560.1,378.4 560.1,404.2"/>
<polyline points="546.7,378.4 546.7,404.2"/>
<polyline points="541,378 541,404.2"/>
<polyline points="461,249.8 492.7,280"/>
<polyline points="461,274.1 475.6,274.1 492.1,290.2"/>
<polyline points="461,279.6 474.4,279.6 492.7,296.7"/>
<polyline points="461,294.2 478.1,294.2 486.2,302.4"/>
<polyline points="461,304 476.2,304 486,312.5"/>
<polyline points="461,316.7 472.4,316.7"/>
<polyline points="461,325.5 492.7,325.5"/>
<polyline points="461,333 465.3,337.7 490.8,337.7"/>
<polyline points="461,359.2 473.8,347.4 492.7,347.4"/>
<polyline points="461,368.1 470.2,368.1"/>
<polyline points="461,378.7 474.4,378.7 491.1,362.2"/>
<polyline points="461,384.1 475,384.1 491.5,368.3"/>
<polyline points="477.7,398.5 472.6,404.2"/>
<polyline points="502,380.7 502,395.7 494.5,404.2"/>
<polyline points="510.1,378 510.1,392.4 498.8,404.2"/>
<polyline points="520,378.7 520,404.2"/>
<polyline points="527.3,378.7 527.3,404.2"/>
<polyline points="540.1,378 540.1,404.2"/>
<rect x="497.5" y="273" width="95.4" height="96.5" rx="6" stroke-width="1.8"/>
<rect x="516.2" y="290.6" width="59.1" height="60.6" rx="5" stroke-width="1.6"/>
</g>
<g fill="#383838">
<circle cx="497.5" cy="267.1" r="3"/>
<circle cx="520" cy="266.6" r="1.6"/>
<circle cx="491.8" cy="242.3" r="1.8"/>
<circle cx="528.3" cy="267.1" r="2"/>
<circle cx="535.3" cy="266.6" r="2"/>
<circle cx="542.6" cy="264.2" r="2"/>
<circle cx="550.7" cy="264.2" r="2"/>
<circle cx="564.9" cy="267.5" r="3"/>
<circle cx="574.7" cy="266.8" r="2"/>
<circle cx="584.4" cy="266.8" r="2"/>
<circle cx="585" cy="246.8" r="2"/>
<circle cx="603.9" cy="244.3" r="2"/>
<circle cx="610.3" cy="249.6" r="3"/>
<circle cx="599" cy="256.9" r="2"/>
<circle cx="616.9" cy="265.4" r="2"/>
<circle cx="605.7" cy="272.3" r="2"/>
<circle cx="600.2" cy="285.3" r="2"/>
<circle cx="599.6" cy="298.7" r="2"/>
<circle cx="618.5" cy="308" r="2.5"/>
<circle cx="599.6" cy="326.7" r="2"/>
<circle cx="599.6" cy="334.5" r="2"/>
<circle cx="599.6" cy="342.2" r="2"/>
<circle cx="599.6" cy="355.9" r="2"/>
<circle cx="598.4" cy="366.1" r="3"/>
<circle cx="613.6" cy="378.7" r="3.5"/>
<circle cx="591.7" cy="378.3" r="2"/>
<circle cx="585" cy="381.7" r="2"/>
<circle cx="575.6" cy="378.4" r="2"/>
<circle cx="567.4" cy="378.4" r="2"/>
<circle cx="560.1" cy="378.4" r="2"/>
<circle cx="551.9" cy="399.9" r="2"/>
<circle cx="546.7" cy="378.4" r="2"/>
<circle cx="541" cy="378" r="3"/>
<circle cx="492.7" cy="280" r="1.3"/>
<circle cx="492.1" cy="290.2" r="2"/>
<circle cx="492.7" cy="296.7" r="2"/>
<circle cx="486.2" cy="302.4" r="2"/>
<circle cx="486" cy="312.5" r="2"/>
<circle cx="472.4" cy="316.7" r="2"/>
<circle cx="492.7" cy="325.5" r="2"/>
<circle cx="490.8" cy="337.7" r="2"/>
<circle cx="492.7" cy="347.4" r="2"/>
<circle cx="470.2" cy="368.1" r="2"/>
<circle cx="491.1" cy="362.2" r="2"/>
<circle cx="491.5" cy="368.3" r="2"/>
<circle cx="477.7" cy="398.5" r="2"/>
<circle cx="489.4" cy="400.6" r="3"/>
<circle cx="502" cy="380.7" r="2"/>
<circle cx="510.1" cy="378" r="3"/>
<circle cx="520" cy="378.7" r="2"/>
<circle cx="527.3" cy="378.7" r="2"/>
<circle cx="540.1" cy="378" r="3"/>
</g></g>
<clipPath id="lc"><rect x="461" y="237" width="168" height="167.2"/></clipPath>
<g clip-path="url(#lc)" fill="none" stroke-linecap="round" stroke-linejoin="round">
<path d="M149.6,605.2 L151.0,604.3 L152.4,603.4 L153.8,602.5 L155.1,601.6 L156.5,600.7 L157.9,599.8 L159.3,598.9 L160.7,598.0 L162.0,597.1 L163.4,596.2 L164.8,595.3 L166.1,594.4 L167.5,593.5 L168.9,592.6 L170.3,591.7 L171.6,590.7 L173.0,589.8 L174.3,588.9 L175.7,587.9 L177.1,587.0 L178.4,586.1 L179.8,585.1 L181.1,584.2 L182.5,583.3 L183.8,582.3 L185.2,581.4 L186.5,580.4 L187.9,579.5 L189.2,578.5 L190.6,577.6 L191.9,576.6 L193.2,575.6 L194.6,574.7 L195.9,573.7 L197.3,572.7 L198.6,571.7 L199.9,570.8 L201.2,569.8 L202.6,568.8 L203.9,567.8 L205.2,566.8 L206.5,565.8 L207.8,564.8 L209.1,563.8 L210.4,562.8 L211.8,561.8 L213.1,560.8 L214.4,559.8 L215.7,558.8 L217.0,557.8 L218.2,556.7 L219.5,555.7 L220.8,554.7 L222.1,553.7 L223.4,552.6 L224.7,551.6 L225.9,550.5 L227.2,549.5 L228.5,548.4 L229.8,547.4 L231.0,546.3 L232.3,545.3 L233.5,544.2 L234.8,543.1 L236.0,542.1 L237.3,541.0 L238.5,539.9 L239.8,538.8 L241.0,537.8 L242.3,536.7 L243.5,535.6 L244.7,534.5 L245.9,533.4 L247.2,532.3 L248.4,531.2 L249.6,530.1 L250.8,529.0 L252.0,527.8 L253.2,526.7 L254.4,525.6 L255.6,524.5 L256.8,523.3 L258.0,522.2 L259.2,521.0 L260.4,519.9 L261.5,518.8 L262.7,517.6 L263.9,516.4 L265.0,515.3 L266.2,514.1 L267.4,512.9 L268.5,511.8 L269.7,510.6 L270.8,509.4 L271.9,508.2 L273.1,507.0 L274.2,505.8 L275.3,504.7 L276.5,503.5 L277.6,502.2 L278.7,501.0 L279.8,499.8 L281.0,498.6 L282.1,497.4 L283.2,496.2 L284.3,495.0 L285.4,493.8 L286.5,492.5 L287.6,491.3 L288.7,490.1 L289.8,488.8 L290.9,487.6 L292.0,486.4 L293.0,485.1 L294.1,483.9 L295.2,482.6 L296.3,481.4 L297.4,480.2 L298.5,478.9 L299.5,477.7 L300.6,476.4 L301.7,475.1 L302.8,473.9 L303.8,472.6 L304.9,471.4 L306.0,470.1 L307.0,468.9 L308.1,467.6 L309.2,466.3 L310.2,465.1 L311.3,463.8 L312.4,462.6 L313.4,461.3 L314.5,460.0 L315.6,458.8 L316.6,457.5 L317.7,456.2 L318.7,455.0 L319.8,453.7 L320.9,452.4 L321.9,451.2 L323.0,449.9 L324.1,448.6 L325.1,447.4 L326.2,446.1 L327.3,444.9 L328.3,443.6 L329.4,442.3 L330.4,441.1 L331.5,439.8 L332.6,438.5 L333.7,437.3 L334.7,436.0 L335.8,434.8 L336.9,433.5 L337.9,432.3 L339.0,431.0 L340.1,429.8 L341.2,428.5 L342.2,427.3 L343.3,426.0 L344.4,424.8 L345.5,423.5 L346.6,422.3 L347.7,421.0 L348.8,419.8 L349.8,418.6 L350.9,417.3 L352.0,416.1 L353.1,414.9 L354.2,413.6 L355.3,412.4 L356.4,411.2 L357.5,410.0 L358.6,408.7 L359.7,407.5 L360.9,406.3 L362.0,405.1 L363.1,403.9 L364.2,402.7 L365.3,401.5 L366.4,400.3 L367.6,399.0 L368.7,397.8 L369.8,396.6 L370.9,395.4 L372.1,394.2 L373.2,393.1 L374.3,391.9 L375.5,390.7 L376.6,389.5 L377.7,388.3 L378.9,387.1 L380.0,385.9 L381.2,384.8 L382.3,383.6 L383.5,382.4 L384.6,381.2 L385.8,380.1 L386.9,378.9 L388.1,377.7 L389.3,376.6 L390.4,375.4 L391.6,374.3 L392.8,373.1 L393.9,372.0 L395.1,370.8 L396.3,369.7 L397.5,368.5 L398.7,367.4 L399.9,366.2 L401.0,365.1 L402.2,364.0 L403.4,362.8 L404.6,361.7 L405.8,360.6 L407.0,359.5 L408.2,358.3 L409.4,357.2 L410.6,356.1 L411.9,355.0 L413.1,353.9 L414.3,352.8 L415.5,351.7 L416.7,350.6 L418.0,349.5 L419.2,348.4 L420.4,347.3 L421.7,346.2 L422.9,345.1 L424.1,344.1 L425.4,343.0 L426.6,341.9 L427.9,340.8 L429.1,339.8 L430.4,338.7 L431.7,337.7 L432.9,336.6 L434.2,335.5 L435.5,334.5 L436.7,333.4 L438.0,332.4 L439.3,331.4 L440.6,330.3 L441.8,329.3 L443.1,328.2 L444.4,327.2 L445.7,326.2 L447.0,325.2 L448.3,324.1 L449.6,323.1 L450.9,322.1 L452.2,321.1 L453.5,320.1 L454.8,319.1 L456.1,318.0 L457.4,317.0 L458.7,316.0 L460.0,315.0 L461.4,314.0 L462.7,313.0 L464.0,312.0 L465.3,311.0 L466.6,310.1 L468.0,309.1 L469.3,308.1 L470.6,307.1 L471.9,306.1 L473.3,305.1 L474.6,304.1 L475.9,303.2 L477.3,302.2 L478.6,301.2 L479.9,300.2 L481.3,299.3 L482.6,298.3 L484.0,297.3 L485.3,296.3 L486.6,295.4 L488.0,294.4 L489.3,293.4 L490.7,292.5 L492.0,291.5 L493.4,290.5 L494.7,289.6 L496.0,288.6 L497.4,287.7 L498.7,286.7 L500.1,285.7 L501.4,284.8 L502.8,283.8 L504.1,282.9 L505.5,281.9 L506.8,281.0 L508.2,280.0 L509.5,279.1 L510.9,278.1 L512.2,277.1 L513.6,276.2 L514.9,275.2 L516.2,274.3 L517.6,273.3 L518.9,272.4 L520.3,271.4 L521.6,270.5 L523.0,269.5 L524.3,268.6 L525.7,267.6 L527.0,266.7 L528.4,265.7 L529.7,264.8 L531.0,263.8 L532.4,262.9 L533.7,261.9 L535.1,261.0 L536.4,260.0 L537.8,259.1 L539.1,258.1 L540.4,257.1 L541.8,256.2 L543.1,255.2 L544.5,254.3 L545.8,253.3 L547.2,252.4 L548.5,251.4 L549.8,250.5 L551.2,249.5 L552.5,248.6 L553.9,247.6 L555.2,246.6 L556.5,245.7 L557.9,244.7 L559.2,243.8 L560.5,242.8 L561.9,241.9 L563.2,240.9 L564.5,239.9 L565.9,239.0 L567.2,238.0 L568.5,237.0 L569.9,236.1 L571.2,235.1 L572.5,234.2 L573.9,233.2 L575.2,232.2 L576.5,231.3 L577.9,230.3 L579.2,229.3 L580.5,228.3 L581.9,227.4 L583.2,226.4 L584.5,225.4 L585.8,224.4 L587.2,223.5 L588.5,222.5 L589.8,221.5 L591.1,220.5 L592.5,219.5 L593.8,218.6 L595.1,217.6 L596.4,216.6 L597.7,215.6 L599.1,214.6 L600.4,213.6 L601.7,212.6 L603.0,211.6 L604.3,210.7 L605.7,209.7 L607.0,208.7 L608.3,207.7 L609.6,206.7 L610.9,205.7 L612.2,204.7 L613.5,203.7 L614.8,202.6 L616.2,201.6 L617.5,200.6 L618.8,199.6 L620.1,198.6 L621.4,197.6 L622.7,196.6 L624.0,195.6 L625.3,194.6 L626.6,193.6 L627.9,192.6 L629.3,191.6 L630.6,190.5 L631.9,189.5 L633.2,188.5 L634.5,187.5 L635.8,186.5 L637.1,185.5 L638.4,184.5 L639.8,183.5 L641.1,182.5 L642.4,181.5 L643.7,180.5 L645.0,179.5 L646.3,178.5 L647.7,177.5 L649.0,176.5 L650.3,175.5 L651.6,174.5 L652.9,173.5 L654.3,172.5 L655.6,171.5 L656.9,170.6 L658.3,169.6 L659.6,168.6 L660.9,167.6 L662.3,166.6 L663.6,165.7 L664.9,164.7 L666.3,163.7 L667.6,162.8 L669.0,161.8 L670.3,160.9 L671.6,159.9 L673.0,159.0 L674.3,158.0 L675.7,157.1 L677.1,156.1 L678.4,155.2 L679.8,154.3 L681.1,153.4 L682.5,152.4 L683.9,151.5 L685.2,150.6 L686.6,149.7 L688.0,148.8 L689.4,147.9 L690.8,147.0 L692.1,146.1 L693.5,145.2 L694.9,144.4 L696.3,143.5 L697.7,142.6 L699.1,141.8 L700.5,140.9 L701.9,140.1 L703.3,139.2 L704.8,138.4 L706.2,137.5 L707.6,136.7 L709.0,135.9 L710.5,135.1 L711.9,134.3 L713.3,133.5 L714.8,132.7 L716.2,131.9 L717.7,131.1 L719.1,130.4 L720.6,129.6 L722.0,128.8 L723.5,128.1 L725.0,127.3 L726.4,126.6 L727.9,125.9 L729.4,125.2 L730.9,124.5 L732.4,123.8 L733.8,123.1 L735.3,122.4 L736.8,121.7 L738.3,121.1 L739.8,120.4 L741.4,119.8 L742.9,119.1 L744.4,118.5 L745.9,117.9 L747.4,117.3 L748.9,116.7 L750.5,116.1 L752.0,115.6 L753.6,115.0 L755.1,114.5 L756.6,113.9 L758.2,113.4 L759.7,112.9 L761.3,112.4 L762.9,111.9 L764.4,111.5 L766.0,111.0 L767.6,110.5 L769.1,110.1 L770.7,109.7 L772.3,109.3 L773.9,108.9 L775.5,108.5 L777.1,108.1 L778.7,107.8 L780.3,107.4 L781.9,107.1 L783.5,106.8 L785.1,106.4 L786.7,106.1 L788.3,105.9 L790.0,105.6 L791.6,105.3 L793.2,105.1 L794.8,104.8 L796.5,104.6 L798.1,104.3 L799.7,104.1 L801.4,103.9 L803.0,103.7 L804.6,103.5 L806.3,103.3 L807.9,103.1 L809.6,103.0 L811.2,102.8 L812.9,102.7 L814.5,102.5 L816.2,102.4 L817.8,102.2 L819.5,102.1 L821.1,101.9 L822.8,101.8 L824.5,101.7 L826.1,101.6 L827.8,101.5 L829.4,101.4 L831.1,101.3 L832.8,101.2 L834.4,101.1 L836.1,101.0 L837.7,100.9 L839.4,100.8 L841.1,100.7 L842.7,100.6 L844.4,100.5 L846.0,100.4 L847.7,100.4 L849.3,100.3 L851.0,100.2 L852.7,100.1 L854.3,100.0 L856.0,100.0 L857.6,99.9 L859.3,99.8 L860.9,99.8 L862.6,99.7 L864.2,99.7 L865.9,99.6 L867.5,99.6 L869.2,99.5 L870.8,99.5 L872.5,99.4 L874.1,99.4 L875.8,99.4 L877.4,99.3 L879.1,99.3 L880.7,99.3 L882.4,99.3 L884.0,99.3 L885.7,99.3 L887.3,99.3 L889.0,99.3 L890.6,99.3 L892.2,99.4 L893.9,99.4 L895.5,99.4 L897.2,99.5 L898.8,99.5 L900.5,99.6 L902.1,99.7 L903.7,99.7 L905.4,99.8 L907.0,99.9 L908.6,100.0 L910.3,100.1 L911.9,100.2 L913.5,100.4 L915.2,100.5 L916.8,100.6 L918.4,100.8 L920.1,101.0 L921.7,101.1 L923.3,101.3 L925.0,101.5 L926.6,101.7 L928.2,101.9 L929.9,102.1 L931.5,102.4 L933.1,102.6 L934.7,102.9 L936.4,103.1 L938.0,103.4 L939.6,103.7 L941.2,104.0 L942.9,104.3 L944.5,104.6 L946.1,105.0 L947.7,105.3 L949.3,105.7 L950.9,106.1 L952.6,106.4 L954.2,106.8 L955.8,107.3 C958.7,108.2 960.3,108.5 962.9,109.9 C965.0,111.0 965.9,112.0 967.6,113.7 C968.9,115.0 969.7,115.8 970.5,117.4 C971.4,119.2 971.4,120.3 971.9,122.2 C972.3,124.1 972.3,125.1 972.8,126.9 C973.4,129.2 974.1,130.3 974.7,132.6 C975.8,136.7 976.3,138.8 977.1,143.0 C977.8,146.6 978.1,148.4 978.6,152.0 C980.0,163.0 980.6,168.6 981.9,179.6 C982.8,187.2 983.6,191.0 984.3,198.7 C985.6,211.9 985.9,218.6 987.0,231.8" stroke="#d01818" stroke-width="8" stroke-opacity="0.22" filter="url(#gri)"/>
<path d="M149.6,605.2 L151.0,604.3 L152.4,603.4 L153.8,602.5 L155.1,601.6 L156.5,600.7 L157.9,599.8 L159.3,598.9 L160.7,598.0 L162.0,597.1 L163.4,596.2 L164.8,595.3 L166.1,594.4 L167.5,593.5 L168.9,592.6 L170.3,591.7 L171.6,590.7 L173.0,589.8 L174.3,588.9 L175.7,587.9 L177.1,587.0 L178.4,586.1 L179.8,585.1 L181.1,584.2 L182.5,583.3 L183.8,582.3 L185.2,581.4 L186.5,580.4 L187.9,579.5 L189.2,578.5 L190.6,577.6 L191.9,576.6 L193.2,575.6 L194.6,574.7 L195.9,573.7 L197.3,572.7 L198.6,571.7 L199.9,570.8 L201.2,569.8 L202.6,568.8 L203.9,567.8 L205.2,566.8 L206.5,565.8 L207.8,564.8 L209.1,563.8 L210.4,562.8 L211.8,561.8 L213.1,560.8 L214.4,559.8 L215.7,558.8 L217.0,557.8 L218.2,556.7 L219.5,555.7 L220.8,554.7 L222.1,553.7 L223.4,552.6 L224.7,551.6 L225.9,550.5 L227.2,549.5 L228.5,548.4 L229.8,547.4 L231.0,546.3 L232.3,545.3 L233.5,544.2 L234.8,543.1 L236.0,542.1 L237.3,541.0 L238.5,539.9 L239.8,538.8 L241.0,537.8 L242.3,536.7 L243.5,535.6 L244.7,534.5 L245.9,533.4 L247.2,532.3 L248.4,531.2 L249.6,530.1 L250.8,529.0 L252.0,527.8 L253.2,526.7 L254.4,525.6 L255.6,524.5 L256.8,523.3 L258.0,522.2 L259.2,521.0 L260.4,519.9 L261.5,518.8 L262.7,517.6 L263.9,516.4 L265.0,515.3 L266.2,514.1 L267.4,512.9 L268.5,511.8 L269.7,510.6 L270.8,509.4 L271.9,508.2 L273.1,507.0 L274.2,505.8 L275.3,504.7 L276.5,503.5 L277.6,502.2 L278.7,501.0 L279.8,499.8 L281.0,498.6 L282.1,497.4 L283.2,496.2 L284.3,495.0 L285.4,493.8 L286.5,492.5 L287.6,491.3 L288.7,490.1 L289.8,488.8 L290.9,487.6 L292.0,486.4 L293.0,485.1 L294.1,483.9 L295.2,482.6 L296.3,481.4 L297.4,480.2 L298.5,478.9 L299.5,477.7 L300.6,476.4 L301.7,475.1 L302.8,473.9 L303.8,472.6 L304.9,471.4 L306.0,470.1 L307.0,468.9 L308.1,467.6 L309.2,466.3 L310.2,465.1 L311.3,463.8 L312.4,462.6 L313.4,461.3 L314.5,460.0 L315.6,458.8 L316.6,457.5 L317.7,456.2 L318.7,455.0 L319.8,453.7 L320.9,452.4 L321.9,451.2 L323.0,449.9 L324.1,448.6 L325.1,447.4 L326.2,446.1 L327.3,444.9 L328.3,443.6 L329.4,442.3 L330.4,441.1 L331.5,439.8 L332.6,438.5 L333.7,437.3 L334.7,436.0 L335.8,434.8 L336.9,433.5 L337.9,432.3 L339.0,431.0 L340.1,429.8 L341.2,428.5 L342.2,427.3 L343.3,426.0 L344.4,424.8 L345.5,423.5 L346.6,422.3 L347.7,421.0 L348.8,419.8 L349.8,418.6 L350.9,417.3 L352.0,416.1 L353.1,414.9 L354.2,413.6 L355.3,412.4 L356.4,411.2 L357.5,410.0 L358.6,408.7 L359.7,407.5 L360.9,406.3 L362.0,405.1 L363.1,403.9 L364.2,402.7 L365.3,401.5 L366.4,400.3 L367.6,399.0 L368.7,397.8 L369.8,396.6 L370.9,395.4 L372.1,394.2 L373.2,393.1 L374.3,391.9 L375.5,390.7 L376.6,389.5 L377.7,388.3 L378.9,387.1 L380.0,385.9 L381.2,384.8 L382.3,383.6 L383.5,382.4 L384.6,381.2 L385.8,380.1 L386.9,378.9 L388.1,377.7 L389.3,376.6 L390.4,375.4 L391.6,374.3 L392.8,373.1 L393.9,372.0 L395.1,370.8 L396.3,369.7 L397.5,368.5 L398.7,367.4 L399.9,366.2 L401.0,365.1 L402.2,364.0 L403.4,362.8 L404.6,361.7 L405.8,360.6 L407.0,359.5 L408.2,358.3 L409.4,357.2 L410.6,356.1 L411.9,355.0 L413.1,353.9 L414.3,352.8 L415.5,351.7 L416.7,350.6 L418.0,349.5 L419.2,348.4 L420.4,347.3 L421.7,346.2 L422.9,345.1 L424.1,344.1 L425.4,343.0 L426.6,341.9 L427.9,340.8 L429.1,339.8 L430.4,338.7 L431.7,337.7 L432.9,336.6 L434.2,335.5 L435.5,334.5 L436.7,333.4 L438.0,332.4 L439.3,331.4 L440.6,330.3 L441.8,329.3 L443.1,328.2 L444.4,327.2 L445.7,326.2 L447.0,325.2 L448.3,324.1 L449.6,323.1 L450.9,322.1 L452.2,321.1 L453.5,320.1 L454.8,319.1 L456.1,318.0 L457.4,317.0 L458.7,316.0 L460.0,315.0 L461.4,314.0 L462.7,313.0 L464.0,312.0 L465.3,311.0 L466.6,310.1 L468.0,309.1 L469.3,308.1 L470.6,307.1 L471.9,306.1 L473.3,305.1 L474.6,304.1 L475.9,303.2 L477.3,302.2 L478.6,301.2 L479.9,300.2 L481.3,299.3 L482.6,298.3 L484.0,297.3 L485.3,296.3 L486.6,295.4 L488.0,294.4 L489.3,293.4 L490.7,292.5 L492.0,291.5 L493.4,290.5 L494.7,289.6 L496.0,288.6 L497.4,287.7 L498.7,286.7 L500.1,285.7 L501.4,284.8 L502.8,283.8 L504.1,282.9 L505.5,281.9 L506.8,281.0 L508.2,280.0 L509.5,279.1 L510.9,278.1 L512.2,277.1 L513.6,276.2 L514.9,275.2 L516.2,274.3 L517.6,273.3 L518.9,272.4 L520.3,271.4 L521.6,270.5 L523.0,269.5 L524.3,268.6 L525.7,267.6 L527.0,266.7 L528.4,265.7 L529.7,264.8 L531.0,263.8 L532.4,262.9 L533.7,261.9 L535.1,261.0 L536.4,260.0 L537.8,259.1 L539.1,258.1 L540.4,257.1 L541.8,256.2 L543.1,255.2 L544.5,254.3 L545.8,253.3 L547.2,252.4 L548.5,251.4 L549.8,250.5 L551.2,249.5 L552.5,248.6 L553.9,247.6 L555.2,246.6 L556.5,245.7 L557.9,244.7 L559.2,243.8 L560.5,242.8 L561.9,241.9 L563.2,240.9 L564.5,239.9 L565.9,239.0 L567.2,238.0 L568.5,237.0 L569.9,236.1 L571.2,235.1 L572.5,234.2 L573.9,233.2 L575.2,232.2 L576.5,231.3 L577.9,230.3 L579.2,229.3 L580.5,228.3 L581.9,227.4 L583.2,226.4 L584.5,225.4 L585.8,224.4 L587.2,223.5 L588.5,222.5 L589.8,221.5 L591.1,220.5 L592.5,219.5 L593.8,218.6 L595.1,217.6 L596.4,216.6 L597.7,215.6 L599.1,214.6 L600.4,213.6 L601.7,212.6 L603.0,211.6 L604.3,210.7 L605.7,209.7 L607.0,208.7 L608.3,207.7 L609.6,206.7 L610.9,205.7 L612.2,204.7 L613.5,203.7 L614.8,202.6 L616.2,201.6 L617.5,200.6 L618.8,199.6 L620.1,198.6 L621.4,197.6 L622.7,196.6 L624.0,195.6 L625.3,194.6 L626.6,193.6 L627.9,192.6 L629.3,191.6 L630.6,190.5 L631.9,189.5 L633.2,188.5 L634.5,187.5 L635.8,186.5 L637.1,185.5 L638.4,184.5 L639.8,183.5 L641.1,182.5 L642.4,181.5 L643.7,180.5 L645.0,179.5 L646.3,178.5 L647.7,177.5 L649.0,176.5 L650.3,175.5 L651.6,174.5 L652.9,173.5 L654.3,172.5 L655.6,171.5 L656.9,170.6 L658.3,169.6 L659.6,168.6 L660.9,167.6 L662.3,166.6 L663.6,165.7 L664.9,164.7 L666.3,163.7 L667.6,162.8 L669.0,161.8 L670.3,160.9 L671.6,159.9 L673.0,159.0 L674.3,158.0 L675.7,157.1 L677.1,156.1 L678.4,155.2 L679.8,154.3 L681.1,153.4 L682.5,152.4 L683.9,151.5 L685.2,150.6 L686.6,149.7 L688.0,148.8 L689.4,147.9 L690.8,147.0 L692.1,146.1 L693.5,145.2 L694.9,144.4 L696.3,143.5 L697.7,142.6 L699.1,141.8 L700.5,140.9 L701.9,140.1 L703.3,139.2 L704.8,138.4 L706.2,137.5 L707.6,136.7 L709.0,135.9 L710.5,135.1 L711.9,134.3 L713.3,133.5 L714.8,132.7 L716.2,131.9 L717.7,131.1 L719.1,130.4 L720.6,129.6 L722.0,128.8 L723.5,128.1 L725.0,127.3 L726.4,126.6 L727.9,125.9 L729.4,125.2 L730.9,124.5 L732.4,123.8 L733.8,123.1 L735.3,122.4 L736.8,121.7 L738.3,121.1 L739.8,120.4 L741.4,119.8 L742.9,119.1 L744.4,118.5 L745.9,117.9 L747.4,117.3 L748.9,116.7 L750.5,116.1 L752.0,115.6 L753.6,115.0 L755.1,114.5 L756.6,113.9 L758.2,113.4 L759.7,112.9 L761.3,112.4 L762.9,111.9 L764.4,111.5 L766.0,111.0 L767.6,110.5 L769.1,110.1 L770.7,109.7 L772.3,109.3 L773.9,108.9 L775.5,108.5 L777.1,108.1 L778.7,107.8 L780.3,107.4 L781.9,107.1 L783.5,106.8 L785.1,106.4 L786.7,106.1 L788.3,105.9 L790.0,105.6 L791.6,105.3 L793.2,105.1 L794.8,104.8 L796.5,104.6 L798.1,104.3 L799.7,104.1 L801.4,103.9 L803.0,103.7 L804.6,103.5 L806.3,103.3 L807.9,103.1 L809.6,103.0 L811.2,102.8 L812.9,102.7 L814.5,102.5 L816.2,102.4 L817.8,102.2 L819.5,102.1 L821.1,101.9 L822.8,101.8 L824.5,101.7 L826.1,101.6 L827.8,101.5 L829.4,101.4 L831.1,101.3 L832.8,101.2 L834.4,101.1 L836.1,101.0 L837.7,100.9 L839.4,100.8 L841.1,100.7 L842.7,100.6 L844.4,100.5 L846.0,100.4 L847.7,100.4 L849.3,100.3 L851.0,100.2 L852.7,100.1 L854.3,100.0 L856.0,100.0 L857.6,99.9 L859.3,99.8 L860.9,99.8 L862.6,99.7 L864.2,99.7 L865.9,99.6 L867.5,99.6 L869.2,99.5 L870.8,99.5 L872.5,99.4 L874.1,99.4 L875.8,99.4 L877.4,99.3 L879.1,99.3 L880.7,99.3 L882.4,99.3 L884.0,99.3 L885.7,99.3 L887.3,99.3 L889.0,99.3 L890.6,99.3 L892.2,99.4 L893.9,99.4 L895.5,99.4 L897.2,99.5 L898.8,99.5 L900.5,99.6 L902.1,99.7 L903.7,99.7 L905.4,99.8 L907.0,99.9 L908.6,100.0 L910.3,100.1 L911.9,100.2 L913.5,100.4 L915.2,100.5 L916.8,100.6 L918.4,100.8 L920.1,101.0 L921.7,101.1 L923.3,101.3 L925.0,101.5 L926.6,101.7 L928.2,101.9 L929.9,102.1 L931.5,102.4 L933.1,102.6 L934.7,102.9 L936.4,103.1 L938.0,103.4 L939.6,103.7 L941.2,104.0 L942.9,104.3 L944.5,104.6 L946.1,105.0 L947.7,105.3 L949.3,105.7 L950.9,106.1 L952.6,106.4 L954.2,106.8 L955.8,107.3 C958.7,108.2 960.3,108.5 962.9,109.9 C965.0,111.0 965.9,112.0 967.6,113.7 C968.9,115.0 969.7,115.8 970.5,117.4 C971.4,119.2 971.4,120.3 971.9,122.2 C972.3,124.1 972.3,125.1 972.8,126.9 C973.4,129.2 974.1,130.3 974.7,132.6 C975.8,136.7 976.3,138.8 977.1,143.0 C977.8,146.6 978.1,148.4 978.6,152.0 C980.0,163.0 980.6,168.6 981.9,179.6 C982.8,187.2 983.6,191.0 984.3,198.7 C985.6,211.9 985.9,218.6 987.0,231.8" stroke="#ff7070" stroke-width="1.3" stroke-opacity="0.35"/>
</g>
<g opacity="0.48"><g fill="none" stroke="#ffffff" stroke-linecap="butt" stroke-linejoin="round">
<g stroke-width="2.4">
<path d="M364.8,440 V462 C364.8,468.5 359.5,473 353,473 C347.5,473 343,470.5 341,467"/>
<path d="M374,473 V440 L405.5,473 V440"/>
<path d="M412.1,457.3 H427.4"/>
<path d="M460,440 H434.6 V473 H460 M434.6,456.2 H454.3"/>
<path d="M466.2,473 V447.3 M466.2,451.5 C468.5,448.5 473,447.3 478.5,447.3 C485.5,447.3 490.5,451.5 490.5,458 V473"/>
<path d="M526.4,447.3 V476 C526.4,481 520.5,484.4 512.5,484.4 C506,484.4 501.5,482 498.9,479.6"/>
<path d="M533.8,447.3 V473"/>
<path d="M542.2,473 V447.3 M542.2,451.5 C544.5,448.5 549,447.3 554.5,447.3 C561.5,447.3 566.9,451.5 566.9,458 V473"/>
<path d="M572.5,459.5 H604 C604,452 597,447.3 588,447.3 C579,447.3 572,453 572,460.2 C572,467.5 579,473 588,473 C594.5,473 600,470.8 603,467.5"/>
<path d="M609.2,459.5 H639.3 C639.3,452 632.5,447.3 624,447.3 C615.5,447.3 608.7,453 608.7,460.2 C608.7,467.5 615.5,473 624,473 C630.5,473 636,470.8 638.5,467.5"/>
<path d="M646.3,473 V447.3 M646.3,456 C646.3,451 651.5,447.3 658,447.3 C662,447.3 665,447.8 667,448.8"/>
<path d="M674.2,447.3 V473"/>
<path d="M682.2,473 V447.3 M682.2,451.5 C684.5,448.5 689,447.3 694.5,447.3 C701.5,447.3 706.9,451.5 706.9,458 V473"/>
<path d="M743.3,447.3 V476 C743.3,481 737,484.4 729,484.4 C722,484.4 717.5,482 714.9,479.2"/>
<ellipse cx="512.45" cy="460.2" rx="13.95" ry="12.9"/>
<ellipse cx="728" cy="460.2" rx="15.3" ry="12.9"/>
</g><g stroke-width="2.0">
<path d="M315.2,522.5 V503.4 H324.5 C329,503.4 332.3,506 332.3,509 C332.3,512 329,514.5 324.5,514.5 H315.2"/>
<path d="M338.1,522.5 V503.4 M338.1,509.5 C338.5,505.5 341.5,503.4 346,503.4 C349.5,503.4 352,503.8 353.4,504.5"/>
<path d="M384,522.5 V507 C384,505 385.5,503.6 387.5,503.6 H399.3 M384,512.5 H396.4"/>
<path d="M402,512.5 H423.6 C423.6,507 418.5,503 412.5,503 C406.5,503 401.5,507.3 401.5,512.8 C401.5,518.5 406.5,523 412.5,523 C417,523 420.8,521.8 422.9,520.2"/>
<path d="M448.4,506.6 C446.5,504.3 443,503 438.8,503 C432.5,503 428.5,505.2 428.5,508 C428.5,511 432.5,512 438.8,512.7 C445.5,513.4 449.5,514.7 449.5,517.7 C449.5,520.8 445,523 438.8,523 C434,523 430.2,521.5 428.4,519"/>
<path d="M472.3,506.6 C470.5,504.3 467.2,503 463.2,503 C457.2,503 453.4,505.2 453.4,508 C453.4,511 457.2,512 463.2,512.7 C469.6,513.4 473.4,514.7 473.4,517.7 C473.4,520.8 469.1,523 463.2,523 C458.6,523 455,521.5 453.2,519"/>
<path d="M478.1,503 V522.5"/>
<path d="M509.7,522.5 V503 M509.7,507.5 C511.5,504.5 514.5,503 518.7,503 C524,503 527.6,506 527.6,511 V522.5"/>
<path d="M531.6,505 C534,503.6 537.8,503 541.5,503 C547,503 550.6,505.5 550.6,510 V522.5 M550.6,511 C545,511 538.5,511.3 535.2,512.6 C532.7,513.6 531.6,515.3 531.6,517.2 C531.6,520.6 535.5,522.8 541,522.8 C546,522.8 549.5,521.2 550.6,518.5"/>
<path d="M556.6,503 V522.5 H571.9"/>
<path d="M612.6,507.7 C610.5,504.7 607,503 602.8,503 C597,503 592.6,507.3 592.6,512.8 C592.6,518.3 597,522.7 602.8,522.7 C607,522.7 610.6,521.8 612.6,519"/>
<path d="M615.7,503 V522.5 M632.5,503 V522.5 M615.7,512.5 H632.5"/>
<path d="M636.9,503 V522.5"/>
<path d="M641.1,522.5 V503.4 H650 C654.5,503.4 658,506 658,509 C658,512 654.5,514.5 650,514.5 H641.1"/>
<path d="M660.9,503.5 H679.8 M670.2,503.5 V522.5"/>
<path d="M683,503 V513.5 C683,519 687,522.7 692.1,522.7 C697.2,522.7 701.2,519 701.2,513.5 M701.2,503 V522.5"/>
<path d="M705.5,522.5 V503 M705.5,507.5 C707.5,504.5 710.5,503 714.5,503 C720,503 723.4,506 723.4,511 V522.5"/>
<path d="M728.1,503 V522.5"/>
<path d="M732.6,522.5 V503 M732.6,507.5 C734.6,504.5 737.6,503 741.6,503 C747.3,503 750.9,506 750.9,511 V522.5"/>
<path d="M773.5,507 C771.5,504.5 768,503 764.3,503 C758.8,503 754.8,507.3 754.8,512.8 C754.8,518.5 758.8,522.8 764.3,522.8 C769.8,522.8 773.8,519.8 773.8,516 V513.8 H763.6"/>
<ellipse cx="366.65" cy="512.8" rx="11.45" ry="10"/>
<ellipse cx="493.9" cy="512.8" rx="11.8" ry="10"/>
</g></g>
<g fill="#ffffff">
<rect x="532.8" y="439" width="2" height="3.8"/>
<rect x="673.2" y="439" width="2" height="3.8"/>
</g></g>
</svg></body></html>
